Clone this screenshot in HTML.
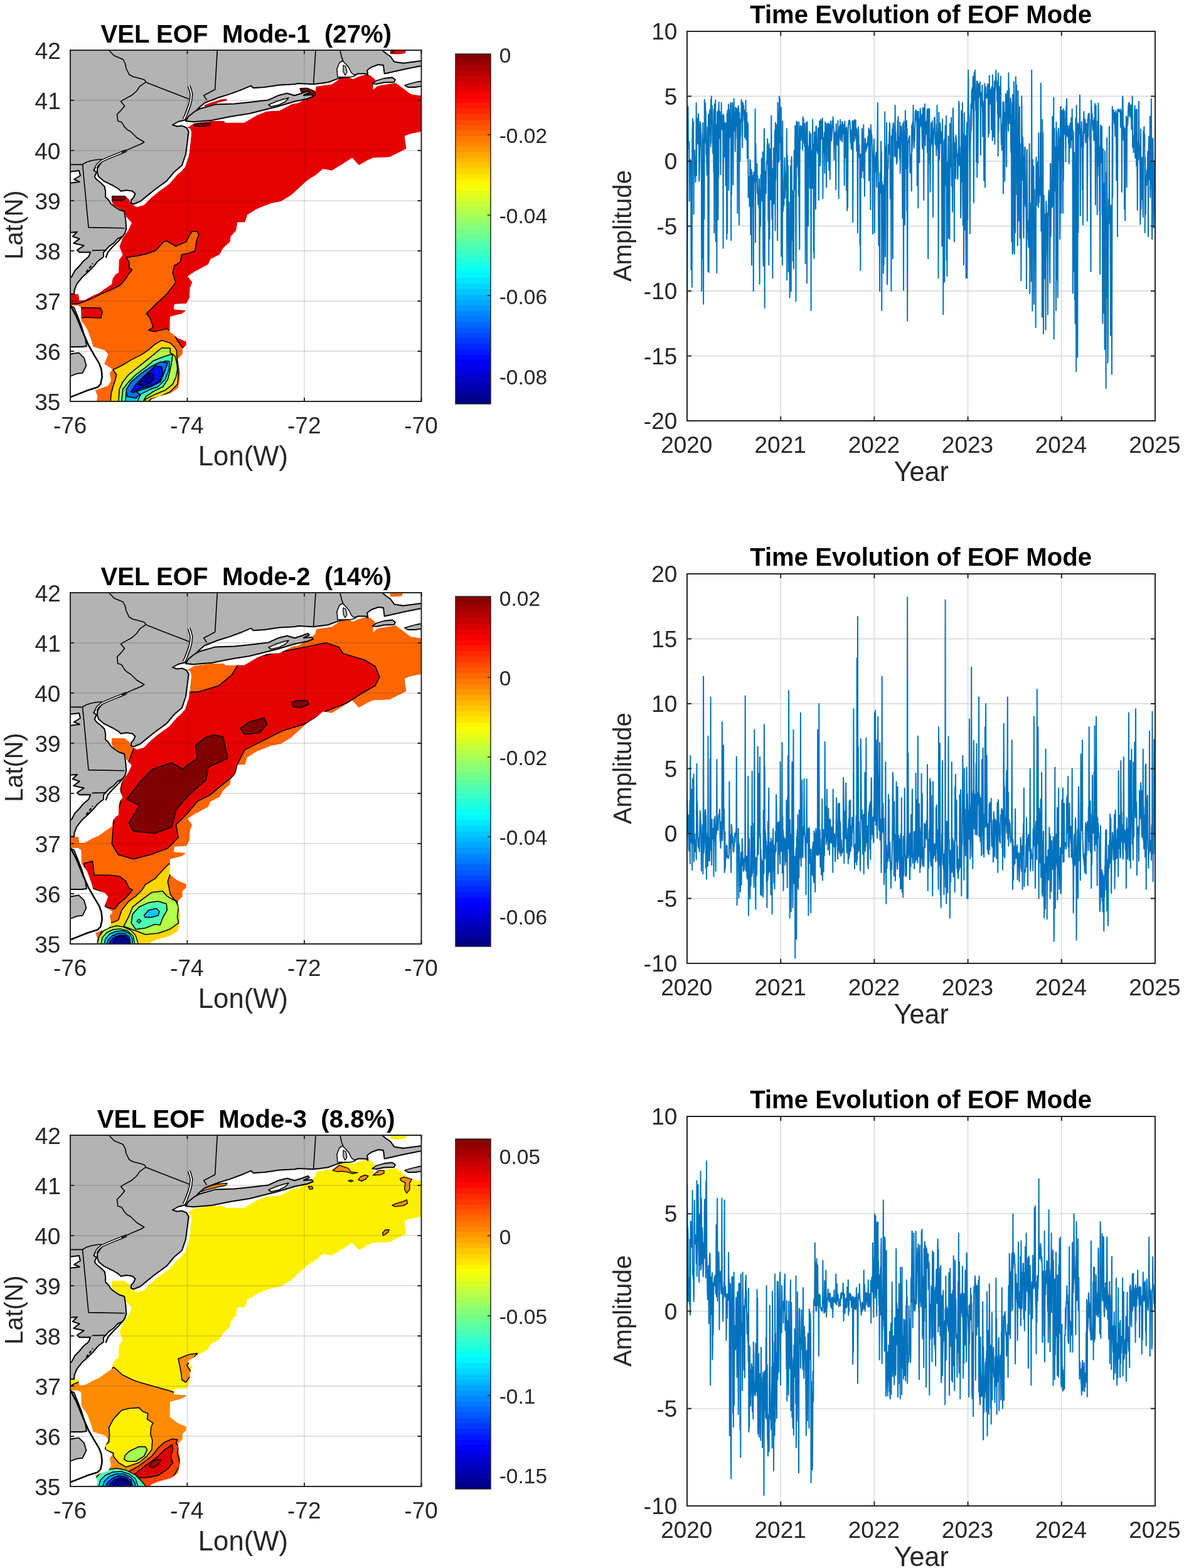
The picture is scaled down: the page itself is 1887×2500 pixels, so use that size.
<!DOCTYPE html><html><head><meta charset="utf-8"><title>EOF Modes</title>
<style>html,body{margin:0;padding:0;background:#fff;}svg{display:block;}text{font-family:"Liberation Sans", Arial, Helvetica, sans-serif;}</style></head><body>
<svg width="1887" height="2500" viewBox="0 0 1887 2500">
<rect width="1887" height="2500" fill="#fff"/>
<defs><linearGradient id="jet" x1="0" y1="1" x2="0" y2="0">
<stop offset="0.0000" stop-color="#000087"/><stop offset="0.0156" stop-color="#000087"/>
<stop offset="0.0156" stop-color="#000097"/><stop offset="0.0312" stop-color="#000097"/>
<stop offset="0.0312" stop-color="#0000a7"/><stop offset="0.0469" stop-color="#0000a7"/>
<stop offset="0.0469" stop-color="#0000b7"/><stop offset="0.0625" stop-color="#0000b7"/>
<stop offset="0.0625" stop-color="#0000c7"/><stop offset="0.0781" stop-color="#0000c7"/>
<stop offset="0.0781" stop-color="#0000d7"/><stop offset="0.0938" stop-color="#0000d7"/>
<stop offset="0.0938" stop-color="#0000e7"/><stop offset="0.1094" stop-color="#0000e7"/>
<stop offset="0.1094" stop-color="#0000f7"/><stop offset="0.1250" stop-color="#0000f7"/>
<stop offset="0.1250" stop-color="#0008ff"/><stop offset="0.1406" stop-color="#0008ff"/>
<stop offset="0.1406" stop-color="#0018ff"/><stop offset="0.1562" stop-color="#0018ff"/>
<stop offset="0.1562" stop-color="#0028ff"/><stop offset="0.1719" stop-color="#0028ff"/>
<stop offset="0.1719" stop-color="#0038ff"/><stop offset="0.1875" stop-color="#0038ff"/>
<stop offset="0.1875" stop-color="#0048ff"/><stop offset="0.2031" stop-color="#0048ff"/>
<stop offset="0.2031" stop-color="#0058ff"/><stop offset="0.2188" stop-color="#0058ff"/>
<stop offset="0.2188" stop-color="#0068ff"/><stop offset="0.2344" stop-color="#0068ff"/>
<stop offset="0.2344" stop-color="#0078ff"/><stop offset="0.2500" stop-color="#0078ff"/>
<stop offset="0.2500" stop-color="#0087ff"/><stop offset="0.2656" stop-color="#0087ff"/>
<stop offset="0.2656" stop-color="#0097ff"/><stop offset="0.2812" stop-color="#0097ff"/>
<stop offset="0.2812" stop-color="#00a7ff"/><stop offset="0.2969" stop-color="#00a7ff"/>
<stop offset="0.2969" stop-color="#00b7ff"/><stop offset="0.3125" stop-color="#00b7ff"/>
<stop offset="0.3125" stop-color="#00c7ff"/><stop offset="0.3281" stop-color="#00c7ff"/>
<stop offset="0.3281" stop-color="#00d7ff"/><stop offset="0.3438" stop-color="#00d7ff"/>
<stop offset="0.3438" stop-color="#00e7ff"/><stop offset="0.3594" stop-color="#00e7ff"/>
<stop offset="0.3594" stop-color="#00f7ff"/><stop offset="0.3750" stop-color="#00f7ff"/>
<stop offset="0.3750" stop-color="#08fff7"/><stop offset="0.3906" stop-color="#08fff7"/>
<stop offset="0.3906" stop-color="#18ffe7"/><stop offset="0.4062" stop-color="#18ffe7"/>
<stop offset="0.4062" stop-color="#28ffd7"/><stop offset="0.4219" stop-color="#28ffd7"/>
<stop offset="0.4219" stop-color="#38ffc7"/><stop offset="0.4375" stop-color="#38ffc7"/>
<stop offset="0.4375" stop-color="#48ffb7"/><stop offset="0.4531" stop-color="#48ffb7"/>
<stop offset="0.4531" stop-color="#58ffa7"/><stop offset="0.4688" stop-color="#58ffa7"/>
<stop offset="0.4688" stop-color="#68ff97"/><stop offset="0.4844" stop-color="#68ff97"/>
<stop offset="0.4844" stop-color="#78ff87"/><stop offset="0.5000" stop-color="#78ff87"/>
<stop offset="0.5000" stop-color="#87ff78"/><stop offset="0.5156" stop-color="#87ff78"/>
<stop offset="0.5156" stop-color="#97ff68"/><stop offset="0.5312" stop-color="#97ff68"/>
<stop offset="0.5312" stop-color="#a7ff58"/><stop offset="0.5469" stop-color="#a7ff58"/>
<stop offset="0.5469" stop-color="#b7ff48"/><stop offset="0.5625" stop-color="#b7ff48"/>
<stop offset="0.5625" stop-color="#c7ff38"/><stop offset="0.5781" stop-color="#c7ff38"/>
<stop offset="0.5781" stop-color="#d7ff28"/><stop offset="0.5938" stop-color="#d7ff28"/>
<stop offset="0.5938" stop-color="#e7ff18"/><stop offset="0.6094" stop-color="#e7ff18"/>
<stop offset="0.6094" stop-color="#f7ff08"/><stop offset="0.6250" stop-color="#f7ff08"/>
<stop offset="0.6250" stop-color="#fff700"/><stop offset="0.6406" stop-color="#fff700"/>
<stop offset="0.6406" stop-color="#ffe700"/><stop offset="0.6562" stop-color="#ffe700"/>
<stop offset="0.6562" stop-color="#ffd700"/><stop offset="0.6719" stop-color="#ffd700"/>
<stop offset="0.6719" stop-color="#ffc700"/><stop offset="0.6875" stop-color="#ffc700"/>
<stop offset="0.6875" stop-color="#ffb700"/><stop offset="0.7031" stop-color="#ffb700"/>
<stop offset="0.7031" stop-color="#ffa700"/><stop offset="0.7188" stop-color="#ffa700"/>
<stop offset="0.7188" stop-color="#ff9700"/><stop offset="0.7344" stop-color="#ff9700"/>
<stop offset="0.7344" stop-color="#ff8700"/><stop offset="0.7500" stop-color="#ff8700"/>
<stop offset="0.7500" stop-color="#ff7800"/><stop offset="0.7656" stop-color="#ff7800"/>
<stop offset="0.7656" stop-color="#ff6800"/><stop offset="0.7812" stop-color="#ff6800"/>
<stop offset="0.7812" stop-color="#ff5800"/><stop offset="0.7969" stop-color="#ff5800"/>
<stop offset="0.7969" stop-color="#ff4800"/><stop offset="0.8125" stop-color="#ff4800"/>
<stop offset="0.8125" stop-color="#ff3800"/><stop offset="0.8281" stop-color="#ff3800"/>
<stop offset="0.8281" stop-color="#ff2800"/><stop offset="0.8438" stop-color="#ff2800"/>
<stop offset="0.8438" stop-color="#ff1800"/><stop offset="0.8594" stop-color="#ff1800"/>
<stop offset="0.8594" stop-color="#ff0800"/><stop offset="0.8750" stop-color="#ff0800"/>
<stop offset="0.8750" stop-color="#f70000"/><stop offset="0.8906" stop-color="#f70000"/>
<stop offset="0.8906" stop-color="#e70000"/><stop offset="0.9062" stop-color="#e70000"/>
<stop offset="0.9062" stop-color="#d70000"/><stop offset="0.9219" stop-color="#d70000"/>
<stop offset="0.9219" stop-color="#c70000"/><stop offset="0.9375" stop-color="#c70000"/>
<stop offset="0.9375" stop-color="#b70000"/><stop offset="0.9531" stop-color="#b70000"/>
<stop offset="0.9531" stop-color="#a70000"/><stop offset="0.9688" stop-color="#a70000"/>
<stop offset="0.9688" stop-color="#970000"/><stop offset="0.9844" stop-color="#970000"/>
<stop offset="0.9844" stop-color="#870000"/><stop offset="1.0000" stop-color="#870000"/>
</linearGradient>
<clipPath id="mapclip"><rect x="112.0" y="80.0" width="559.5" height="560.0"/></clipPath>
<clipPath id="tsclip"><rect x="1095.0" y="50.0" width="746.0" height="621.0"/></clipPath>
</defs>
<g transform="translate(0,0)">
<g clip-path="url(#mapclip)">
<rect x="112" y="80" width="560" height="560" fill="#fff"/>
<path d="M298.0 204.0L309.0 196.6L335.5 193.0L357.0 193.0L359.5 195.4L389.4 195.4L409.8 183.4L425.3 177.4L445.7 176.2L466.0 165.4L475.0 164.2L493.0 154.6L502.5 145.1L503.7 137.9L528.9 134.3L540.9 125.9L552.8 122.3L562.4 125.9L570.8 122.3L582.8 118.7L590.0 119.9L598.4 127.1L594.8 135.5L594.8 142.7L602.0 136.7L630.7 131.9L645.0 142.7L654.6 149.9L669.0 152.3L674.0 152.3L674.0 209.7L654.6 213.3L645.0 216.9L647.5 237.3L621.1 250.5L594.8 251.7L586.4 255.2L572.0 263.6L561.2 251.7L544.5 262.4L528.9 272.0L514.5 269.6L504.9 278.0L490.0 287.5L475.6 300.7L463.7 311.4L448.1 321.0L431.3 324.6L409.8 333.0L394.2 342.6L390.6 354.6L378.6 354.6L376.2 367.7L367.8 377.3L366.6 385.7L355.9 395.3L349.9 406.0L335.5 413.2L331.9 421.6L316.3 430.0L310.0 433.3L299.2 440.5L306.4 450.0L302.8 459.4L302.0 475.0L297.0 484.0L278.0 485.0L277.0 493.0L297.0 495.0L290.0 500.0L271.0 505.0L270.5 528.8L282.5 538.4L296.8 544.4L296.8 550.4L290.8 556.0L290.8 564.8L283.7 571.9L284.8 582.7L287.2 594.7L286.0 606.7L283.7 618.7L271.7 627.0L253.7 631.8L241.7 636.6L235.7 645.0L153.0 645.0L155.5 631.8L151.9 622.2L172.3 615.1L177.1 606.7L174.7 594.7L179.5 588.7L166.3 580.3L172.3 564.8L167.5 558.8L148.3 552.8L145.9 543.2L138.7 524.0L129.8 512.1L129.2 490.5L124.4 486.9L110.0 487.0L110.0 469.0L125.0 469.0L126.7 479.0L135.4 478.2L148.4 471.0L157.1 467.4L167.2 460.2L178.0 452.9L179.5 444.2L184.5 437.0L188.9 434.8L189.6 414.6L195.4 406.6L193.9 402.3L190.3 393.6L194.7 380.6L201.2 371.2L204.8 366.2L209.8 355.3L201.0 345.8L199.0 338.0L193.8 335.1L181.9 327.9L178.0 322.0L178.0 312.0L199.0 312.0L206.0 318.0L209.0 325.0L218.0 330.0L229.0 327.0L240.0 316.0L252.0 306.0L270.0 293.0L282.0 279.0L289.0 273.0L295.0 266.0L301.0 248.0L304.0 222.0L305.0 211.0L303.0 205.0Z" fill="#e60000"/>
<path d="M309.0 198.0L318.0 196.5L335.0 196.5L334.0 200.0L320.0 201.5L310.0 201.0Z" fill="#800000" stroke="#000" stroke-width="1.3" stroke-linejoin="round"/>
<path d="M178.3 312.3L198.6 312.3L201.0 316.0L195.0 319.5L178.3 319.5Z" fill="#800000" stroke="#000" stroke-width="1.3" stroke-linejoin="round"/>
<path d="M105.0 484.5L124.4 484.5L145.9 476.1L160.3 469.0L177.1 462.0L191.4 454.8L199.8 445.2L203.4 439.3L210.6 429.7L205.8 427.3L205.8 417.7L201.0 410.5L217.8 408.1L229.8 405.7L247.7 399.7L260.9 385.4L265.7 384.2L280.0 392.6L296.8 385.4L301.6 375.8L306.0 369.0L314.0 369.0L317.0 374.0L313.0 385.0L311.0 400.0L300.0 404.0L289.6 405.7L287.2 417.7L277.7 423.7L275.3 435.7L280.0 450.0L278.9 452.2L265.7 469.0L247.7 485.7L233.4 500.1L239.3 507.3L244.1 521.6L236.9 526.4L246.5 528.8L265.7 524.0L277.7 531.2L281.3 540.8L289.6 552.8L300.0 560.0L300.0 660.0L105.0 660.0Z" fill="#ff6600" stroke="#000" stroke-width="1.6" stroke-linejoin="round"/>
<path d="M129.2 490.5L160.0 491.0L163.0 497.0L161.0 507.0L135.0 506.0L129.2 507.3Z" fill="#e60000" stroke="#000" stroke-width="1.6" stroke-linejoin="round"/>
<path d="M176.0 645.0L177.0 628.4L180.1 616.7L184.0 605.0L185.6 597.3L180.1 589.5L193.3 583.2L208.9 573.9L224.5 566.1L236.1 558.3L247.8 548.2L257.9 542.8L271.2 546.7L277.4 552.9L281.3 558.3L282.0 570.0L284.0 585.0L284.0 600.0L282.8 612.8L271.2 624.5L255.6 632.3L240.0 636.2L232.0 645.0Z" fill="#ffd600" stroke="#000" stroke-width="1.6" stroke-linejoin="round"/>
<path d="M188.7 645.0L190.2 620.6L195.7 608.9L205.0 597.3L216.7 587.9L232.3 575.5L243.9 566.1L257.9 554.5L271.2 555.2L271.2 562.2L279.0 567.7L282.0 580.0L282.8 589.5L280.5 601.1L275.1 612.8L263.4 622.2L247.8 628.4L232.3 636.2L229.1 645.0Z" fill="#b4ff4b" stroke="#000" stroke-width="1.6" stroke-linejoin="round"/>
<path d="M193.3 645.0L195.7 620.6L205.0 608.9L216.7 597.3L232.3 585.6L243.9 575.5L263.4 567.7L275.1 564.6L274.0 575.0L271.2 589.5L267.3 605.0L259.5 616.7L243.9 624.5L232.3 632.3L226.0 645.0Z" fill="#4dffb3" stroke="#000" stroke-width="1.6" stroke-linejoin="round"/>
<path d="M199.6 645.0L201.1 624.5L208.9 616.7L220.6 605.0L236.1 593.4L247.8 583.2L263.4 575.5L270.0 576.0L269.6 587.9L263.4 605.0L251.7 616.7L240.0 620.6L224.5 628.4L220.6 636.2L218.2 645.0Z" fill="#00c8ff" stroke="#000" stroke-width="1.6" stroke-linejoin="round"/>
<path d="M202.7 632.3L216.7 634.6L222.9 628.4L216.7 624.5L240.0 616.7L255.6 608.9L263.4 589.5L267.3 578.6L255.6 577.0L240.0 584.8L224.5 595.7L208.9 608.9L201.1 620.6Z" fill="#0070ff" stroke="#000" stroke-width="1.6" stroke-linejoin="round"/>
<path d="M208.9 624.5L216.7 612.8L232.3 597.3L247.8 583.2L257.9 584.8L259.5 595.7L254.0 608.9L240.0 615.2L224.5 619.0L212.8 626.0Z" fill="#0010f0" stroke="#000" stroke-width="1.6" stroke-linejoin="round"/>
<path d="M220.6 612.8L228.4 601.1L240.0 594.1L243.9 597.3L244.7 605.0L236.1 612.8L226.0 615.2Z" fill="#000096" stroke="#000" stroke-width="1.6" stroke-linejoin="round"/>
<path d="M100.0 70.0L690.0 70.0L690.0 650.0L100.0 650.0ZM298.0 204.0L309.0 196.6L335.5 193.0L357.0 193.0L359.5 195.4L389.4 195.4L409.8 183.4L425.3 177.4L445.7 176.2L466.0 165.4L475.0 164.2L493.0 154.6L502.5 145.1L503.7 137.9L528.9 134.3L540.9 125.9L552.8 122.3L562.4 125.9L570.8 122.3L582.8 118.7L590.0 119.9L598.4 127.1L594.8 135.5L594.8 142.7L602.0 136.7L630.7 131.9L645.0 142.7L654.6 149.9L669.0 152.3L674.0 152.3L674.0 209.7L654.6 213.3L645.0 216.9L647.5 237.3L621.1 250.5L594.8 251.7L586.4 255.2L572.0 263.6L561.2 251.7L544.5 262.4L528.9 272.0L514.5 269.6L504.9 278.0L490.0 287.5L475.6 300.7L463.7 311.4L448.1 321.0L431.3 324.6L409.8 333.0L394.2 342.6L390.6 354.6L378.6 354.6L376.2 367.7L367.8 377.3L366.6 385.7L355.9 395.3L349.9 406.0L335.5 413.2L331.9 421.6L316.3 430.0L310.0 433.3L299.2 440.5L306.4 450.0L302.8 459.4L302.0 475.0L297.0 484.0L278.0 485.0L277.0 493.0L297.0 495.0L290.0 500.0L271.0 505.0L270.5 528.8L282.5 538.4L296.8 544.4L296.8 550.4L290.8 556.0L290.8 564.8L283.7 571.9L284.8 582.7L287.2 594.7L286.0 606.7L283.7 618.7L271.7 627.0L253.7 631.8L241.7 636.6L235.7 645.0L153.0 645.0L155.5 631.8L151.9 622.2L172.3 615.1L177.1 606.7L174.7 594.7L179.5 588.7L166.3 580.3L172.3 564.8L167.5 558.8L148.3 552.8L145.9 543.2L138.7 524.0L129.8 512.1L129.2 490.5L124.4 486.9L110.0 487.0L110.0 469.0L125.0 469.0L126.7 479.0L135.4 478.2L148.4 471.0L157.1 467.4L167.2 460.2L178.0 452.9L179.5 444.2L184.5 437.0L188.9 434.8L189.6 414.6L195.4 406.6L193.9 402.3L190.3 393.6L194.7 380.6L201.2 371.2L204.8 366.2L209.8 355.3L201.0 345.8L199.0 338.0L193.8 335.1L181.9 327.9L178.0 322.0L178.0 312.0L199.0 312.0L206.0 318.0L209.0 325.0L218.0 330.0L229.0 327.0L240.0 316.0L252.0 306.0L270.0 293.0L282.0 279.0L289.0 273.0L295.0 266.0L301.0 248.0L304.0 222.0L305.0 211.0L303.0 205.0Z" fill="#fff" fill-rule="evenodd"/>
<path d="M478.0 141.0L490.0 140.5L501.0 145.0L503.0 151.0L497.0 153.0L490.0 150.0L480.0 147.0Z" fill="#800000" stroke="#000" stroke-width="1.3" stroke-linejoin="round"/>
<path d="M622.0 80.0L647.0 80.0L646.0 85.0L635.0 86.5L622.0 86.0Z" fill="#e60000"/>
<path d="M622.0 80.0L629.5 80.0L629.0 86.0L622.0 86.0Z" fill="#800000"/>
<path d="M325.0 168.0L335.0 164.0L345.0 161.0L352.0 158.5L361.0 157.5L362.0 160.0L350.0 163.0L338.0 167.0L327.0 170.0Z" fill="#e60000"/>
<path d="M110.0 78.0L606.7 78.0L615.0 85.0L622.3 90.0L628.3 98.4L642.7 100.8L660.0 98.5L669.0 97.2L674.0 97.0L674.0 105.5L669.0 105.5L645.0 110.3L628.3 113.9L612.7 117.5L611.0 104.0L603.0 103.0L592.0 107.0L585.2 112.0L586.4 119.9L582.8 117.5L570.8 117.5L558.8 122.3L546.9 123.5L537.3 125.9L522.9 131.3L499.0 134.3L475.0 133.1L469.6 134.3L445.7 135.5L421.7 139.1L403.8 140.3L400.2 136.7L385.8 142.7L366.6 149.9L347.5 155.8L325.9 164.2L316.3 172.6L306.0 184.0L296.0 191.0L284.0 194.0L275.0 199.0L282.0 201.5L290.0 200.5L297.2 203.7L300.8 209.7L299.2 221.7L296.0 245.7L290.0 263.6L284.8 268.0L277.7 274.0L265.7 288.4L247.7 301.5L235.7 311.1L223.4 321.2L212.6 325.5L209.0 324.0L209.0 319.0L212.6 315.4L215.5 309.0L211.2 304.7L201.8 303.2L192.5 304.7L188.9 301.1L180.3 296.0L174.5 293.2L165.9 288.9L157.3 281.7L155.1 275.9L155.1 268.7L158.0 264.0L162.3 258.0L160.0 258.0L151.6 267.3L149.4 271.6L153.7 274.5L150.8 281.7L153.7 286.0L160.9 291.7L166.6 297.5L168.1 304.7L168.1 314.0L173.1 319.0L176.7 324.8L183.9 330.5L191.1 334.8L196.1 336.3L198.3 337.2L200.4 351.7L201.2 364.7L199.0 371.9L195.4 377.0L187.4 380.6L180.9 387.8L173.7 392.9L168.6 398.7L165.0 402.3L165.0 409.5L155.6 416.8L149.8 424.0L141.2 432.7L130.3 442.8L122.4 452.9L118.7 462.3L118.0 468.8L110.0 468.8L110.0 442.0L113.7 442.1L119.5 431.2L126.7 424.0L132.5 416.8L141.2 409.5L144.0 402.3L126.7 402.3L123.1 398.7L133.9 391.5L117.3 387.8L126.7 380.6L115.8 377.0L123.1 369.8L110.0 371.0L110.0 292.0L127.0 290.0L118.0 286.0L128.0 280.0L126.0 272.0L110.0 274.0Z" fill="#b3b3b3" fill-rule="evenodd" stroke="#000" stroke-width="2" stroke-linejoin="round"/>
<path d="M317.5 173.8L342.7 166.6L373.8 165.4L397.8 163.0L427.7 159.4L443.3 152.3L457.7 148.7L469.6 152.3L480.0 149.0L491.0 145.0L493.0 147.5L484.0 152.0L497.0 151.0L499.0 154.0L490.0 157.5L469.6 161.8L440.9 170.2L421.7 175.0L397.8 181.0L367.8 185.8L337.9 191.8L308.0 194.2L296.0 193.0L300.0 186.0L310.0 178.0Z" fill="#b3b3b3" stroke="#000" stroke-width="2" stroke-linejoin="round"/>
<path d="M428.0 167.0L440.0 162.0L452.0 158.0L460.0 156.0L455.0 162.0L445.0 167.0L432.0 170.0Z" fill="#fff" stroke="#000" stroke-width="1.6" stroke-linejoin="round"/>
<path d="M593.6 133.1L600.0 128.5L612.0 125.0L625.0 123.5L630.0 127.0L628.0 131.0L612.0 131.5L600.0 134.0Z" fill="#b3b3b3" stroke="#000" stroke-width="1.8" stroke-linejoin="round"/>
<path d="M645.0 136.0L655.0 133.0L665.0 130.5L674.0 129.0L674.0 137.0L662.0 139.0L650.0 139.0Z" fill="#b3b3b3" stroke="#000" stroke-width="1.8" stroke-linejoin="round"/>
<path d="M110.0 487.0L118.0 490.0L124.0 505.0L130.0 520.0L136.0 540.0L138.0 552.0L130.0 553.0L110.0 553.0Z" fill="#b3b3b3" stroke="#000" stroke-width="1.8" stroke-linejoin="round"/>
<path d="M110.0 564.8L125.6 562.4L134.0 570.7L137.5 582.7L131.6 594.7L122.0 595.9L110.0 600.7Z" fill="#b3b3b3" stroke="#000" stroke-width="1.8" stroke-linejoin="round"/>
<path d="M110.0 486.5L112.4 486.9L122.0 504.9L131.6 528.8L141.1 550.4L150.7 567.2L157.9 579.1L161.5 588.7L162.7 600.7L160.3 612.7L155.5 617.5L139.9 622.2L122.0 629.4L110.0 634.0" fill="none" stroke="#000" stroke-width="2.6" stroke-linejoin="round"/>
<path d="M196.1 375.6L190.0 383.0L180.0 393.0L172.0 402.0L168.6 411.0" fill="none" stroke="#000" stroke-width="2.2" stroke-linejoin="round"/>
<path d="M137.5 434.0L148.0 420.0" fill="none" stroke="#000" stroke-width="2.2" stroke-dasharray="5 3"/>
<path d="M538.0 123.0L537.0 110.0L541.0 100.0L546.0 97.0L551.0 102.0L556.0 108.0L560.0 116.0L566.0 121.0L558.0 123.0L548.0 123.0Z" fill="#fff" stroke="#000" stroke-width="1.5" stroke-linejoin="round"/>
<path d="M547.0 104.0L551.0 106.0L553.0 115.0L550.0 120.0L547.0 114.0Z" fill="#b3b3b3" stroke="#000" stroke-width="1.3" stroke-linejoin="round"/>
<path d="M301.0 137.0L303.0 142.0L305.0 150.0L304.0 160.0L302.0 168.0L299.0 176.0L296.0 184.0L293.0 190.0" fill="none" stroke="#000" stroke-width="5"/>
<path d="M301.0 137.0L303.0 142.0L305.0 150.0L304.0 160.0L302.0 168.0L299.0 176.0L296.0 184.0L293.0 190.0" fill="none" stroke="#fff" stroke-width="2"/>
<path d="M201.8 240.0L193.8 243.3L181.9 248.0L170.0 253.0L162.3 256.5L156.0 262.0L153.0 266.5" fill="none" stroke="#000" stroke-width="4.5"/>
<path d="M201.8 240.0L193.8 243.3L181.9 248.0L170.0 253.0L162.3 256.5L156.0 262.0L153.0 266.5" fill="none" stroke="#fff" stroke-width="1.6"/>
<path d="M173.5 80.0L181.9 88.8L196.2 94.8L199.8 102.0L201.0 109.0L205.8 118.7L211.8 122.3L223.8 125.3L229.8 127.1L232.8 130.7M232.8 131.3L301.5 158.0M232.8 130.7L222.6 137.9L217.8 145.0L209.4 152.3L196.2 159.4L192.6 161.8L198.6 169.0L191.4 177.4L186.6 182.2L187.8 193.0L193.8 194.8L198.6 202.6L203.4 207.3L208.2 209.7L217.8 219.3L229.8 226.5L225.0 229.5L211.8 234.9L193.8 243.3M162.7 254.0L155.0 254.5L146.0 256.0L138.0 258.5L133.5 261.0L131.6 262.4M110.0 262.4L131.6 262.4M131.6 262.4L141.1 362.6L198.6 363.8M346.3 80.0L342.7 142.7L324.7 152.3L329.5 159.4M503.1 80.0L499.6 134.3M542.0 80.0L544.5 91.2L546.9 97.2M146.9 399.4L168.6 398.7" fill="none" stroke="#000" stroke-width="1.6" stroke-linejoin="round"/>
<line x1="298.5" y1="80.0" x2="298.5" y2="640.0" stroke="#262626" stroke-opacity="0.15" stroke-width="1.8"/>
<line x1="485.0" y1="80.0" x2="485.0" y2="640.0" stroke="#262626" stroke-opacity="0.15" stroke-width="1.8"/>
<line x1="112.0" y1="560.0" x2="671.5" y2="560.0" stroke="#262626" stroke-opacity="0.15" stroke-width="1.8"/>
<line x1="112.0" y1="480.0" x2="671.5" y2="480.0" stroke="#262626" stroke-opacity="0.15" stroke-width="1.8"/>
<line x1="112.0" y1="400.0" x2="671.5" y2="400.0" stroke="#262626" stroke-opacity="0.15" stroke-width="1.8"/>
<line x1="112.0" y1="320.0" x2="671.5" y2="320.0" stroke="#262626" stroke-opacity="0.15" stroke-width="1.8"/>
<line x1="112.0" y1="240.0" x2="671.5" y2="240.0" stroke="#262626" stroke-opacity="0.15" stroke-width="1.8"/>
<line x1="112.0" y1="160.0" x2="671.5" y2="160.0" stroke="#262626" stroke-opacity="0.15" stroke-width="1.8"/>
</g>
<rect x="112.0" y="80.0" width="559.5" height="560.0" fill="none" stroke="#262626" stroke-width="2"/>
<path d="M112.0 640.0v-6M112.0 80.0v6M298.5 640.0v-6M298.5 80.0v6M485.0 640.0v-6M485.0 80.0v6M671.5 640.0v-6M671.5 80.0v6M112.0 640.0h6M671.5 640.0h-6M112.0 560.0h6M671.5 560.0h-6M112.0 480.0h6M671.5 480.0h-6M112.0 400.0h6M671.5 400.0h-6M112.0 320.0h6M671.5 320.0h-6M112.0 240.0h6M671.5 240.0h-6M112.0 160.0h6M671.5 160.0h-6M112.0 80.0h6M671.5 80.0h-6" stroke="#262626" stroke-width="2" fill="none"/>
<text x="55.31" y="654.10" font-size="37.00" fill="#262626">35</text>
<text x="55.40" y="574.10" font-size="37.00" fill="#262626">36</text>
<text x="55.68" y="494.10" font-size="37.00" fill="#262626">37</text>
<text x="55.40" y="414.10" font-size="37.00" fill="#262626">38</text>
<text x="55.50" y="334.10" font-size="37.00" fill="#262626">39</text>
<text x="55.22" y="254.10" font-size="37.00" fill="#262626">40</text>
<text x="55.59" y="174.10" font-size="37.00" fill="#262626">41</text>
<text x="55.68" y="94.10" font-size="37.00" fill="#262626">42</text>
<text x="84.92" y="691.20" font-size="37.00" fill="#262626">-76</text>
<text x="271.14" y="691.20" font-size="37.00" fill="#262626">-74</text>
<text x="458.06" y="691.20" font-size="37.00" fill="#262626">-72</text>
<text x="644.33" y="691.20" font-size="37.00" fill="#262626">-70</text>
<text x="315.79" y="742.20" font-size="43.70" fill="#262626">Lon(W)</text>
<text transform="translate(36.00,413.67) rotate(-90)" x="0" y="0" font-size="40.00" fill="#262626" textLength="110.19" lengthAdjust="spacingAndGlyphs">Lat(N)</text>
<text x="160.40" y="68.00" font-size="40.20" fill="#000" font-weight="bold" xml:space="preserve">VEL EOF  Mode-1  (27%)</text>
<rect x="726" y="86" width="56" height="558" fill="url(#jet)" stroke="#262626" stroke-width="1.5"/>
<path d="M782 214.8h-5M782 343.0h-5M782 471.2h-5M782 599.4h-5" stroke="#262626" stroke-width="1.5"/>
<text x="795.86" y="100.00" font-size="33.50" fill="#262626">0</text>
<text x="795.69" y="228.20" font-size="33.50" fill="#262626">-0.02</text>
<text x="795.69" y="356.40" font-size="33.50" fill="#262626">-0.04</text>
<text x="795.69" y="484.60" font-size="33.50" fill="#262626">-0.06</text>
<text x="795.69" y="612.80" font-size="33.50" fill="#262626">-0.08</text>
<path d="M1244.2 50.0V671.0M1393.4 50.0V671.0M1542.6 50.0V671.0M1691.8 50.0V671.0M1095.0 567.5H1841.0M1095.0 464.0H1841.0M1095.0 360.5H1841.0M1095.0 257.0H1841.0M1095.0 153.5H1841.0" stroke="#262626" stroke-opacity="0.15" stroke-width="1.8" fill="none"/>
<g clip-path="url(#tsclip)">
<path d="M1095.0 200.1L1095.4 480.6L1095.8 230.1L1096.2 232.5L1096.6 170.1L1097.0 227.4L1097.4 231.8L1097.9 237.1L1098.3 226.1L1098.7 320.8L1099.1 267.2L1099.5 278.6L1099.9 271.5L1100.3 254.3L1100.7 275.8L1101.1 260.8L1101.5 430.0L1101.9 257.6L1102.3 265.7L1102.8 457.8L1103.2 228.6L1103.6 207.3L1104.0 189.2L1104.4 216.5L1104.8 240.8L1105.2 194.2L1105.6 341.6L1106.0 251.1L1106.4 265.7L1106.8 239.5L1107.2 255.5L1107.7 280.4L1108.1 253.7L1108.5 290.2L1108.9 258.1L1109.3 245.8L1109.7 163.9L1110.1 279.7L1110.5 197.7L1110.9 216.8L1111.3 217.9L1111.7 188.3L1112.1 229.4L1112.6 222.8L1113.0 181.2L1113.4 192.9L1113.8 209.6L1114.2 289.0L1114.6 280.1L1115.0 256.1L1115.4 231.4L1115.8 194.1L1116.2 233.6L1116.6 197.5L1117.0 211.7L1117.5 214.6L1117.9 274.8L1118.3 464.0L1118.7 254.6L1119.1 266.0L1119.5 411.5L1119.9 233.5L1120.3 196.1L1120.7 315.9L1121.1 484.7L1121.5 222.5L1121.9 253.4L1122.4 349.0L1122.8 158.7L1123.2 228.8L1123.6 215.1L1124.0 163.9L1124.4 180.7L1124.8 176.9L1125.2 197.3L1125.6 246.1L1126.0 224.7L1126.4 264.4L1126.8 279.1L1127.3 232.9L1127.7 203.6L1128.1 202.3L1128.5 432.9L1128.9 182.5L1129.3 195.1L1129.7 434.0L1130.1 184.7L1130.5 187.4L1130.9 181.6L1131.3 175.3L1131.7 201.4L1132.2 211.7L1132.6 233.9L1133.0 158.4L1133.4 227.9L1133.8 153.5L1134.2 189.8L1134.6 197.2L1135.0 168.8L1135.4 179.7L1135.8 209.5L1136.2 244.7L1136.6 201.5L1137.1 228.5L1137.5 275.0L1137.9 174.2L1138.3 370.9L1138.7 165.9L1139.1 182.9L1139.5 176.7L1139.9 234.3L1140.3 159.5L1140.7 384.4L1141.1 215.5L1141.5 198.4L1142.0 221.2L1142.4 435.0L1142.8 288.0L1143.2 178.3L1143.6 206.7L1144.0 212.8L1144.4 350.6L1144.8 174.4L1145.2 284.2L1145.6 162.8L1146.0 180.4L1146.4 188.3L1146.9 220.4L1147.3 178.0L1147.7 194.5L1148.1 214.8L1148.5 278.1L1148.9 193.3L1149.3 203.8L1149.7 163.9L1150.1 204.7L1150.5 197.0L1150.9 206.5L1151.3 184.0L1151.8 197.2L1152.2 206.1L1152.6 395.7L1153.0 182.3L1153.4 185.3L1153.8 216.8L1154.2 250.1L1154.6 246.0L1155.0 209.8L1155.4 195.2L1155.8 217.6L1156.2 250.8L1156.7 296.1L1157.1 282.2L1157.5 196.4L1157.9 216.2L1158.3 381.2L1158.7 181.1L1159.1 371.9L1159.5 178.5L1159.9 175.3L1160.3 184.1L1160.7 186.1L1161.1 166.3L1161.6 302.9L1162.0 175.2L1162.4 199.0L1162.8 186.4L1163.2 219.3L1163.6 191.7L1164.0 171.4L1164.4 164.1L1164.8 164.4L1165.2 383.3L1165.6 205.4L1166.0 310.3L1166.5 189.1L1166.9 197.5L1167.3 163.4L1167.7 198.9L1168.1 168.5L1168.5 294.4L1168.9 197.2L1169.3 208.9L1169.7 157.6L1170.1 207.9L1170.5 179.4L1170.9 206.7L1171.4 187.5L1171.8 241.6L1172.2 171.2L1172.6 172.6L1173.0 186.4L1173.4 201.1L1173.8 173.3L1174.2 188.7L1174.6 220.8L1175.0 173.6L1175.4 339.8L1175.8 203.8L1176.3 185.4L1176.7 168.8L1177.1 170.3L1177.5 187.3L1177.9 358.4L1178.3 179.6L1178.7 206.1L1179.1 190.0L1179.5 257.0L1179.9 205.5L1180.3 217.8L1180.7 191.8L1181.2 193.9L1181.6 159.1L1182.0 174.7L1182.4 168.9L1182.8 162.6L1183.2 235.5L1183.6 163.9L1184.0 164.4L1184.4 167.0L1184.8 170.6L1185.2 168.6L1185.6 183.8L1186.1 192.8L1186.5 175.9L1186.9 219.0L1187.3 191.7L1187.7 212.9L1188.1 206.0L1188.5 160.1L1188.9 222.6L1189.3 220.9L1189.7 199.5L1190.1 180.1L1190.5 200.1L1191.0 252.4L1191.4 207.2L1191.8 195.5L1192.2 201.4L1192.6 314.7L1193.0 296.5L1193.4 281.5L1193.8 308.8L1194.2 287.4L1194.6 328.9L1195.0 296.7L1195.4 254.7L1195.9 261.3L1196.3 373.8L1196.7 290.7L1197.1 326.7L1197.5 270.3L1197.9 422.6L1198.3 274.5L1198.7 303.0L1199.1 321.1L1199.5 326.2L1199.9 329.5L1200.3 279.5L1200.8 464.0L1201.2 313.7L1201.6 274.1L1202.0 290.6L1202.4 286.5L1202.8 288.9L1203.2 277.5L1203.6 174.2L1204.0 386.5L1204.4 229.1L1204.8 255.8L1205.2 279.0L1205.7 288.8L1206.1 281.4L1206.5 261.3L1206.9 307.9L1207.3 280.6L1207.7 305.8L1208.1 326.2L1208.5 324.6L1208.9 321.8L1209.3 298.9L1209.7 332.0L1210.1 285.2L1210.6 452.9L1211.0 308.5L1211.4 315.2L1211.8 302.4L1212.2 360.5L1212.6 279.3L1213.0 287.7L1213.4 303.5L1213.8 252.9L1214.2 306.9L1214.6 320.6L1215.0 316.4L1215.5 242.5L1215.9 327.9L1216.3 409.0L1216.7 424.1L1217.1 302.8L1217.5 270.0L1217.9 205.2L1218.3 242.4L1218.7 490.9L1219.1 276.3L1219.5 273.5L1219.9 309.3L1220.4 294.5L1220.8 308.4L1221.2 275.1L1221.6 259.7L1222.0 261.7L1222.4 254.6L1222.8 233.6L1223.2 221.5L1223.6 259.8L1224.0 243.4L1224.4 352.1L1224.8 232.9L1225.3 422.6L1225.7 229.2L1226.1 341.4L1226.5 380.6L1226.9 237.2L1227.3 266.1L1227.7 306.7L1228.1 316.1L1228.5 318.3L1228.9 259.3L1229.3 184.6L1229.7 273.0L1230.2 349.4L1230.6 292.5L1231.0 269.2L1231.4 443.3L1231.8 307.1L1232.2 291.4L1232.6 298.0L1233.0 235.9L1233.4 325.1L1233.8 253.0L1234.2 285.3L1234.6 240.6L1235.1 206.9L1235.5 367.8L1235.9 195.4L1236.3 287.3L1236.7 230.4L1237.1 230.9L1237.5 210.6L1237.9 198.8L1238.3 224.7L1238.7 245.6L1239.1 383.3L1239.5 163.7L1240.0 214.0L1240.4 181.7L1240.8 193.9L1241.2 258.5L1241.6 255.3L1242.0 153.5L1242.4 169.3L1242.8 157.6L1243.2 218.4L1243.6 227.3L1244.0 201.0L1244.4 255.0L1244.9 171.3L1245.3 408.4L1245.7 259.3L1246.1 220.2L1246.5 264.2L1246.9 422.6L1247.3 192.9L1247.7 334.0L1248.1 336.6L1248.5 322.7L1248.9 326.5L1249.3 328.0L1249.8 289.0L1250.2 269.7L1250.6 251.5L1251.0 284.1L1251.4 316.1L1251.8 296.5L1252.2 299.4L1252.6 280.6L1253.0 275.7L1253.4 277.9L1253.8 205.2L1254.2 446.6L1254.7 247.4L1255.1 265.2L1255.5 321.6L1255.9 263.5L1256.3 363.2L1256.7 432.9L1257.1 422.5L1257.5 322.6L1257.9 433.7L1258.3 415.1L1258.7 474.4L1259.1 434.7L1259.6 371.6L1260.0 265.1L1260.4 266.6L1260.8 464.0L1261.2 258.3L1261.6 249.8L1262.0 308.3L1262.4 375.9L1262.8 383.7L1263.2 304.2L1263.6 416.3L1264.0 400.0L1264.5 329.4L1264.9 428.4L1265.3 311.3L1265.7 239.7L1266.1 243.9L1266.5 303.1L1266.9 237.7L1267.3 200.4L1267.7 251.5L1268.1 302.2L1268.5 480.6L1268.9 290.0L1269.4 193.4L1269.8 266.1L1270.2 254.2L1270.6 223.2L1271.0 194.9L1271.4 260.9L1271.8 216.7L1272.2 281.0L1272.6 242.1L1273.0 312.9L1273.4 194.4L1273.8 345.5L1274.3 397.8L1274.7 219.6L1275.1 238.5L1275.5 202.2L1275.9 200.3L1276.3 220.1L1276.7 223.6L1277.1 206.3L1277.5 202.0L1277.9 201.5L1278.3 201.6L1278.7 201.6L1279.2 239.2L1279.6 186.6L1280.0 209.8L1280.4 189.1L1280.8 192.7L1281.2 222.8L1281.6 228.5L1282.0 197.1L1282.4 233.6L1282.8 211.2L1283.2 228.1L1283.6 420.2L1284.1 212.3L1284.5 195.7L1284.9 213.4L1285.3 242.6L1285.7 223.3L1286.1 451.6L1286.5 193.9L1286.9 228.2L1287.3 233.9L1287.7 236.1L1288.1 360.5L1288.5 234.4L1289.0 241.0L1289.4 246.3L1289.8 234.5L1290.2 209.8L1290.6 300.1L1291.0 271.1L1291.4 287.8L1291.8 283.7L1292.2 213.6L1292.6 495.1L1293.0 239.0L1293.4 275.2L1293.9 277.8L1294.3 294.5L1294.7 299.9L1295.1 190.8L1295.5 246.0L1295.9 229.3L1296.3 237.9L1296.7 401.9L1297.1 231.7L1297.5 412.0L1297.9 210.3L1298.3 314.1L1298.8 242.7L1299.2 223.1L1299.6 211.5L1300.0 333.6L1300.4 201.6L1300.8 221.4L1301.2 201.4L1301.6 228.5L1302.0 238.9L1302.4 240.4L1302.8 240.9L1303.2 245.0L1303.7 222.0L1304.1 204.6L1304.5 204.1L1304.9 319.1L1305.3 213.8L1305.7 230.8L1306.1 193.3L1306.5 233.1L1306.9 238.9L1307.3 264.6L1307.7 242.6L1308.1 190.4L1308.6 198.0L1309.0 196.7L1309.4 221.3L1309.8 205.1L1310.2 196.6L1310.6 188.7L1311.0 196.2L1311.4 316.3L1311.8 219.2L1312.2 226.9L1312.6 233.2L1313.0 243.2L1313.5 230.6L1313.9 211.2L1314.3 276.6L1314.7 248.3L1315.1 194.4L1315.5 219.2L1315.9 218.6L1316.3 202.3L1316.7 213.1L1317.1 298.4L1317.5 197.2L1317.9 204.1L1318.4 202.6L1318.8 214.9L1319.2 197.5L1319.6 257.0L1320.0 198.0L1320.4 206.5L1320.8 196.5L1321.2 271.3L1321.6 219.4L1322.0 208.4L1322.4 198.8L1322.8 285.7L1323.3 233.9L1323.7 225.4L1324.1 193.0L1324.5 204.4L1324.9 210.1L1325.3 224.1L1325.7 216.8L1326.1 210.3L1326.5 201.1L1326.9 192.7L1327.3 194.8L1327.7 186.6L1328.2 203.0L1328.6 203.8L1329.0 215.8L1329.4 254.9L1329.8 229.0L1330.2 225.0L1330.6 235.0L1331.0 210.9L1331.4 210.5L1331.8 216.7L1332.2 302.5L1332.6 197.6L1333.1 211.4L1333.5 223.8L1333.9 220.1L1334.3 219.7L1334.7 231.2L1335.1 231.0L1335.5 192.8L1335.9 230.1L1336.3 214.3L1336.7 316.2L1337.1 208.7L1337.5 212.0L1338.0 201.6L1338.4 207.5L1338.8 219.1L1339.2 190.8L1339.6 221.8L1340.0 223.7L1340.4 213.9L1340.8 204.8L1341.2 198.9L1341.6 215.3L1342.0 194.2L1342.4 226.0L1342.9 194.6L1343.3 212.5L1343.7 205.0L1344.1 204.1L1344.5 198.9L1344.9 212.7L1345.3 216.2L1345.7 295.8L1346.1 198.0L1346.5 193.2L1346.9 251.6L1347.3 225.3L1347.7 213.5L1348.2 226.2L1348.6 204.0L1349.0 303.6L1349.4 202.9L1349.8 215.3L1350.2 335.7L1350.6 233.7L1351.0 330.9L1351.4 239.6L1351.8 208.1L1352.2 197.4L1352.6 196.1L1353.1 191.8L1353.5 196.5L1353.9 198.2L1354.3 192.5L1354.7 194.4L1355.1 213.9L1355.5 227.0L1355.9 210.9L1356.3 227.1L1356.7 237.4L1357.1 207.1L1357.5 238.1L1358.0 231.4L1358.4 193.1L1358.8 222.0L1359.2 354.3L1359.6 242.7L1360.0 192.7L1360.4 218.0L1360.8 213.1L1361.2 222.2L1361.6 225.1L1362.0 190.8L1362.4 204.8L1362.9 208.0L1363.3 216.1L1363.7 191.8L1364.1 221.2L1364.5 204.1L1364.9 204.7L1365.3 240.7L1365.7 206.3L1366.1 218.5L1366.5 246.4L1366.9 370.9L1367.3 232.8L1367.8 252.1L1368.2 202.5L1368.6 224.1L1369.0 238.1L1369.4 232.0L1369.8 249.1L1370.2 249.2L1370.6 390.2L1371.0 248.3L1371.4 430.9L1371.8 245.9L1372.2 249.5L1372.7 258.1L1373.1 282.8L1373.5 243.3L1373.9 204.9L1374.3 237.2L1374.7 217.1L1375.1 272.4L1375.5 235.8L1375.9 227.7L1376.3 199.0L1376.7 284.0L1377.1 256.1L1377.6 247.9L1378.0 312.9L1378.4 233.4L1378.8 220.8L1379.2 225.5L1379.6 242.5L1380.0 234.6L1380.4 239.3L1380.8 229.7L1381.2 237.4L1381.6 234.7L1382.0 232.0L1382.5 226.4L1382.9 229.1L1383.3 217.9L1383.7 232.0L1384.1 223.8L1384.5 204.2L1384.9 288.1L1385.3 218.7L1385.7 207.8L1386.1 216.0L1386.5 276.0L1386.9 206.9L1387.4 334.3L1387.8 199.0L1388.2 210.9L1388.6 209.2L1389.0 228.8L1389.4 215.6L1389.8 224.0L1390.2 236.4L1390.6 263.6L1391.0 372.9L1391.4 246.4L1391.8 255.6L1392.3 251.3L1392.7 239.3L1393.1 222.0L1393.5 269.9L1393.9 370.9L1394.3 266.0L1394.7 274.8L1395.1 273.6L1395.5 248.0L1395.9 265.8L1396.3 243.1L1396.7 263.7L1397.2 298.4L1397.6 250.3L1398.0 238.9L1398.4 211.4L1398.8 163.9L1399.2 258.0L1399.6 259.2L1400.0 333.9L1400.4 391.6L1400.8 330.1L1401.2 291.1L1401.6 369.5L1402.1 464.0L1402.5 275.6L1402.9 298.9L1403.3 307.8L1403.7 265.7L1404.1 225.4L1404.5 256.5L1404.9 242.2L1405.3 495.1L1405.7 289.6L1406.1 325.7L1406.5 336.0L1407.0 332.8L1407.4 295.2L1407.8 435.6L1408.2 349.0L1408.6 422.6L1409.0 337.3L1409.4 281.7L1409.8 313.6L1410.2 178.3L1410.6 322.2L1411.0 409.3L1411.4 268.3L1411.9 233.7L1412.3 294.2L1412.7 290.0L1413.1 195.8L1413.5 277.8L1413.9 453.6L1414.3 439.1L1414.7 272.5L1415.1 268.2L1415.5 268.5L1415.9 230.6L1416.3 232.6L1416.8 244.9L1417.2 210.8L1417.6 209.3L1418.0 196.1L1418.4 216.6L1418.8 317.0L1419.2 256.1L1419.6 281.7L1420.0 256.0L1420.4 464.0L1420.8 216.7L1421.2 329.8L1421.7 224.7L1422.1 205.7L1422.5 221.4L1422.9 412.2L1423.3 200.9L1423.7 196.1L1424.1 204.5L1424.5 202.6L1424.9 201.6L1425.3 208.6L1425.7 249.0L1426.1 227.8L1426.6 168.0L1427.0 232.9L1427.4 210.5L1427.8 250.7L1428.2 235.1L1428.6 225.4L1429.0 261.3L1429.4 256.9L1429.8 257.4L1430.2 230.6L1430.6 192.2L1431.0 228.1L1431.5 185.9L1431.9 235.8L1432.3 225.5L1432.7 218.9L1433.1 228.7L1433.5 237.1L1433.9 253.1L1434.3 194.9L1434.7 276.5L1435.1 242.3L1435.5 205.7L1435.9 214.6L1436.4 201.6L1436.8 212.9L1437.2 212.2L1437.6 244.6L1438.0 281.7L1438.4 348.1L1438.8 197.5L1439.2 205.4L1439.6 220.4L1440.0 462.7L1440.4 193.5L1440.8 223.1L1441.3 216.1L1441.7 228.7L1442.1 358.4L1442.5 260.3L1442.9 176.3L1443.3 259.8L1443.7 268.7L1444.1 252.5L1444.5 228.8L1444.9 192.5L1445.3 336.1L1445.7 205.4L1446.2 511.6L1446.6 267.1L1447.0 266.6L1447.4 228.9L1447.8 224.4L1448.2 226.4L1448.6 220.0L1449.0 221.7L1449.4 218.9L1449.8 216.6L1450.2 274.4L1450.6 275.6L1451.1 274.9L1451.5 249.3L1451.9 255.9L1452.3 245.0L1452.7 304.6L1453.1 199.7L1453.5 241.3L1453.9 227.7L1454.3 197.8L1454.7 194.0L1455.1 216.3L1455.5 168.0L1456.0 218.1L1456.4 230.3L1456.8 236.1L1457.2 210.7L1457.6 225.3L1458.0 203.1L1458.4 201.8L1458.8 179.2L1459.2 176.5L1459.6 179.9L1460.0 175.5L1460.4 192.0L1460.9 179.5L1461.3 185.0L1461.7 295.8L1462.1 177.5L1462.5 208.7L1462.9 195.0L1463.3 331.5L1463.7 177.7L1464.1 216.7L1464.5 197.7L1464.9 189.2L1465.3 259.3L1465.8 194.6L1466.2 202.9L1466.6 173.1L1467.0 179.2L1467.4 190.6L1467.8 186.5L1468.2 201.0L1468.6 182.8L1469.0 199.9L1469.4 205.4L1469.8 232.7L1470.2 237.2L1470.7 172.0L1471.1 184.4L1471.5 193.1L1471.9 225.0L1472.3 319.1L1472.7 171.9L1473.1 225.1L1473.5 212.3L1473.9 165.9L1474.3 196.0L1474.7 231.9L1475.1 193.4L1475.6 207.7L1476.0 213.7L1476.4 207.3L1476.8 213.2L1477.2 196.5L1477.6 174.0L1478.0 243.3L1478.4 226.5L1478.8 204.4L1479.2 412.2L1479.6 173.5L1480.0 220.2L1480.5 224.5L1480.9 225.4L1481.3 173.7L1481.7 261.3L1482.1 227.8L1482.5 306.0L1482.9 244.2L1483.3 222.6L1483.7 232.4L1484.1 196.3L1484.5 223.2L1484.9 211.8L1485.4 228.4L1485.8 192.9L1486.2 219.8L1486.6 240.8L1487.0 346.0L1487.4 232.5L1487.8 222.1L1488.2 204.4L1488.6 207.0L1489.0 187.8L1489.4 213.1L1489.8 187.0L1490.3 212.6L1490.7 230.3L1491.1 213.4L1491.5 227.3L1491.9 231.7L1492.3 248.0L1492.7 197.6L1493.1 232.8L1493.5 168.0L1493.9 228.6L1494.3 227.0L1494.7 237.7L1495.2 211.0L1495.6 443.3L1496.0 212.4L1496.4 179.3L1496.8 255.4L1497.2 250.9L1497.6 228.6L1498.0 227.8L1498.4 196.0L1498.8 203.7L1499.2 228.4L1499.6 209.8L1500.1 211.5L1500.5 211.6L1500.9 253.8L1501.3 391.9L1501.7 268.6L1502.1 189.9L1502.5 269.0L1502.9 252.1L1503.3 501.3L1503.7 261.9L1504.1 441.1L1504.5 226.9L1505.0 222.8L1505.4 449.5L1505.8 233.8L1506.2 217.8L1506.6 199.9L1507.0 290.4L1507.4 275.8L1507.8 296.1L1508.2 184.6L1508.6 414.8L1509.0 294.4L1509.4 440.2L1509.9 259.0L1510.3 259.6L1510.7 303.9L1511.1 255.0L1511.5 217.0L1511.9 379.2L1512.3 269.3L1512.7 279.1L1513.1 255.6L1513.5 381.2L1513.9 196.9L1514.3 245.7L1514.8 235.1L1515.2 236.6L1515.6 266.2L1516.0 187.7L1516.4 272.4L1516.8 295.0L1517.2 297.4L1517.6 268.1L1518.0 337.8L1518.4 279.5L1518.8 172.4L1519.2 183.0L1519.7 224.4L1520.1 218.8L1520.5 238.4L1520.9 385.3L1521.3 228.1L1521.7 229.5L1522.1 255.2L1522.5 269.5L1522.9 284.5L1523.3 215.4L1523.7 225.6L1524.1 219.6L1524.6 240.8L1525.0 250.4L1525.4 245.0L1525.8 280.4L1526.2 285.8L1526.6 284.5L1527.0 257.4L1527.4 245.7L1527.8 235.3L1528.2 161.8L1528.6 166.8L1529.0 263.2L1529.5 233.7L1529.9 260.9L1530.3 265.7L1530.7 258.5L1531.1 347.2L1531.5 323.5L1531.9 221.4L1532.3 177.0L1532.7 269.7L1533.1 279.2L1533.5 289.7L1533.9 163.9L1534.4 307.7L1534.8 359.2L1535.2 272.1L1535.6 213.7L1536.0 422.6L1536.4 231.8L1536.8 180.3L1537.2 257.0L1537.6 234.5L1538.0 366.6L1538.4 253.9L1538.8 216.6L1539.3 370.1L1539.7 443.3L1540.1 249.0L1540.5 220.7L1540.9 195.6L1541.3 443.3L1541.7 212.3L1542.1 350.1L1542.5 172.7L1542.9 154.5L1543.3 112.1L1543.7 183.4L1544.2 182.9L1544.6 185.1L1545.0 219.3L1545.4 256.2L1545.8 372.4L1546.2 249.7L1546.6 222.7L1547.0 220.9L1547.4 165.9L1547.8 208.4L1548.2 176.8L1548.6 144.1L1549.1 169.9L1549.5 139.8L1549.9 172.7L1550.3 153.7L1550.7 121.7L1551.1 201.6L1551.5 201.5L1551.9 323.2L1552.3 197.8L1552.7 115.9L1553.1 159.5L1553.5 133.0L1554.0 112.1L1554.4 146.7L1554.8 147.2L1555.2 176.3L1555.6 160.3L1556.0 257.7L1556.4 144.5L1556.8 129.2L1557.2 282.4L1557.6 151.7L1558.0 130.7L1558.4 260.8L1558.9 207.7L1559.3 140.8L1559.7 156.3L1560.1 133.8L1560.5 134.9L1560.9 152.3L1561.3 153.7L1561.7 130.6L1562.1 143.1L1562.5 167.2L1562.9 246.9L1563.3 147.7L1563.8 148.2L1564.2 169.4L1564.6 167.4L1565.0 152.1L1565.4 135.8L1565.8 158.3L1566.2 217.8L1566.6 161.3L1567.0 167.2L1567.4 182.0L1567.8 200.0L1568.2 288.1L1568.7 178.4L1569.1 148.4L1569.5 133.3L1569.9 298.4L1570.3 140.0L1570.7 138.8L1571.1 138.5L1571.5 152.0L1571.9 153.2L1572.3 156.2L1572.7 151.3L1573.1 153.5L1573.6 156.0L1574.0 134.9L1574.4 134.1L1574.8 148.9L1575.2 218.6L1575.6 134.5L1576.0 212.6L1576.4 212.5L1576.8 120.4L1577.2 165.7L1577.6 149.0L1578.0 153.1L1578.5 142.9L1578.9 166.2L1579.3 154.8L1579.7 141.5L1580.1 206.4L1580.5 138.6L1580.9 176.2L1581.3 141.9L1581.7 224.2L1582.1 119.4L1582.5 201.3L1582.9 156.4L1583.4 218.2L1583.8 140.2L1584.2 169.6L1584.6 213.9L1585.0 129.6L1585.4 229.9L1585.8 133.9L1586.2 144.4L1586.6 133.5L1587.0 124.3L1587.4 112.1L1587.8 131.5L1588.3 128.2L1588.7 130.7L1589.1 161.5L1589.5 133.2L1589.9 181.8L1590.3 154.2L1590.7 248.7L1591.1 116.8L1591.5 211.0L1591.9 189.2L1592.3 147.8L1592.7 137.9L1593.1 139.3L1593.6 186.6L1594.0 152.9L1594.4 172.3L1594.8 121.4L1595.2 188.1L1595.6 218.5L1596.0 230.7L1596.4 198.3L1596.8 239.5L1597.2 214.6L1597.6 223.2L1598.0 195.1L1598.5 162.5L1598.9 308.8L1599.3 185.4L1599.7 162.7L1600.1 200.0L1600.5 251.5L1600.9 179.3L1601.3 288.7L1601.7 220.5L1602.1 179.1L1602.5 183.0L1602.9 149.3L1603.4 154.2L1603.8 158.8L1604.2 265.6L1604.6 164.2L1605.0 180.2L1605.4 145.0L1605.8 169.3L1606.2 153.1L1606.6 194.4L1607.0 208.8L1607.4 116.2L1607.8 146.1L1608.3 140.5L1608.7 197.2L1609.1 164.8L1609.5 186.9L1609.9 182.4L1610.3 185.5L1610.7 156.4L1611.1 238.3L1611.5 243.7L1611.9 184.1L1612.3 385.0L1612.7 242.9L1613.2 163.5L1613.6 405.2L1614.0 150.7L1614.4 401.9L1614.8 213.6L1615.2 363.4L1615.6 231.9L1616.0 130.3L1616.4 169.6L1616.8 404.8L1617.2 191.6L1617.6 230.8L1618.1 370.9L1618.5 234.4L1618.9 122.5L1619.3 200.6L1619.7 211.7L1620.1 135.7L1620.5 310.3L1620.9 268.7L1621.3 228.9L1621.7 391.6L1622.1 309.7L1622.5 144.7L1623.0 194.7L1623.4 352.0L1623.8 224.6L1624.2 185.0L1624.6 223.7L1625.0 170.0L1625.4 379.5L1625.8 229.0L1626.2 306.4L1626.6 342.6L1627.0 327.8L1627.4 447.4L1627.9 298.5L1628.3 153.5L1628.7 198.3L1629.1 287.0L1629.5 228.7L1629.9 218.6L1630.3 226.5L1630.7 236.0L1631.1 352.1L1631.5 379.2L1631.9 327.0L1632.3 249.4L1632.8 325.2L1633.2 235.3L1633.6 234.4L1634.0 279.6L1634.4 329.6L1634.8 304.2L1635.2 299.3L1635.6 364.7L1636.0 459.9L1636.4 242.4L1636.8 238.4L1637.2 327.1L1637.7 369.1L1638.1 352.5L1638.5 381.2L1638.9 379.7L1639.3 394.3L1639.7 383.8L1640.1 342.7L1640.5 229.3L1640.9 253.7L1641.3 468.1L1641.7 323.7L1642.1 350.4L1642.6 335.9L1643.0 336.7L1643.4 366.7L1643.8 448.5L1644.2 112.1L1644.6 311.7L1645.0 343.7L1645.4 495.6L1645.8 254.6L1646.2 351.9L1646.6 357.7L1647.0 282.0L1647.5 265.2L1647.9 484.7L1648.3 400.7L1648.7 302.7L1649.1 387.4L1649.5 409.7L1649.9 345.3L1650.3 387.3L1650.7 522.0L1651.1 293.3L1651.5 250.4L1651.9 305.3L1652.4 327.1L1652.8 261.9L1653.2 313.9L1653.6 263.2L1654.0 258.1L1654.4 264.5L1654.8 330.7L1655.2 212.2L1655.6 305.0L1656.0 322.9L1656.4 285.3L1656.8 283.3L1657.3 311.4L1657.7 308.1L1658.1 211.5L1658.5 294.3L1658.9 132.8L1659.3 368.5L1659.7 366.6L1660.1 360.9L1660.5 325.8L1660.9 505.4L1661.3 190.8L1661.7 366.6L1662.2 211.8L1662.6 322.3L1663.0 532.3L1663.4 386.7L1663.8 311.8L1664.2 343.0L1664.6 357.9L1665.0 443.9L1665.4 362.3L1665.8 341.7L1666.2 406.6L1666.6 526.1L1667.1 320.8L1667.5 325.5L1667.9 360.1L1668.3 378.9L1668.7 339.6L1669.1 399.3L1669.5 412.6L1669.9 501.6L1670.3 344.5L1670.7 342.1L1671.1 314.1L1671.5 303.3L1672.0 310.7L1672.4 323.2L1672.8 403.3L1673.2 451.2L1673.6 378.5L1674.0 260.8L1674.4 324.0L1674.8 376.5L1675.2 292.2L1675.6 309.3L1676.0 331.4L1676.4 262.5L1676.9 258.4L1677.3 186.0L1677.7 329.5L1678.1 318.5L1678.5 253.7L1678.9 309.6L1679.3 155.6L1679.7 540.6L1680.1 266.5L1680.5 205.1L1680.9 253.9L1681.3 252.0L1681.8 272.8L1682.2 304.9L1682.6 234.8L1683.0 495.1L1683.4 194.8L1683.8 223.5L1684.2 210.2L1684.6 446.3L1685.0 256.4L1685.4 235.6L1685.8 474.4L1686.2 289.7L1686.7 210.5L1687.1 204.5L1687.5 215.7L1687.9 227.9L1688.3 255.9L1688.7 222.5L1689.1 381.2L1689.5 360.5L1689.9 204.4L1690.3 170.1L1690.7 170.1L1691.1 339.6L1691.6 206.5L1692.0 199.2L1692.4 178.1L1692.8 176.1L1693.2 177.0L1693.6 265.7L1694.0 339.8L1694.4 189.3L1694.8 287.9L1695.2 173.8L1695.6 189.3L1696.0 177.1L1696.5 177.5L1696.9 211.0L1697.3 214.5L1697.7 208.2L1698.1 206.1L1698.5 257.8L1698.9 191.1L1699.3 168.8L1699.7 198.8L1700.1 157.6L1700.5 215.5L1700.9 203.9L1701.4 218.0L1701.8 200.7L1702.2 203.8L1702.6 207.6L1703.0 228.9L1703.4 223.5L1703.8 261.1L1704.2 217.0L1704.6 200.5L1705.0 214.0L1705.4 199.5L1705.8 196.7L1706.3 236.0L1706.7 234.9L1707.1 188.3L1707.5 205.7L1707.9 216.5L1708.3 222.9L1708.7 173.7L1709.1 212.3L1709.5 206.1L1709.9 467.4L1710.3 209.3L1710.7 211.6L1711.2 283.3L1711.6 432.9L1712.0 242.7L1712.4 275.9L1712.8 477.5L1713.2 269.3L1713.6 515.8L1714.0 446.9L1714.4 188.6L1714.8 230.1L1715.2 592.3L1715.6 168.0L1716.1 221.4L1716.5 213.0L1716.9 247.6L1717.3 569.6L1717.7 208.3L1718.1 196.2L1718.5 370.7L1718.9 198.2L1719.3 213.8L1719.7 202.5L1720.1 198.6L1720.5 206.4L1721.0 151.4L1721.4 218.7L1721.8 343.9L1722.2 216.6L1722.6 206.3L1723.0 216.7L1723.4 233.0L1723.8 194.2L1724.2 208.5L1724.6 209.5L1725.0 303.3L1725.4 217.2L1725.9 358.4L1726.3 225.7L1726.7 235.6L1727.1 189.4L1727.5 178.1L1727.9 212.1L1728.3 200.9L1728.7 197.4L1729.1 203.0L1729.5 190.5L1729.9 219.6L1730.3 227.5L1730.8 210.1L1731.2 214.5L1731.6 197.0L1732.0 197.7L1732.4 212.6L1732.8 352.2L1733.2 278.8L1733.6 189.6L1734.0 217.9L1734.4 181.8L1734.8 188.4L1735.2 181.6L1735.7 180.6L1736.1 186.6L1736.5 196.7L1736.9 222.8L1737.3 224.4L1737.7 253.8L1738.1 342.4L1738.5 432.9L1738.9 201.0L1739.3 159.7L1739.7 179.9L1740.1 181.8L1740.6 181.6L1741.0 196.5L1741.4 201.5L1741.8 208.2L1742.2 203.3L1742.6 192.8L1743.0 202.1L1743.4 223.7L1743.8 189.2L1744.2 187.6L1744.6 224.3L1745.0 165.2L1745.5 214.9L1745.9 326.5L1746.3 239.9L1746.7 168.3L1747.1 238.6L1747.5 230.0L1747.9 233.3L1748.3 251.5L1748.7 341.9L1749.1 193.8L1749.5 280.2L1749.9 234.3L1750.4 164.8L1750.8 178.3L1751.2 264.6L1751.6 234.1L1752.0 247.8L1752.4 336.2L1752.8 241.8L1753.2 437.1L1753.6 240.5L1754.0 199.5L1754.4 259.6L1754.8 249.1L1755.3 250.5L1755.7 257.8L1756.1 201.5L1756.5 342.5L1756.9 318.3L1757.3 515.5L1757.7 474.4L1758.1 237.4L1758.5 491.5L1758.9 498.8L1759.3 366.9L1759.7 473.5L1760.2 292.1L1760.6 557.1L1761.0 240.6L1761.4 526.2L1761.8 460.6L1762.2 399.4L1762.6 619.2L1763.0 407.4L1763.4 274.4L1763.8 474.9L1764.2 219.7L1764.6 382.9L1765.1 375.3L1765.5 578.6L1765.9 555.9L1766.3 405.6L1766.7 321.8L1767.1 316.7L1767.5 342.3L1767.9 201.9L1768.3 327.3L1768.7 356.7L1769.1 343.6L1769.5 333.5L1770.0 534.4L1770.4 327.2L1770.8 395.1L1771.2 376.1L1771.6 353.9L1772.0 596.5L1772.4 360.5L1772.8 170.1L1773.2 315.0L1773.6 194.4L1774.0 186.4L1774.4 175.5L1774.9 175.6L1775.3 183.0L1775.7 183.4L1776.1 196.6L1776.5 179.7L1776.9 190.9L1777.3 217.2L1777.7 187.3L1778.1 184.7L1778.5 176.6L1778.9 189.3L1779.3 287.5L1779.8 180.8L1780.2 214.2L1780.6 209.0L1781.0 377.1L1781.4 174.4L1781.8 174.3L1782.2 174.9L1782.6 175.9L1783.0 174.8L1783.4 178.0L1783.8 175.8L1784.2 178.1L1784.7 178.5L1785.1 175.4L1785.5 174.0L1785.9 199.7L1786.3 203.2L1786.7 179.1L1787.1 176.4L1787.5 178.9L1787.9 305.9L1788.3 194.0L1788.7 184.7L1789.1 153.5L1789.6 157.6L1790.0 204.5L1790.4 223.5L1790.8 222.6L1791.2 222.5L1791.6 202.0L1792.0 333.6L1792.4 222.5L1792.8 209.3L1793.2 351.4L1793.6 205.6L1794.0 211.8L1794.5 215.1L1794.9 185.5L1795.3 186.6L1795.7 298.4L1796.1 212.5L1796.5 188.2L1796.9 190.2L1797.3 199.8L1797.7 190.0L1798.1 173.2L1798.5 168.3L1798.9 164.5L1799.4 177.0L1799.8 163.5L1800.2 185.1L1800.6 176.7L1801.0 169.0L1801.4 167.6L1801.8 186.4L1802.2 172.9L1802.6 167.4L1803.0 191.8L1803.4 206.1L1803.8 187.2L1804.3 192.0L1804.7 153.5L1805.1 235.2L1805.5 217.5L1805.9 216.0L1806.3 227.6L1806.7 243.2L1807.1 221.0L1807.5 232.2L1807.9 199.9L1808.3 174.0L1808.7 168.6L1809.2 251.7L1809.6 197.9L1810.0 211.7L1810.4 220.5L1810.8 175.2L1811.2 264.4L1811.6 213.8L1812.0 174.2L1812.4 276.7L1812.8 334.9L1813.2 262.0L1813.6 227.2L1814.1 233.2L1814.5 253.9L1814.9 161.8L1815.3 198.1L1815.7 239.7L1816.1 232.3L1816.5 238.9L1816.9 266.0L1817.3 357.6L1817.7 333.6L1818.1 206.1L1818.5 333.0L1819.0 256.1L1819.4 260.1L1819.8 317.9L1820.2 260.0L1820.6 250.8L1821.0 278.1L1821.4 323.4L1821.8 346.0L1822.2 208.9L1822.6 216.7L1823.0 232.8L1823.4 202.0L1823.9 233.7L1824.3 214.1L1824.7 370.9L1825.1 251.2L1825.5 286.6L1825.9 341.8L1826.3 286.7L1826.7 284.5L1827.1 279.4L1827.5 295.1L1827.9 271.8L1828.3 284.0L1828.8 270.8L1829.2 241.4L1829.6 247.4L1830.0 377.1L1830.4 260.1L1830.8 226.6L1831.2 217.5L1831.6 251.6L1832.0 285.1L1832.4 287.0L1832.8 185.5L1833.2 314.8L1833.7 255.3L1834.1 272.3L1834.5 260.0L1834.9 157.6L1835.3 289.5L1835.7 306.3L1836.1 381.2L1836.5 308.2L1836.9 248.2L1837.3 220.6L1837.7 220.8L1838.1 321.5L1838.6 363.2L1839.0 329.4L1839.4 259.3L1839.8 276.9L1840.2 303.1L1840.6 258.5" fill="none" stroke="#0072bd" stroke-width="2" stroke-linejoin="round"/>
</g>
<rect x="1095" y="50" width="746" height="621" fill="none" stroke="#262626" stroke-width="2"/>
<path d="M1095.0 671.0v-7M1095.0 50.0v7M1244.2 671.0v-7M1244.2 50.0v7M1393.4 671.0v-7M1393.4 50.0v7M1542.6 671.0v-7M1542.6 50.0v7M1691.8 671.0v-7M1691.8 50.0v7M1841.0 671.0v-7M1841.0 50.0v7M1095.0 671.0h7M1841.0 671.0h-7M1095.0 567.5h7M1841.0 567.5h-7M1095.0 464.0h7M1841.0 464.0h-7M1095.0 360.5h7M1841.0 360.5h-7M1095.0 257.0h7M1841.0 257.0h-7M1095.0 153.5h7M1841.0 153.5h-7M1095.0 50.0h7M1841.0 50.0h-7" stroke="#262626" stroke-width="2" fill="none"/>
<text x="1025.82" y="684.00" font-size="37.00" fill="#262626">-20</text>
<text x="1025.92" y="580.50" font-size="37.00" fill="#262626">-15</text>
<text x="1025.82" y="477.00" font-size="37.00" fill="#262626">-10</text>
<text x="1046.54" y="373.50" font-size="37.00" fill="#262626">-5</text>
<text x="1058.75" y="270.00" font-size="37.00" fill="#262626">0</text>
<text x="1058.85" y="166.50" font-size="37.00" fill="#262626">5</text>
<text x="1038.22" y="63.00" font-size="37.00" fill="#262626">10</text>
<text x="1053.15" y="722.00" font-size="37.00" fill="#262626">2020</text>
<text x="1202.54" y="722.00" font-size="37.00" fill="#262626">2021</text>
<text x="1351.78" y="722.00" font-size="37.00" fill="#262626">2022</text>
<text x="1500.85" y="722.00" font-size="37.00" fill="#262626">2023</text>
<text x="1649.77" y="722.00" font-size="37.00" fill="#262626">2024</text>
<text x="1799.20" y="722.00" font-size="37.00" fill="#262626">2025</text>
<text x="1424.63" y="766.50" font-size="43.50" fill="#262626" textLength="87.14" lengthAdjust="spacingAndGlyphs">Year</text>
<text transform="translate(1006.00,449.10) rotate(-90)" x="0" y="0" font-size="40.50" fill="#262626" textLength="177.88" lengthAdjust="spacingAndGlyphs">Amplitude</text>
<text x="1195.22" y="36.50" font-size="40.10" fill="#000" font-weight="bold">Time Evolution of EOF Mode</text>
</g>
<g transform="translate(0,865)">
<g clip-path="url(#mapclip)">
<rect x="112" y="80" width="560" height="560" fill="#fff"/>
<path d="M298.0 204.0L309.0 196.6L335.5 193.0L357.0 193.0L359.5 195.4L389.4 195.4L409.8 183.4L425.3 177.4L445.7 176.2L466.0 165.4L475.0 164.2L493.0 154.6L502.5 145.1L503.7 137.9L528.9 134.3L540.9 125.9L552.8 122.3L562.4 125.9L570.8 122.3L582.8 118.7L590.0 119.9L598.4 127.1L594.8 135.5L594.8 142.7L602.0 136.7L630.7 131.9L645.0 142.7L654.6 149.9L669.0 152.3L674.0 152.3L674.0 209.7L654.6 213.3L645.0 216.9L647.5 237.3L621.1 250.5L594.8 251.7L586.4 255.2L572.0 263.6L561.2 251.7L544.5 262.4L528.9 272.0L514.5 269.6L504.9 278.0L490.0 287.5L475.6 300.7L463.7 311.4L448.1 321.0L431.3 324.6L409.8 333.0L394.2 342.6L390.6 354.6L378.6 354.6L376.2 367.7L367.8 377.3L366.6 385.7L355.9 395.3L349.9 406.0L335.5 413.2L331.9 421.6L316.3 430.0L310.0 433.3L299.2 440.5L306.4 450.0L302.8 459.4L302.0 475.0L297.0 484.0L278.0 485.0L277.0 493.0L297.0 495.0L290.0 500.0L271.0 505.0L270.5 528.8L282.5 538.4L296.8 544.4L296.8 550.4L290.8 556.0L290.8 564.8L283.7 571.9L284.8 582.7L287.2 594.7L286.0 606.7L283.7 618.7L271.7 627.0L253.7 631.8L241.7 636.6L235.7 645.0L153.0 645.0L155.5 631.8L151.9 622.2L172.3 615.1L177.1 606.7L174.7 594.7L179.5 588.7L166.3 580.3L172.3 564.8L167.5 558.8L148.3 552.8L145.9 543.2L138.7 524.0L129.8 512.1L129.2 490.5L124.4 486.9L110.0 487.0L110.0 469.0L125.0 469.0L126.7 479.0L135.4 478.2L148.4 471.0L157.1 467.4L167.2 460.2L178.0 452.9L179.5 444.2L184.5 437.0L188.9 434.8L189.6 414.6L195.4 406.6L193.9 402.3L190.3 393.6L194.7 380.6L201.2 371.2L204.8 366.2L209.8 355.3L201.0 345.8L199.0 338.0L193.8 335.1L181.9 327.9L178.0 322.0L178.0 312.0L199.0 312.0L206.0 318.0L209.0 325.0L218.0 330.0L229.0 327.0L240.0 316.0L252.0 306.0L270.0 293.0L282.0 279.0L289.0 273.0L295.0 266.0L301.0 248.0L304.0 222.0L305.0 211.0L303.0 205.0Z" fill="#ff6600"/>
<path d="M297.0 237.0L299.4 238.4L314.8 238.4L348.9 228.2L369.4 211.1L379.6 194.0L417.2 180.4L485.4 166.7L519.6 159.9L540.1 166.7L546.9 177.0L581.0 187.2L598.1 197.5L604.9 214.5L598.1 228.2L574.2 241.8L553.7 255.5L519.6 269.1L485.4 289.6L451.3 299.8L417.2 316.9L389.9 330.6L379.6 351.0L372.8 371.5L355.7 385.2L335.3 402.2L314.8 412.5L297.7 433.0L280.6 450.0L284.1 470.5L267.0 487.6L239.7 497.8L212.4 504.6L188.5 497.8L178.3 480.7L181.7 439.8L191.9 415.9L193.6 385.2L202.2 357.9L212.4 330.0L214.0 322.0L240.0 300.0L270.0 280.0L292.0 250.0Z" fill="#e60000" stroke="#000" stroke-width="1.6" stroke-linejoin="round"/>
<path d="M342.0 306.7L355.7 310.1L362.6 344.2L331.8 357.9L328.4 378.3L301.1 402.2L280.6 426.1L273.8 453.4L246.5 463.7L212.4 460.2L205.6 446.6L222.6 419.3L202.2 409.1L226.0 378.3L243.1 361.3L273.8 351.0L290.9 361.3L304.5 351.0L314.8 344.2L311.4 323.7L328.4 310.1Z" fill="#800000" stroke="#000" stroke-width="1.6" stroke-linejoin="round"/>
<path d="M383.0 296.4L396.7 286.2L420.6 279.4L425.7 289.6L413.8 303.3L389.9 306.0Z" fill="#800000" stroke="#000" stroke-width="1.6" stroke-linejoin="round"/>
<path d="M465.0 255.0L475.0 251.5L490.0 252.0L492.0 258.0L480.0 263.0L467.0 262.0Z" fill="#800000" stroke="#000" stroke-width="1.4" stroke-linejoin="round"/>
<path d="M176.0 310.0L200.0 310.0L206.0 318.0L209.0 325.0L210.0 332.0L201.0 338.0L193.8 335.1L181.9 327.9L176.0 322.0Z" fill="#ff6600"/>
<path d="M133.9 511.5L147.5 508.0L150.2 530.3L173.6 530.3L190.9 532.3L201.1 540.5L205.2 550.6L211.3 553.7L201.1 565.9L188.9 576.1L182.8 584.2L167.5 581.2L167.5 572.0L170.5 565.9L163.4 557.8L146.1 550.6L135.0 535.0Z" fill="#e60000" stroke="#000" stroke-width="1.6" stroke-linejoin="round"/>
<path d="M269.3 512.0L275.0 517.0L272.4 525.2L267.3 540.5L271.4 560.8L277.5 569.0L284.6 574.1L300.0 580.0L300.0 645.0L150.0 645.0L160.0 625.0L165.0 610.0L182.8 604.6L188.9 601.6L194.0 586.3L205.2 572.0L216.4 563.9L226.6 553.7L231.6 545.5L247.9 535.4L252.0 530.3Z" fill="#ffd600" stroke="#000" stroke-width="1.6" stroke-linejoin="round"/>
<path d="M259.1 555.7L266.3 563.9L280.5 572.0L284.6 581.2L282.6 596.5L284.6 606.7L270.3 616.8L252.0 623.0L231.6 625.0L216.4 618.9L197.0 611.7L205.2 596.5L211.3 581.2L226.6 569.0L241.8 557.8Z" fill="#b4ff4b" stroke="#000" stroke-width="1.6" stroke-linejoin="round"/>
<path d="M252.0 572.0L265.3 576.1L266.3 586.3L260.2 596.5L255.1 609.7L246.9 608.7L231.6 614.8L216.4 616.8L209.2 606.7L211.3 592.4L221.5 581.2L236.7 574.1Z" fill="#4dffb3" stroke="#000" stroke-width="1.6" stroke-linejoin="round"/>
<path d="M229.6 594.4L236.7 586.3L249.0 583.2L254.1 588.3L252.0 594.4L241.8 597.5L231.6 597.5Z" fill="#00c8ff" stroke="#000" stroke-width="1.6" stroke-linejoin="round"/>
<path d="M218.0 603.6L221.5 600.5L225.0 603.6L221.5 606.7Z" fill="#00c8ff" stroke="#000" stroke-width="1.3" stroke-linejoin="round"/>
<path d="M154.0 645.0L158.0 628.0L165.0 619.0L175.0 614.0L186.0 611.0L197.0 613.0L208.0 618.0L216.0 626.0L222.0 645.0Z" fill="#b4ff4b" stroke="#000" stroke-width="1.4" stroke-linejoin="round"/>
<path d="M160.0 645.0L163.0 630.0L170.0 622.0L180.0 617.0L192.0 616.0L203.0 619.0L212.0 627.0L216.0 645.0Z" fill="#4dffb3" stroke="#000" stroke-width="1.4" stroke-linejoin="round"/>
<path d="M165.0 645.0L168.0 632.0L175.0 624.0L185.0 620.0L196.0 619.0L206.0 623.0L211.0 632.0L212.0 645.0Z" fill="#00c8ff" stroke="#000" stroke-width="1.4" stroke-linejoin="round"/>
<path d="M169.0 645.0L172.0 634.0L179.0 627.0L188.0 623.0L198.0 623.0L206.0 628.0L209.0 645.0Z" fill="#0070ff" stroke="#000" stroke-width="1.4" stroke-linejoin="round"/>
<path d="M173.0 645.0L176.0 635.0L183.0 629.0L192.0 626.0L201.0 627.0L207.0 633.0L208.0 645.0Z" fill="#0010f0" stroke="#000" stroke-width="1.4" stroke-linejoin="round"/>
<path d="M180.0 645.0L182.0 634.0L189.0 628.0L197.0 628.0L204.0 633.0L206.0 645.0Z" fill="#000096" stroke="#000" stroke-width="1.4" stroke-linejoin="round"/>
<path d="M100.0 70.0L690.0 70.0L690.0 650.0L100.0 650.0ZM298.0 204.0L309.0 196.6L335.5 193.0L357.0 193.0L359.5 195.4L389.4 195.4L409.8 183.4L425.3 177.4L445.7 176.2L466.0 165.4L475.0 164.2L493.0 154.6L502.5 145.1L503.7 137.9L528.9 134.3L540.9 125.9L552.8 122.3L562.4 125.9L570.8 122.3L582.8 118.7L590.0 119.9L598.4 127.1L594.8 135.5L594.8 142.7L602.0 136.7L630.7 131.9L645.0 142.7L654.6 149.9L669.0 152.3L674.0 152.3L674.0 209.7L654.6 213.3L645.0 216.9L647.5 237.3L621.1 250.5L594.8 251.7L586.4 255.2L572.0 263.6L561.2 251.7L544.5 262.4L528.9 272.0L514.5 269.6L504.9 278.0L490.0 287.5L475.6 300.7L463.7 311.4L448.1 321.0L431.3 324.6L409.8 333.0L394.2 342.6L390.6 354.6L378.6 354.6L376.2 367.7L367.8 377.3L366.6 385.7L355.9 395.3L349.9 406.0L335.5 413.2L331.9 421.6L316.3 430.0L310.0 433.3L299.2 440.5L306.4 450.0L302.8 459.4L302.0 475.0L297.0 484.0L278.0 485.0L277.0 493.0L297.0 495.0L290.0 500.0L271.0 505.0L270.5 528.8L282.5 538.4L296.8 544.4L296.8 550.4L290.8 556.0L290.8 564.8L283.7 571.9L284.8 582.7L287.2 594.7L286.0 606.7L283.7 618.7L271.7 627.0L253.7 631.8L241.7 636.6L235.7 645.0L153.0 645.0L155.5 631.8L151.9 622.2L172.3 615.1L177.1 606.7L174.7 594.7L179.5 588.7L166.3 580.3L172.3 564.8L167.5 558.8L148.3 552.8L145.9 543.2L138.7 524.0L129.8 512.1L129.2 490.5L124.4 486.9L110.0 487.0L110.0 469.0L125.0 469.0L126.7 479.0L135.4 478.2L148.4 471.0L157.1 467.4L167.2 460.2L178.0 452.9L179.5 444.2L184.5 437.0L188.9 434.8L189.6 414.6L195.4 406.6L193.9 402.3L190.3 393.6L194.7 380.6L201.2 371.2L204.8 366.2L209.8 355.3L201.0 345.8L199.0 338.0L193.8 335.1L181.9 327.9L178.0 322.0L178.0 312.0L199.0 312.0L206.0 318.0L209.0 325.0L218.0 330.0L229.0 327.0L240.0 316.0L252.0 306.0L270.0 293.0L282.0 279.0L289.0 273.0L295.0 266.0L301.0 248.0L304.0 222.0L305.0 211.0L303.0 205.0Z" fill="#fff" fill-rule="evenodd"/>
<path d="M622.0 80.0L642.0 80.0L641.0 85.0L630.0 86.5L622.0 86.0Z" fill="#ff6600"/>
<path d="M110.0 78.0L606.7 78.0L615.0 85.0L622.3 90.0L628.3 98.4L642.7 100.8L660.0 98.5L669.0 97.2L674.0 97.0L674.0 105.5L669.0 105.5L645.0 110.3L628.3 113.9L612.7 117.5L611.0 104.0L603.0 103.0L592.0 107.0L585.2 112.0L586.4 119.9L582.8 117.5L570.8 117.5L558.8 122.3L546.9 123.5L537.3 125.9L522.9 131.3L499.0 134.3L475.0 133.1L469.6 134.3L445.7 135.5L421.7 139.1L403.8 140.3L400.2 136.7L385.8 142.7L366.6 149.9L347.5 155.8L325.9 164.2L316.3 172.6L306.0 184.0L296.0 191.0L284.0 194.0L275.0 199.0L282.0 201.5L290.0 200.5L297.2 203.7L300.8 209.7L299.2 221.7L296.0 245.7L290.0 263.6L284.8 268.0L277.7 274.0L265.7 288.4L247.7 301.5L235.7 311.1L223.4 321.2L212.6 325.5L209.0 324.0L209.0 319.0L212.6 315.4L215.5 309.0L211.2 304.7L201.8 303.2L192.5 304.7L188.9 301.1L180.3 296.0L174.5 293.2L165.9 288.9L157.3 281.7L155.1 275.9L155.1 268.7L158.0 264.0L162.3 258.0L160.0 258.0L151.6 267.3L149.4 271.6L153.7 274.5L150.8 281.7L153.7 286.0L160.9 291.7L166.6 297.5L168.1 304.7L168.1 314.0L173.1 319.0L176.7 324.8L183.9 330.5L191.1 334.8L196.1 336.3L198.3 337.2L200.4 351.7L201.2 364.7L199.0 371.9L195.4 377.0L187.4 380.6L180.9 387.8L173.7 392.9L168.6 398.7L165.0 402.3L165.0 409.5L155.6 416.8L149.8 424.0L141.2 432.7L130.3 442.8L122.4 452.9L118.7 462.3L118.0 468.8L110.0 468.8L110.0 442.0L113.7 442.1L119.5 431.2L126.7 424.0L132.5 416.8L141.2 409.5L144.0 402.3L126.7 402.3L123.1 398.7L133.9 391.5L117.3 387.8L126.7 380.6L115.8 377.0L123.1 369.8L110.0 371.0L110.0 292.0L127.0 290.0L118.0 286.0L128.0 280.0L126.0 272.0L110.0 274.0Z" fill="#b3b3b3" fill-rule="evenodd" stroke="#000" stroke-width="2" stroke-linejoin="round"/>
<path d="M317.5 173.8L342.7 166.6L373.8 165.4L397.8 163.0L427.7 159.4L443.3 152.3L457.7 148.7L469.6 152.3L480.0 149.0L491.0 145.0L493.0 147.5L484.0 152.0L497.0 151.0L499.0 154.0L490.0 157.5L469.6 161.8L440.9 170.2L421.7 175.0L397.8 181.0L367.8 185.8L337.9 191.8L308.0 194.2L296.0 193.0L300.0 186.0L310.0 178.0Z" fill="#b3b3b3" stroke="#000" stroke-width="2" stroke-linejoin="round"/>
<path d="M428.0 167.0L440.0 162.0L452.0 158.0L460.0 156.0L455.0 162.0L445.0 167.0L432.0 170.0Z" fill="#fff" stroke="#000" stroke-width="1.6" stroke-linejoin="round"/>
<path d="M593.6 133.1L600.0 128.5L612.0 125.0L625.0 123.5L630.0 127.0L628.0 131.0L612.0 131.5L600.0 134.0Z" fill="#b3b3b3" stroke="#000" stroke-width="1.8" stroke-linejoin="round"/>
<path d="M645.0 136.0L655.0 133.0L665.0 130.5L674.0 129.0L674.0 137.0L662.0 139.0L650.0 139.0Z" fill="#b3b3b3" stroke="#000" stroke-width="1.8" stroke-linejoin="round"/>
<path d="M110.0 487.0L118.0 490.0L124.0 505.0L130.0 520.0L136.0 540.0L138.0 552.0L130.0 553.0L110.0 553.0Z" fill="#b3b3b3" stroke="#000" stroke-width="1.8" stroke-linejoin="round"/>
<path d="M110.0 564.8L125.6 562.4L134.0 570.7L137.5 582.7L131.6 594.7L122.0 595.9L110.0 600.7Z" fill="#b3b3b3" stroke="#000" stroke-width="1.8" stroke-linejoin="round"/>
<path d="M110.0 486.5L112.4 486.9L122.0 504.9L131.6 528.8L141.1 550.4L150.7 567.2L157.9 579.1L161.5 588.7L162.7 600.7L160.3 612.7L155.5 617.5L139.9 622.2L122.0 629.4L110.0 634.0" fill="none" stroke="#000" stroke-width="2.6" stroke-linejoin="round"/>
<path d="M196.1 375.6L190.0 383.0L180.0 393.0L172.0 402.0L168.6 411.0" fill="none" stroke="#000" stroke-width="2.2" stroke-linejoin="round"/>
<path d="M137.5 434.0L148.0 420.0" fill="none" stroke="#000" stroke-width="2.2" stroke-dasharray="5 3"/>
<path d="M538.0 123.0L537.0 110.0L541.0 100.0L546.0 97.0L551.0 102.0L556.0 108.0L560.0 116.0L566.0 121.0L558.0 123.0L548.0 123.0Z" fill="#fff" stroke="#000" stroke-width="1.5" stroke-linejoin="round"/>
<path d="M547.0 104.0L551.0 106.0L553.0 115.0L550.0 120.0L547.0 114.0Z" fill="#b3b3b3" stroke="#000" stroke-width="1.3" stroke-linejoin="round"/>
<path d="M301.0 137.0L303.0 142.0L305.0 150.0L304.0 160.0L302.0 168.0L299.0 176.0L296.0 184.0L293.0 190.0" fill="none" stroke="#000" stroke-width="5"/>
<path d="M301.0 137.0L303.0 142.0L305.0 150.0L304.0 160.0L302.0 168.0L299.0 176.0L296.0 184.0L293.0 190.0" fill="none" stroke="#fff" stroke-width="2"/>
<path d="M201.8 240.0L193.8 243.3L181.9 248.0L170.0 253.0L162.3 256.5L156.0 262.0L153.0 266.5" fill="none" stroke="#000" stroke-width="4.5"/>
<path d="M201.8 240.0L193.8 243.3L181.9 248.0L170.0 253.0L162.3 256.5L156.0 262.0L153.0 266.5" fill="none" stroke="#fff" stroke-width="1.6"/>
<path d="M173.5 80.0L181.9 88.8L196.2 94.8L199.8 102.0L201.0 109.0L205.8 118.7L211.8 122.3L223.8 125.3L229.8 127.1L232.8 130.7M232.8 131.3L301.5 158.0M232.8 130.7L222.6 137.9L217.8 145.0L209.4 152.3L196.2 159.4L192.6 161.8L198.6 169.0L191.4 177.4L186.6 182.2L187.8 193.0L193.8 194.8L198.6 202.6L203.4 207.3L208.2 209.7L217.8 219.3L229.8 226.5L225.0 229.5L211.8 234.9L193.8 243.3M162.7 254.0L155.0 254.5L146.0 256.0L138.0 258.5L133.5 261.0L131.6 262.4M110.0 262.4L131.6 262.4M131.6 262.4L141.1 362.6L198.6 363.8M346.3 80.0L342.7 142.7L324.7 152.3L329.5 159.4M503.1 80.0L499.6 134.3M542.0 80.0L544.5 91.2L546.9 97.2M146.9 399.4L168.6 398.7" fill="none" stroke="#000" stroke-width="1.6" stroke-linejoin="round"/>
<line x1="298.5" y1="80.0" x2="298.5" y2="640.0" stroke="#262626" stroke-opacity="0.15" stroke-width="1.8"/>
<line x1="485.0" y1="80.0" x2="485.0" y2="640.0" stroke="#262626" stroke-opacity="0.15" stroke-width="1.8"/>
<line x1="112.0" y1="560.0" x2="671.5" y2="560.0" stroke="#262626" stroke-opacity="0.15" stroke-width="1.8"/>
<line x1="112.0" y1="480.0" x2="671.5" y2="480.0" stroke="#262626" stroke-opacity="0.15" stroke-width="1.8"/>
<line x1="112.0" y1="400.0" x2="671.5" y2="400.0" stroke="#262626" stroke-opacity="0.15" stroke-width="1.8"/>
<line x1="112.0" y1="320.0" x2="671.5" y2="320.0" stroke="#262626" stroke-opacity="0.15" stroke-width="1.8"/>
<line x1="112.0" y1="240.0" x2="671.5" y2="240.0" stroke="#262626" stroke-opacity="0.15" stroke-width="1.8"/>
<line x1="112.0" y1="160.0" x2="671.5" y2="160.0" stroke="#262626" stroke-opacity="0.15" stroke-width="1.8"/>
</g>
<rect x="112.0" y="80.0" width="559.5" height="560.0" fill="none" stroke="#262626" stroke-width="2"/>
<path d="M112.0 640.0v-6M112.0 80.0v6M298.5 640.0v-6M298.5 80.0v6M485.0 640.0v-6M485.0 80.0v6M671.5 640.0v-6M671.5 80.0v6M112.0 640.0h6M671.5 640.0h-6M112.0 560.0h6M671.5 560.0h-6M112.0 480.0h6M671.5 480.0h-6M112.0 400.0h6M671.5 400.0h-6M112.0 320.0h6M671.5 320.0h-6M112.0 240.0h6M671.5 240.0h-6M112.0 160.0h6M671.5 160.0h-6M112.0 80.0h6M671.5 80.0h-6" stroke="#262626" stroke-width="2" fill="none"/>
<text x="55.31" y="654.10" font-size="37.00" fill="#262626">35</text>
<text x="55.40" y="574.10" font-size="37.00" fill="#262626">36</text>
<text x="55.68" y="494.10" font-size="37.00" fill="#262626">37</text>
<text x="55.40" y="414.10" font-size="37.00" fill="#262626">38</text>
<text x="55.50" y="334.10" font-size="37.00" fill="#262626">39</text>
<text x="55.22" y="254.10" font-size="37.00" fill="#262626">40</text>
<text x="55.59" y="174.10" font-size="37.00" fill="#262626">41</text>
<text x="55.68" y="94.10" font-size="37.00" fill="#262626">42</text>
<text x="84.92" y="691.20" font-size="37.00" fill="#262626">-76</text>
<text x="271.14" y="691.20" font-size="37.00" fill="#262626">-74</text>
<text x="458.06" y="691.20" font-size="37.00" fill="#262626">-72</text>
<text x="644.33" y="691.20" font-size="37.00" fill="#262626">-70</text>
<text x="315.79" y="742.20" font-size="43.70" fill="#262626">Lon(W)</text>
<text transform="translate(36.00,413.67) rotate(-90)" x="0" y="0" font-size="40.00" fill="#262626" textLength="110.19" lengthAdjust="spacingAndGlyphs">Lat(N)</text>
<text x="160.40" y="68.00" font-size="40.20" fill="#000" font-weight="bold" xml:space="preserve">VEL EOF  Mode-2  (14%)</text>
<rect x="726" y="86" width="56" height="558" fill="url(#jet)" stroke="#262626" stroke-width="1.5"/>
<path d="M782 215.0h-5M782 342.0h-5M782 469.0h-5M782 596.0h-5" stroke="#262626" stroke-width="1.5"/>
<text x="795.86" y="101.40" font-size="33.50" fill="#262626">0.02</text>
<text x="795.86" y="228.40" font-size="33.50" fill="#262626">0</text>
<text x="795.69" y="355.40" font-size="33.50" fill="#262626">-0.02</text>
<text x="795.69" y="482.40" font-size="33.50" fill="#262626">-0.04</text>
<text x="795.69" y="609.40" font-size="33.50" fill="#262626">-0.06</text>
<path d="M1244.2 50.0V671.0M1393.4 50.0V671.0M1542.6 50.0V671.0M1691.8 50.0V671.0M1095.0 567.5H1841.0M1095.0 464.0H1841.0M1095.0 360.5H1841.0M1095.0 257.0H1841.0M1095.0 153.5H1841.0" stroke="#262626" stroke-opacity="0.15" stroke-width="1.8" fill="none"/>
<g clip-path="url(#tsclip)">
<path d="M1095.0 437.7L1095.4 412.2L1095.8 461.6L1096.2 457.5L1096.6 459.5L1097.0 434.6L1097.4 468.2L1097.9 491.8L1098.3 482.7L1098.7 453.0L1099.1 440.4L1099.5 411.5L1099.9 512.1L1100.3 339.8L1100.7 433.4L1101.1 478.3L1101.5 461.8L1101.9 393.6L1102.3 469.7L1102.8 474.1L1103.2 522.0L1103.6 449.3L1104.0 376.4L1104.4 458.2L1104.8 480.9L1105.2 479.3L1105.6 368.8L1106.0 508.6L1106.4 485.5L1106.8 482.2L1107.2 465.3L1107.7 492.4L1108.1 477.6L1108.5 474.2L1108.9 493.6L1109.3 485.1L1109.7 505.4L1110.1 403.4L1110.5 352.7L1110.9 470.5L1111.3 414.6L1111.7 445.1L1112.1 468.0L1112.6 484.3L1113.0 485.4L1113.4 476.5L1113.8 487.7L1114.2 471.2L1114.6 493.0L1115.0 468.1L1115.4 447.0L1115.8 427.7L1116.2 439.9L1116.6 442.0L1117.0 448.8L1117.5 488.1L1117.9 523.6L1118.3 473.7L1118.7 467.0L1119.1 477.7L1119.5 453.3L1119.9 449.6L1120.3 528.2L1120.7 483.5L1121.1 213.5L1121.5 495.0L1121.9 490.6L1122.4 480.2L1122.8 468.5L1123.2 456.0L1123.6 430.2L1124.0 426.0L1124.4 426.4L1124.8 518.3L1125.2 435.6L1125.6 480.2L1126.0 536.5L1126.4 466.7L1126.8 482.7L1127.3 490.1L1127.7 463.4L1128.1 515.9L1128.5 308.8L1128.9 506.7L1129.3 469.7L1129.7 491.9L1130.1 485.4L1130.5 498.1L1130.9 507.6L1131.3 488.1L1131.7 345.4L1132.2 485.0L1132.6 246.6L1133.0 470.5L1133.4 490.6L1133.8 485.5L1134.2 514.3L1134.6 441.5L1135.0 463.5L1135.4 472.2L1135.8 455.8L1136.2 462.0L1136.6 461.6L1137.1 468.8L1137.5 532.3L1137.9 441.1L1138.3 449.4L1138.7 475.4L1139.1 459.8L1139.5 436.7L1139.9 453.5L1140.3 482.5L1140.7 524.0L1141.1 450.7L1141.5 465.1L1142.0 461.1L1142.4 346.0L1142.8 457.6L1143.2 451.9L1143.6 445.3L1144.0 443.7L1144.4 458.6L1144.8 443.6L1145.2 435.5L1145.6 434.2L1146.0 433.8L1146.4 433.4L1146.9 425.6L1147.3 442.3L1147.7 476.0L1148.1 462.7L1148.5 487.1L1148.9 478.5L1149.3 445.2L1149.7 469.0L1150.1 473.1L1150.5 453.6L1150.9 286.0L1151.3 475.4L1151.8 459.1L1152.2 430.0L1152.6 456.4L1153.0 323.2L1153.4 432.0L1153.8 439.8L1154.2 425.5L1154.6 526.1L1155.0 518.5L1155.4 461.0L1155.8 520.4L1156.2 501.6L1156.7 505.3L1157.1 501.1L1157.5 500.2L1157.9 482.4L1158.3 499.5L1158.7 483.7L1159.1 499.8L1159.5 502.4L1159.9 501.1L1160.3 500.4L1160.7 503.6L1161.1 502.3L1161.6 499.4L1162.0 494.1L1162.4 381.2L1162.8 478.7L1163.2 479.5L1163.6 465.5L1164.0 487.7L1164.4 479.1L1164.8 504.2L1165.2 526.1L1165.6 449.4L1166.0 451.8L1166.5 458.1L1166.9 472.1L1167.3 479.5L1167.7 468.1L1168.1 470.1L1168.5 492.5L1168.9 493.0L1169.3 493.2L1169.7 483.1L1170.1 483.8L1170.5 478.1L1170.9 464.0L1171.4 477.4L1171.8 468.9L1172.2 468.3L1172.6 461.4L1173.0 462.3L1173.4 457.0L1173.8 341.6L1174.2 458.2L1174.6 577.9L1175.0 505.1L1175.4 493.8L1175.8 497.4L1176.3 487.2L1176.7 455.9L1177.1 508.2L1177.5 566.4L1177.9 480.7L1178.3 485.4L1178.7 518.4L1179.1 524.9L1179.5 520.5L1179.9 557.1L1180.3 521.3L1180.7 511.1L1181.2 493.9L1181.6 546.0L1182.0 515.9L1182.4 514.1L1182.8 472.3L1183.2 497.8L1183.6 491.9L1184.0 514.5L1184.4 504.9L1184.8 523.9L1185.2 522.3L1185.6 504.5L1186.1 521.5L1186.5 505.9L1186.9 505.4L1187.3 495.7L1187.7 244.6L1188.1 505.9L1188.5 508.4L1188.9 523.6L1189.3 522.8L1189.7 510.0L1190.1 500.1L1190.5 532.7L1191.0 536.4L1191.4 535.3L1191.8 534.1L1192.2 372.9L1192.6 526.8L1193.0 594.4L1193.4 471.1L1193.8 474.2L1194.2 473.4L1194.6 517.5L1195.0 527.0L1195.4 568.1L1195.9 520.5L1196.3 521.7L1196.7 546.8L1197.1 452.2L1197.5 473.7L1197.9 509.4L1198.3 532.1L1198.7 364.6L1199.1 527.4L1199.5 520.1L1199.9 473.7L1200.3 474.2L1200.8 488.3L1201.2 447.8L1201.6 549.6L1202.0 460.4L1202.4 298.4L1202.8 513.3L1203.2 512.1L1203.6 501.4L1204.0 534.6L1204.4 584.7L1204.8 503.3L1205.2 520.4L1205.7 531.1L1206.1 524.3L1206.5 502.8L1206.9 497.6L1207.3 466.8L1207.7 325.3L1208.1 462.5L1208.5 497.5L1208.9 472.4L1209.3 368.2L1209.7 467.1L1210.1 448.9L1210.6 445.5L1211.0 341.9L1211.4 471.5L1211.8 465.6L1212.2 561.3L1212.6 489.0L1213.0 517.8L1213.4 504.2L1213.8 563.0L1214.2 508.7L1214.6 507.8L1215.0 508.7L1215.5 524.2L1215.9 522.1L1216.3 565.0L1216.7 426.7L1217.1 505.0L1217.5 528.0L1217.9 290.1L1218.3 482.2L1218.7 355.7L1219.1 503.8L1219.5 459.1L1219.9 462.9L1220.4 470.1L1220.8 486.7L1221.2 476.6L1221.6 541.3L1222.0 483.7L1222.4 582.0L1222.8 506.4L1223.2 508.8L1223.6 538.5L1224.0 444.4L1224.4 531.1L1224.8 443.5L1225.3 391.6L1225.7 525.4L1226.1 523.8L1226.5 525.1L1226.9 519.8L1227.3 522.5L1227.7 478.0L1228.1 494.5L1228.5 561.6L1228.9 471.2L1229.3 487.2L1229.7 494.0L1230.2 486.8L1230.6 592.3L1231.0 475.5L1231.4 498.7L1231.8 482.3L1232.2 456.6L1232.6 522.9L1233.0 482.1L1233.4 542.7L1233.8 505.3L1234.2 498.0L1234.6 552.3L1235.1 482.8L1235.5 495.0L1235.9 461.0L1236.3 491.7L1236.7 492.2L1237.1 401.9L1237.5 425.9L1237.9 477.0L1238.3 450.9L1238.7 450.3L1239.1 468.7L1239.5 446.7L1240.0 528.2L1240.4 474.5L1240.8 449.0L1241.2 444.8L1241.6 456.0L1242.0 467.9L1242.4 497.3L1242.8 493.6L1243.2 512.5L1243.6 350.1L1244.0 469.9L1244.4 480.0L1244.9 486.9L1245.3 492.0L1245.7 474.2L1246.1 472.9L1246.5 319.1L1246.9 526.9L1247.3 435.9L1247.7 482.1L1248.1 458.3L1248.5 555.1L1248.9 476.5L1249.3 468.3L1249.8 475.4L1250.2 491.6L1250.6 473.0L1251.0 501.6L1251.4 513.9L1251.8 475.8L1252.2 476.0L1252.6 470.6L1253.0 508.7L1253.4 411.5L1253.8 429.9L1254.2 473.3L1254.7 550.2L1255.1 406.9L1255.5 464.3L1255.9 339.8L1256.3 462.1L1256.7 488.1L1257.1 236.3L1257.5 447.6L1257.9 485.9L1258.3 500.2L1258.7 598.5L1259.1 442.3L1259.6 488.6L1260.0 465.3L1260.4 552.5L1260.8 588.2L1261.2 508.5L1261.6 502.6L1262.0 460.6L1262.4 350.1L1262.8 532.9L1263.2 539.0L1263.6 582.0L1264.0 529.2L1264.5 298.4L1264.9 496.4L1265.3 541.4L1265.7 543.5L1266.1 526.8L1266.5 536.7L1266.9 500.5L1267.3 662.7L1267.7 546.2L1268.1 502.9L1268.5 493.8L1268.9 486.3L1269.4 632.3L1269.8 469.8L1270.2 550.0L1270.6 458.0L1271.0 530.2L1271.4 434.0L1271.8 529.4L1272.2 553.0L1272.6 501.5L1273.0 514.8L1273.4 534.5L1273.8 426.3L1274.3 503.6L1274.7 503.0L1275.1 502.5L1275.5 497.6L1275.9 271.5L1276.3 494.1L1276.7 516.1L1277.1 494.8L1277.5 472.4L1277.9 495.9L1278.3 379.0L1278.7 493.6L1279.2 501.9L1279.6 502.1L1280.0 467.2L1280.4 453.2L1280.8 466.3L1281.2 459.5L1281.6 377.1L1282.0 448.9L1282.4 460.5L1282.8 471.3L1283.2 475.8L1283.6 503.1L1284.1 475.1L1284.5 561.3L1284.9 468.7L1285.3 464.0L1285.7 377.1L1286.1 478.7L1286.5 469.4L1286.9 478.2L1287.3 463.6L1287.7 460.3L1288.1 456.1L1288.5 594.4L1289.0 463.7L1289.4 454.8L1289.8 458.2L1290.2 511.1L1290.6 510.6L1291.0 489.6L1291.4 489.0L1291.8 489.1L1292.2 590.3L1292.6 489.2L1293.0 519.9L1293.4 517.0L1293.9 528.0L1294.3 523.8L1294.7 530.2L1295.1 484.6L1295.5 504.5L1295.9 477.7L1296.3 534.5L1296.7 524.3L1297.1 541.9L1297.5 460.1L1297.9 486.0L1298.3 475.2L1298.8 464.1L1299.2 557.1L1299.6 463.3L1300.0 479.5L1300.4 456.1L1300.8 466.5L1301.2 496.4L1301.6 498.0L1302.0 477.4L1302.4 460.7L1302.8 489.6L1303.2 298.5L1303.7 499.3L1304.1 496.4L1304.5 480.6L1304.9 494.9L1305.3 257.0L1305.7 472.6L1306.1 497.1L1306.5 469.2L1306.9 458.0L1307.3 517.8L1307.7 486.5L1308.1 503.3L1308.6 498.5L1309.0 530.0L1309.4 472.6L1309.8 518.5L1310.2 408.9L1310.6 463.4L1311.0 538.5L1311.4 470.2L1311.8 457.9L1312.2 471.8L1312.6 524.9L1313.0 494.8L1313.5 458.0L1313.9 499.0L1314.3 450.3L1314.7 318.0L1315.1 446.9L1315.5 442.8L1315.9 468.3L1316.3 420.9L1316.7 481.2L1317.1 475.3L1317.5 475.0L1317.9 393.6L1318.4 472.2L1318.8 473.5L1319.2 457.2L1319.6 489.9L1320.0 455.4L1320.4 423.7L1320.8 482.7L1321.2 480.4L1321.6 471.2L1322.0 497.9L1322.4 441.6L1322.8 452.2L1323.3 441.5L1323.7 459.9L1324.1 478.2L1324.5 473.9L1324.9 470.1L1325.3 479.4L1325.7 453.5L1326.1 461.0L1326.5 478.4L1326.9 455.5L1327.3 526.1L1327.7 393.6L1328.2 482.6L1328.6 481.8L1329.0 480.9L1329.4 484.8L1329.8 464.8L1330.2 466.2L1330.6 475.1L1331.0 508.5L1331.4 501.0L1331.8 485.8L1332.2 483.6L1332.6 446.1L1333.1 407.1L1333.5 467.7L1333.9 445.2L1334.3 457.0L1334.7 473.3L1335.1 504.4L1335.5 456.7L1335.9 415.9L1336.3 445.1L1336.7 491.8L1337.1 482.5L1337.5 459.4L1338.0 416.0L1338.4 495.7L1338.8 463.3L1339.2 445.5L1339.6 461.6L1340.0 489.6L1340.4 499.7L1340.8 474.0L1341.2 491.9L1341.6 493.9L1342.0 488.0L1342.4 494.9L1342.9 493.2L1343.3 491.8L1343.7 474.8L1344.1 375.0L1344.5 383.9L1344.9 443.7L1345.3 511.6L1345.7 436.2L1346.1 449.1L1346.5 435.4L1346.9 428.4L1347.3 471.9L1347.7 429.6L1348.2 383.3L1348.6 423.6L1349.0 462.3L1349.4 486.0L1349.8 494.0L1350.2 494.9L1350.6 492.6L1351.0 470.6L1351.4 455.6L1351.8 511.9L1352.2 457.3L1352.6 441.1L1353.1 503.7L1353.5 412.2L1353.9 497.7L1354.3 480.4L1354.7 478.4L1355.1 410.6L1355.5 492.3L1355.9 486.1L1356.3 451.8L1356.7 466.3L1357.1 480.8L1357.5 483.7L1358.0 438.2L1358.4 462.4L1358.8 442.6L1359.2 446.1L1359.6 447.0L1360.0 451.5L1360.4 265.3L1360.8 482.1L1361.2 487.7L1361.6 481.3L1362.0 519.9L1362.4 486.0L1362.9 485.6L1363.3 509.3L1363.7 479.8L1364.1 480.1L1364.5 435.6L1364.9 466.1L1365.3 513.7L1365.7 184.2L1366.1 505.9L1366.5 486.3L1366.9 118.3L1367.3 494.6L1367.8 325.4L1368.2 470.3L1368.6 467.0L1369.0 445.6L1369.4 491.4L1369.8 470.1L1370.2 485.8L1370.6 486.6L1371.0 523.2L1371.4 500.1L1371.8 312.9L1372.2 345.6L1372.7 435.9L1373.1 427.7L1373.5 440.9L1373.9 426.3L1374.3 452.9L1374.7 473.1L1375.1 497.1L1375.5 475.6L1375.9 447.0L1376.3 433.5L1376.7 528.2L1377.1 475.7L1377.6 471.6L1378.0 484.9L1378.4 366.7L1378.8 492.1L1379.2 482.8L1379.6 484.1L1380.0 477.8L1380.4 311.8L1380.8 472.0L1381.2 471.6L1381.6 477.7L1382.0 454.1L1382.5 452.1L1382.9 514.6L1383.3 461.5L1383.7 519.9L1384.1 438.3L1384.5 429.4L1384.9 436.4L1385.3 426.3L1385.7 419.5L1386.1 417.7L1386.5 489.1L1386.9 413.4L1387.4 504.9L1387.8 417.0L1388.2 473.5L1388.6 375.0L1389.0 383.0L1389.4 455.4L1389.8 448.3L1390.2 465.5L1390.6 445.0L1391.0 438.0L1391.4 469.7L1391.8 470.7L1392.3 478.5L1392.7 428.0L1393.1 418.5L1393.5 375.2L1393.9 271.5L1394.3 424.4L1394.7 443.4L1395.1 267.4L1395.5 439.2L1395.9 450.8L1396.3 432.6L1396.7 315.0L1397.2 389.4L1397.6 438.9L1398.0 471.4L1398.4 350.0L1398.8 361.6L1399.2 277.7L1399.6 362.9L1400.0 380.8L1400.4 441.9L1400.8 457.0L1401.2 459.4L1401.6 450.6L1402.1 319.1L1402.5 474.2L1402.9 442.8L1403.3 441.3L1403.7 474.6L1404.1 469.4L1404.5 526.1L1404.9 473.7L1405.3 436.6L1405.7 213.5L1406.1 449.7L1406.5 453.7L1407.0 461.9L1407.4 415.9L1407.8 451.1L1408.2 440.1L1408.6 439.7L1409.0 544.9L1409.4 513.1L1409.8 525.0L1410.2 525.5L1410.6 514.2L1411.0 522.4L1411.4 350.1L1411.9 517.4L1412.3 575.8L1412.7 489.1L1413.1 482.8L1413.5 519.3L1413.9 504.5L1414.3 494.3L1414.7 508.3L1415.1 508.3L1415.5 479.4L1415.9 401.7L1416.3 477.3L1416.8 410.0L1417.2 502.7L1417.6 479.2L1418.0 508.1L1418.4 477.9L1418.8 507.7L1419.2 522.8L1419.6 522.6L1420.0 550.9L1420.4 509.6L1420.8 514.5L1421.2 521.6L1421.7 493.3L1422.1 482.9L1422.5 429.9L1422.9 366.7L1423.3 375.2L1423.7 466.5L1424.1 474.1L1424.5 473.4L1424.9 531.6L1425.3 413.2L1425.7 472.2L1426.1 472.4L1426.6 465.9L1427.0 538.9L1427.4 509.9L1427.8 506.5L1428.2 507.4L1428.6 381.2L1429.0 475.7L1429.4 494.5L1429.8 509.5L1430.2 520.6L1430.6 389.5L1431.0 509.8L1431.5 501.9L1431.9 481.9L1432.3 467.3L1432.7 488.3L1433.1 503.5L1433.5 499.6L1433.9 533.7L1434.3 474.2L1434.7 471.5L1435.1 551.9L1435.5 465.3L1435.9 465.3L1436.4 550.9L1436.8 407.1L1437.2 513.2L1437.6 557.2L1438.0 522.3L1438.4 516.3L1438.8 501.4L1439.2 565.4L1439.6 472.6L1440.0 468.0L1440.4 530.5L1440.8 479.0L1441.3 494.0L1441.7 391.6L1442.1 466.1L1442.5 498.3L1442.9 505.3L1443.3 532.3L1443.7 500.0L1444.1 501.6L1444.5 531.0L1444.9 505.2L1445.3 478.0L1445.7 460.0L1446.2 87.3L1446.6 501.3L1447.0 502.7L1447.4 335.8L1447.8 468.1L1448.2 492.7L1448.6 475.0L1449.0 497.9L1449.4 465.4L1449.8 537.4L1450.2 536.9L1450.6 463.3L1451.1 486.1L1451.5 516.5L1451.9 434.1L1452.3 501.1L1452.7 486.2L1453.1 468.7L1453.5 475.0L1453.9 393.6L1454.3 504.1L1454.7 511.2L1455.1 496.9L1455.5 502.8L1456.0 502.4L1456.4 501.6L1456.8 460.8L1457.2 519.9L1457.6 498.5L1458.0 461.3L1458.4 509.9L1458.8 500.7L1459.2 497.1L1459.6 367.7L1460.0 505.9L1460.4 479.2L1460.9 410.2L1461.3 482.4L1461.7 505.6L1462.1 501.5L1462.5 510.6L1462.9 308.8L1463.3 500.6L1463.7 493.1L1464.1 500.6L1464.5 494.2L1464.9 416.6L1465.3 460.5L1465.8 454.3L1466.2 526.1L1466.6 488.1L1467.0 471.5L1467.4 517.5L1467.8 461.3L1468.2 485.7L1468.6 368.8L1469.0 498.9L1469.4 503.9L1469.8 400.4L1470.2 511.9L1470.7 513.8L1471.1 515.6L1471.5 502.9L1471.9 486.0L1472.3 516.5L1472.7 492.4L1473.1 448.1L1473.5 464.7L1473.9 484.2L1474.3 486.1L1474.7 449.6L1475.1 461.6L1475.6 471.8L1476.0 465.3L1476.4 443.8L1476.8 449.4L1477.2 452.7L1477.6 474.3L1478.0 354.3L1478.4 486.9L1478.8 555.1L1479.2 472.5L1479.6 479.6L1480.0 518.9L1480.5 483.3L1480.9 475.8L1481.3 457.6L1481.7 491.3L1482.1 376.4L1482.5 410.1L1482.9 508.6L1483.3 381.2L1483.7 515.6L1484.1 504.7L1484.5 403.6L1484.9 508.1L1485.4 497.0L1485.8 506.9L1486.2 563.4L1486.6 510.1L1487.0 381.2L1487.4 499.5L1487.8 503.3L1488.2 498.1L1488.6 490.1L1489.0 499.0L1489.4 481.0L1489.8 483.1L1490.3 492.6L1490.7 480.1L1491.1 505.6L1491.5 508.7L1491.9 422.0L1492.3 486.3L1492.7 418.6L1493.1 487.5L1493.5 480.9L1493.9 476.5L1494.3 506.8L1494.7 458.2L1495.2 512.9L1495.6 553.0L1496.0 294.3L1496.4 499.4L1496.8 514.8L1497.2 487.7L1497.6 484.4L1498.0 319.9L1498.4 480.0L1498.8 562.2L1499.2 503.1L1499.6 582.0L1500.1 503.3L1500.5 493.3L1500.9 465.4L1501.3 494.3L1501.7 378.5L1502.1 348.1L1502.5 510.3L1502.9 514.1L1503.3 513.7L1503.7 520.2L1504.1 496.8L1504.5 561.3L1505.0 516.8L1505.4 516.0L1505.8 489.6L1506.2 518.5L1506.6 91.4L1507.0 549.4L1507.4 490.7L1507.8 498.9L1508.2 575.7L1508.6 460.4L1509.0 444.8L1509.4 471.4L1509.9 457.5L1510.3 558.2L1510.7 449.5L1511.1 450.8L1511.5 309.3L1511.9 462.5L1512.3 473.6L1512.7 472.8L1513.1 512.5L1513.5 519.8L1513.9 598.5L1514.3 500.3L1514.8 490.9L1515.2 540.9L1515.6 502.3L1516.0 516.1L1516.4 524.1L1516.8 350.1L1517.2 525.7L1517.6 483.8L1518.0 479.7L1518.4 472.0L1518.8 507.2L1519.2 520.5L1519.7 532.9L1520.1 489.0L1520.5 489.4L1520.9 475.7L1521.3 489.8L1521.7 557.1L1522.1 389.5L1522.5 469.2L1522.9 369.4L1523.3 474.5L1523.7 464.7L1524.1 467.8L1524.6 410.8L1525.0 519.4L1525.4 506.0L1525.8 483.9L1526.2 527.3L1526.6 510.8L1527.0 535.4L1527.4 505.5L1527.8 524.8L1528.2 516.7L1528.6 522.5L1529.0 516.5L1529.5 401.9L1529.9 509.3L1530.3 517.2L1530.7 467.2L1531.1 394.3L1531.5 472.3L1531.9 492.3L1532.3 563.4L1532.7 496.8L1533.1 466.1L1533.5 481.4L1533.9 414.6L1534.4 339.8L1534.8 437.5L1535.2 414.1L1535.6 440.7L1536.0 454.8L1536.4 537.9L1536.8 360.5L1537.2 436.5L1537.6 429.2L1538.0 425.5L1538.4 474.3L1538.8 499.5L1539.3 485.7L1539.7 469.8L1540.1 474.9L1540.5 358.4L1540.9 414.8L1541.3 567.5L1541.7 400.4L1542.1 416.3L1542.5 567.5L1542.9 442.8L1543.3 455.2L1543.7 438.1L1544.2 426.6L1544.6 472.4L1545.0 281.5L1545.4 444.9L1545.8 418.5L1546.2 504.5L1546.6 481.0L1547.0 474.2L1547.4 470.6L1547.8 473.7L1548.2 199.0L1548.6 417.1L1549.1 500.5L1549.5 400.9L1549.9 405.9L1550.3 519.9L1550.7 408.1L1551.1 395.5L1551.5 417.6L1551.9 315.5L1552.3 424.2L1552.7 456.7L1553.1 420.8L1553.5 415.6L1554.0 401.5L1554.4 465.6L1554.8 452.8L1555.2 414.2L1555.6 352.2L1556.0 414.6L1556.4 320.8L1556.8 466.1L1557.2 466.2L1557.6 433.0L1558.0 406.6L1558.4 401.8L1558.9 398.1L1559.3 417.0L1559.7 348.1L1560.1 246.5L1560.5 468.9L1560.9 447.6L1561.3 401.8L1561.7 410.9L1562.1 418.0L1562.5 477.1L1562.9 474.5L1563.3 407.0L1563.8 474.4L1564.2 499.2L1564.6 468.1L1565.0 346.0L1565.4 465.8L1565.8 452.0L1566.2 453.9L1566.6 327.7L1567.0 496.8L1567.4 433.3L1567.8 435.4L1568.2 501.3L1568.7 440.1L1569.1 436.3L1569.5 436.5L1569.9 294.3L1570.3 453.8L1570.7 428.8L1571.1 257.0L1571.5 423.8L1571.9 453.1L1572.3 428.0L1572.7 339.4L1573.1 441.5L1573.6 489.6L1574.0 454.0L1574.4 464.8L1574.8 495.1L1575.2 448.3L1575.6 496.4L1576.0 497.2L1576.4 417.5L1576.8 440.2L1577.2 489.2L1577.6 414.5L1578.0 439.4L1578.5 436.2L1578.9 445.4L1579.3 436.1L1579.7 408.1L1580.1 465.4L1580.5 483.9L1580.9 465.9L1581.3 465.0L1581.7 485.5L1582.1 466.8L1582.5 442.7L1582.9 509.4L1583.4 491.9L1583.8 429.2L1584.2 446.1L1584.6 445.3L1585.0 456.5L1585.4 500.9L1585.8 445.0L1586.2 440.5L1586.6 466.8L1587.0 454.9L1587.4 443.9L1587.8 451.2L1588.3 503.8L1588.7 444.9L1589.1 472.4L1589.5 414.5L1589.9 464.1L1590.3 526.1L1590.7 461.6L1591.1 410.2L1591.5 428.3L1591.9 453.4L1592.3 446.7L1592.7 464.9L1593.1 476.2L1593.6 470.9L1594.0 479.3L1594.4 463.4L1594.8 434.6L1595.2 437.1L1595.6 441.2L1596.0 426.5L1596.4 424.3L1596.8 428.3L1597.2 486.9L1597.6 445.1L1598.0 522.0L1598.5 426.7L1598.9 441.1L1599.3 451.2L1599.7 288.6L1600.1 382.0L1600.5 500.6L1600.9 389.5L1601.3 502.7L1601.7 465.5L1602.1 451.6L1602.5 450.1L1602.9 438.8L1603.4 450.4L1603.8 381.2L1604.2 364.3L1604.6 462.7L1605.0 442.1L1605.4 425.3L1605.8 246.6L1606.2 472.6L1606.6 469.9L1607.0 399.1L1607.4 483.8L1607.8 465.7L1608.3 442.3L1608.7 446.9L1609.1 446.6L1609.5 448.7L1609.9 461.9L1610.3 469.6L1610.7 478.5L1611.1 470.4L1611.5 468.2L1611.9 470.8L1612.3 473.7L1612.7 315.0L1613.2 473.1L1613.6 496.3L1614.0 553.0L1614.4 473.2L1614.8 492.0L1615.2 538.2L1615.6 487.0L1616.0 511.6L1616.4 513.7L1616.8 483.9L1617.2 497.9L1617.6 511.6L1618.1 424.7L1618.5 484.4L1618.9 491.4L1619.3 502.9L1619.7 501.9L1620.1 485.9L1620.5 496.3L1620.9 504.5L1621.3 482.3L1621.7 537.7L1622.1 514.9L1622.5 503.6L1623.0 500.4L1623.4 494.7L1623.8 502.8L1624.2 519.8L1624.6 540.6L1625.0 512.5L1625.4 496.0L1625.8 498.3L1626.2 499.1L1626.6 470.3L1627.0 476.1L1627.4 519.9L1627.9 511.2L1628.3 524.6L1628.7 513.9L1629.1 483.6L1629.5 553.0L1629.9 488.8L1630.3 466.7L1630.7 469.2L1631.1 447.7L1631.5 497.7L1631.9 391.6L1632.3 548.4L1632.8 521.6L1633.2 524.0L1633.6 522.9L1634.0 526.0L1634.4 521.7L1634.8 518.5L1635.2 482.1L1635.6 515.9L1636.0 438.6L1636.4 514.5L1636.8 517.1L1637.2 474.2L1637.7 471.1L1638.1 546.8L1638.5 487.4L1638.9 465.7L1639.3 466.3L1639.7 466.4L1640.1 483.9L1640.5 472.0L1640.9 491.9L1641.3 488.1L1641.7 360.5L1642.1 523.2L1642.6 515.4L1643.0 497.2L1643.4 489.0L1643.8 496.3L1644.2 500.6L1644.6 503.7L1645.0 503.4L1645.4 504.4L1645.8 496.7L1646.2 522.9L1646.6 456.4L1647.0 483.4L1647.5 472.3L1647.9 277.7L1648.3 446.2L1648.7 453.6L1649.1 485.4L1649.5 480.8L1649.9 550.9L1650.3 505.2L1650.7 489.5L1651.1 444.3L1651.5 469.3L1651.9 502.8L1652.4 504.9L1652.8 234.2L1653.2 480.8L1653.6 472.6L1654.0 456.3L1654.4 294.3L1654.8 452.0L1655.2 458.7L1655.6 567.5L1656.0 423.7L1656.4 431.1L1656.8 500.7L1657.3 510.5L1657.7 482.8L1658.1 489.3L1658.5 409.3L1658.9 534.0L1659.3 495.5L1659.7 488.2L1660.1 366.7L1660.5 481.3L1660.9 560.4L1661.3 491.1L1661.7 564.0L1662.2 513.0L1662.6 478.8L1663.0 460.4L1663.4 532.0L1663.8 540.4L1664.2 598.5L1664.6 526.2L1665.0 532.7L1665.4 512.3L1665.8 584.3L1666.2 533.7L1666.6 329.4L1667.1 524.6L1667.5 503.8L1667.9 522.2L1668.3 501.3L1668.7 600.6L1669.1 516.6L1669.5 526.3L1669.9 525.0L1670.3 490.1L1670.7 536.2L1671.1 538.0L1671.5 501.8L1672.0 497.7L1672.4 454.2L1672.8 487.6L1673.2 465.3L1673.6 567.5L1674.0 468.0L1674.4 484.4L1674.8 478.2L1675.2 486.5L1675.6 556.0L1676.0 475.8L1676.4 505.6L1676.9 497.0L1677.3 513.9L1677.7 520.7L1678.1 516.5L1678.5 469.1L1678.9 472.3L1679.3 494.0L1679.7 635.8L1680.1 593.0L1680.5 523.3L1680.9 489.9L1681.3 358.4L1681.8 583.3L1682.2 504.7L1682.6 490.1L1683.0 512.5L1683.4 474.9L1683.8 465.1L1684.2 489.3L1684.6 517.3L1685.0 422.7L1685.4 569.6L1685.8 519.7L1686.2 515.7L1686.7 524.8L1687.1 391.6L1687.5 521.3L1687.9 528.1L1688.3 553.0L1688.7 501.3L1689.1 516.5L1689.5 522.0L1689.9 486.4L1690.3 506.6L1690.7 560.0L1691.1 559.0L1691.6 492.7L1692.0 476.8L1692.4 410.4L1692.8 495.7L1693.2 421.6L1693.6 489.2L1694.0 391.6L1694.4 509.5L1694.8 506.1L1695.2 475.5L1695.6 508.7L1696.0 416.0L1696.5 488.4L1696.9 477.9L1697.3 483.7L1697.7 483.7L1698.1 483.2L1698.5 482.5L1698.9 478.6L1699.3 488.5L1699.7 479.8L1700.1 407.2L1700.5 463.2L1700.9 403.4L1701.4 435.3L1701.8 426.5L1702.2 372.9L1702.6 485.2L1703.0 455.3L1703.4 475.0L1703.8 502.1L1704.2 469.7L1704.6 415.5L1705.0 471.0L1705.4 466.6L1705.8 463.3L1706.3 452.4L1706.7 478.8L1707.1 465.9L1707.5 501.7L1707.9 454.7L1708.3 460.0L1708.7 360.5L1709.1 487.2L1709.5 504.7L1709.9 511.9L1710.3 507.8L1710.7 590.3L1711.2 519.6L1711.6 471.6L1712.0 465.9L1712.4 470.1L1712.8 514.9L1713.2 510.8L1713.6 470.1L1714.0 438.9L1714.4 442.5L1714.8 491.4L1715.2 507.2L1715.6 633.7L1716.1 496.4L1716.5 484.2L1716.9 493.2L1717.3 462.5L1717.7 457.1L1718.1 567.5L1718.5 442.8L1718.9 389.5L1719.3 405.3L1719.7 457.3L1720.1 468.1L1720.5 507.5L1721.0 500.2L1721.4 474.1L1721.8 538.5L1722.2 458.2L1722.6 337.3L1723.0 397.8L1723.4 448.5L1723.8 459.0L1724.2 453.5L1724.6 453.5L1725.0 315.0L1725.4 470.5L1725.9 482.2L1726.3 496.4L1726.7 504.5L1727.1 501.9L1727.5 504.8L1727.9 514.1L1728.3 496.9L1728.7 525.9L1729.1 514.0L1729.5 487.4L1729.9 459.8L1730.3 446.5L1730.8 528.5L1731.2 482.1L1731.6 499.1L1732.0 449.1L1732.4 456.8L1732.8 453.4L1733.2 445.0L1733.6 449.9L1734.0 459.2L1734.4 491.1L1734.8 421.8L1735.2 476.9L1735.7 294.3L1736.1 476.6L1736.5 470.4L1736.9 465.0L1737.3 490.4L1737.7 412.3L1738.1 494.5L1738.5 432.9L1738.9 480.7L1739.3 550.9L1739.7 467.2L1740.1 514.1L1740.6 479.8L1741.0 370.9L1741.4 463.2L1741.8 438.6L1742.2 437.4L1742.6 454.7L1743.0 461.6L1743.4 463.1L1743.8 366.3L1744.2 483.0L1744.6 292.2L1745.0 491.8L1745.5 384.1L1745.9 346.6L1746.3 451.4L1746.7 481.2L1747.1 277.7L1747.5 352.0L1747.9 442.2L1748.3 484.2L1748.7 546.8L1749.1 438.5L1749.5 444.5L1749.9 449.4L1750.4 448.2L1750.8 471.0L1751.2 462.5L1751.6 472.9L1752.0 492.7L1752.4 549.5L1752.8 585.8L1753.2 588.2L1753.6 567.4L1754.0 451.6L1754.4 562.0L1754.8 558.2L1755.3 561.3L1755.7 564.8L1756.1 521.9L1756.5 571.6L1756.9 559.8L1757.3 527.1L1757.7 588.6L1758.1 554.2L1758.5 550.2L1758.9 531.2L1759.3 619.2L1759.7 565.5L1760.2 565.7L1760.6 554.2L1761.0 520.6L1761.4 512.8L1761.8 488.1L1762.2 461.2L1762.6 457.8L1763.0 554.3L1763.4 458.5L1763.8 523.7L1764.2 587.0L1764.6 505.3L1765.1 550.7L1765.5 565.3L1765.9 611.1L1766.3 548.3L1766.7 482.9L1767.1 497.5L1767.5 519.2L1767.9 513.2L1768.3 476.0L1768.7 472.8L1769.1 433.0L1769.5 510.7L1770.0 439.2L1770.4 441.6L1770.8 503.9L1771.2 559.2L1771.6 504.8L1772.0 504.3L1772.4 489.4L1772.8 474.0L1773.2 462.3L1773.6 468.0L1774.0 473.3L1774.4 472.5L1774.9 506.0L1775.3 484.6L1775.7 482.5L1776.1 433.6L1776.5 552.1L1776.9 521.1L1777.3 511.8L1777.7 426.7L1778.1 484.9L1778.5 473.3L1778.9 504.2L1779.3 485.1L1779.8 503.4L1780.2 476.7L1780.6 458.7L1781.0 458.5L1781.4 455.9L1781.8 456.2L1782.2 532.6L1782.6 363.8L1783.0 458.4L1783.4 487.6L1783.8 470.6L1784.2 474.0L1784.7 434.8L1785.1 498.8L1785.5 502.8L1785.9 498.5L1786.3 348.1L1786.7 400.7L1787.1 439.8L1787.5 429.8L1787.9 477.5L1788.3 449.1L1788.7 473.6L1789.1 481.7L1789.6 502.9L1790.0 504.6L1790.4 478.4L1790.8 341.9L1791.2 429.4L1791.6 478.3L1792.0 464.5L1792.4 465.9L1792.8 470.0L1793.2 458.4L1793.6 486.7L1794.0 491.7L1794.5 478.9L1794.9 550.9L1795.3 456.4L1795.7 439.0L1796.1 495.9L1796.5 504.6L1796.9 504.7L1797.3 502.5L1797.7 455.7L1798.1 463.3L1798.5 464.0L1798.9 271.5L1799.4 460.0L1799.8 506.8L1800.2 462.3L1800.6 464.0L1801.0 462.1L1801.4 347.6L1801.8 519.2L1802.2 440.3L1802.6 444.2L1803.0 429.5L1803.4 329.4L1803.8 420.6L1804.3 453.4L1804.7 480.6L1805.1 460.9L1805.5 458.1L1805.9 505.9L1806.3 350.6L1806.7 391.8L1807.1 469.4L1807.5 383.5L1807.9 389.4L1808.3 318.3L1808.7 418.2L1809.2 418.7L1809.6 438.7L1810.0 265.3L1810.4 434.3L1810.8 429.2L1811.2 413.9L1811.6 433.0L1812.0 530.2L1812.4 463.4L1812.8 457.2L1813.2 460.6L1813.6 454.9L1814.1 463.9L1814.5 452.2L1814.9 508.0L1815.3 470.6L1815.7 451.8L1816.1 395.8L1816.5 431.9L1816.9 440.0L1817.3 398.4L1817.7 397.1L1818.1 382.9L1818.5 393.4L1819.0 440.4L1819.4 450.5L1819.8 465.3L1820.2 470.0L1820.6 395.3L1821.0 439.7L1821.4 436.5L1821.8 329.4L1822.2 474.7L1822.6 421.9L1823.0 488.1L1823.4 434.6L1823.9 470.5L1824.3 473.2L1824.7 472.8L1825.1 501.8L1825.5 354.3L1825.9 354.5L1826.3 353.2L1826.7 553.0L1827.1 474.0L1827.5 468.5L1827.9 410.1L1828.3 432.7L1828.8 403.1L1829.2 472.9L1829.6 488.0L1830.0 487.2L1830.4 519.1L1830.8 495.0L1831.2 494.9L1831.6 495.0L1832.0 301.0L1832.4 482.9L1832.8 491.4L1833.2 488.5L1833.7 485.5L1834.1 475.4L1834.5 479.4L1834.9 506.6L1835.3 454.9L1835.7 449.2L1836.1 496.6L1836.5 269.4L1836.9 423.8L1837.3 433.6L1837.7 540.6L1838.1 451.0L1838.6 496.0L1839.0 439.4L1839.4 314.1L1839.8 466.2L1840.2 450.9L1840.6 468.4" fill="none" stroke="#0072bd" stroke-width="2" stroke-linejoin="round"/>
</g>
<rect x="1095" y="50" width="746" height="621" fill="none" stroke="#262626" stroke-width="2"/>
<path d="M1095.0 671.0v-7M1095.0 50.0v7M1244.2 671.0v-7M1244.2 50.0v7M1393.4 671.0v-7M1393.4 50.0v7M1542.6 671.0v-7M1542.6 50.0v7M1691.8 671.0v-7M1691.8 50.0v7M1841.0 671.0v-7M1841.0 50.0v7M1095.0 671.0h7M1841.0 671.0h-7M1095.0 567.5h7M1841.0 567.5h-7M1095.0 464.0h7M1841.0 464.0h-7M1095.0 360.5h7M1841.0 360.5h-7M1095.0 257.0h7M1841.0 257.0h-7M1095.0 153.5h7M1841.0 153.5h-7M1095.0 50.0h7M1841.0 50.0h-7" stroke="#262626" stroke-width="2" fill="none"/>
<text x="1025.82" y="684.00" font-size="37.00" fill="#262626">-10</text>
<text x="1046.54" y="580.50" font-size="37.00" fill="#262626">-5</text>
<text x="1058.75" y="477.00" font-size="37.00" fill="#262626">0</text>
<text x="1058.85" y="373.50" font-size="37.00" fill="#262626">5</text>
<text x="1038.22" y="270.00" font-size="37.00" fill="#262626">10</text>
<text x="1038.31" y="166.50" font-size="37.00" fill="#262626">15</text>
<text x="1038.22" y="63.00" font-size="37.00" fill="#262626">20</text>
<text x="1053.15" y="722.00" font-size="37.00" fill="#262626">2020</text>
<text x="1202.54" y="722.00" font-size="37.00" fill="#262626">2021</text>
<text x="1351.78" y="722.00" font-size="37.00" fill="#262626">2022</text>
<text x="1500.85" y="722.00" font-size="37.00" fill="#262626">2023</text>
<text x="1649.77" y="722.00" font-size="37.00" fill="#262626">2024</text>
<text x="1799.20" y="722.00" font-size="37.00" fill="#262626">2025</text>
<text x="1424.63" y="766.50" font-size="43.50" fill="#262626" textLength="87.14" lengthAdjust="spacingAndGlyphs">Year</text>
<text transform="translate(1006.00,449.10) rotate(-90)" x="0" y="0" font-size="40.50" fill="#262626" textLength="177.88" lengthAdjust="spacingAndGlyphs">Amplitude</text>
<text x="1195.22" y="36.50" font-size="40.10" fill="#000" font-weight="bold">Time Evolution of EOF Mode</text>
</g>
<g transform="translate(0,1730)">
<g clip-path="url(#mapclip)">
<rect x="112" y="80" width="560" height="560" fill="#fff"/>
<path d="M298.0 204.0L309.0 196.6L335.5 193.0L357.0 193.0L359.5 195.4L389.4 195.4L409.8 183.4L425.3 177.4L445.7 176.2L466.0 165.4L475.0 164.2L493.0 154.6L502.5 145.1L503.7 137.9L528.9 134.3L540.9 125.9L552.8 122.3L562.4 125.9L570.8 122.3L582.8 118.7L590.0 119.9L598.4 127.1L594.8 135.5L594.8 142.7L602.0 136.7L630.7 131.9L645.0 142.7L654.6 149.9L669.0 152.3L674.0 152.3L674.0 209.7L654.6 213.3L645.0 216.9L647.5 237.3L621.1 250.5L594.8 251.7L586.4 255.2L572.0 263.6L561.2 251.7L544.5 262.4L528.9 272.0L514.5 269.6L504.9 278.0L490.0 287.5L475.6 300.7L463.7 311.4L448.1 321.0L431.3 324.6L409.8 333.0L394.2 342.6L390.6 354.6L378.6 354.6L376.2 367.7L367.8 377.3L366.6 385.7L355.9 395.3L349.9 406.0L335.5 413.2L331.9 421.6L316.3 430.0L310.0 433.3L299.2 440.5L306.4 450.0L302.8 459.4L302.0 475.0L297.0 484.0L278.0 485.0L277.0 493.0L297.0 495.0L290.0 500.0L271.0 505.0L270.5 528.8L282.5 538.4L296.8 544.4L296.8 550.4L290.8 556.0L290.8 564.8L283.7 571.9L284.8 582.7L287.2 594.7L286.0 606.7L283.7 618.7L271.7 627.0L253.7 631.8L241.7 636.6L235.7 645.0L153.0 645.0L155.5 631.8L151.9 622.2L172.3 615.1L177.1 606.7L174.7 594.7L179.5 588.7L166.3 580.3L172.3 564.8L167.5 558.8L148.3 552.8L145.9 543.2L138.7 524.0L129.8 512.1L129.2 490.5L124.4 486.9L110.0 487.0L110.0 469.0L125.0 469.0L126.7 479.0L135.4 478.2L148.4 471.0L157.1 467.4L167.2 460.2L178.0 452.9L179.5 444.2L184.5 437.0L188.9 434.8L189.6 414.6L195.4 406.6L193.9 402.3L190.3 393.6L194.7 380.6L201.2 371.2L204.8 366.2L209.8 355.3L201.0 345.8L199.0 338.0L193.8 335.1L181.9 327.9L178.0 322.0L178.0 312.0L199.0 312.0L206.0 318.0L209.0 325.0L218.0 330.0L229.0 327.0L240.0 316.0L252.0 306.0L270.0 293.0L282.0 279.0L289.0 273.0L295.0 266.0L301.0 248.0L304.0 222.0L305.0 211.0L303.0 205.0Z" fill="#fff000"/>
<path d="M105.0 484.0L117.0 477.0L181.7 450.0L195.0 462.0L212.4 470.5L222.6 474.0L246.5 480.7L270.4 487.6L280.6 491.0L300.0 496.0L300.0 660.0L105.0 660.0Z" fill="#ff8c00" stroke="#000" stroke-width="1.6" stroke-linejoin="round"/>
<path d="M284.1 436.4L301.1 429.5L314.8 427.8L297.7 446.6L306.2 460.2L296.0 474.0L290.0 470.0L288.0 455.0Z" fill="#ff8c00" stroke="#000" stroke-width="1.6" stroke-linejoin="round"/>
<path d="M194.0 518.5L206.2 515.5L221.5 514.4L227.6 520.5L235.7 523.6L234.7 532.8L243.9 538.9L240.8 545.0L239.8 556.2L242.9 566.4L241.8 581.6L233.7 591.8L221.5 602.0L201.1 609.1L188.9 602.0L180.7 591.8L180.7 586.7L168.5 581.6L167.5 574.5L173.6 569.4L174.6 556.2L173.6 546.0L180.7 532.8L188.9 523.6Z" fill="#fff000" stroke="#000" stroke-width="1.6" stroke-linejoin="round"/>
<path d="M199.1 590.8L206.2 583.7L221.5 576.6L231.6 576.6L234.7 581.6L229.6 591.8L216.4 600.0L203.1 600.0L198.0 596.9Z" fill="#a0ff50" stroke="#000" stroke-width="1.6" stroke-linejoin="round"/>
<path d="M205.2 616.3L221.5 607.1L241.8 591.8L252.0 578.6L262.2 569.4L274.4 564.3L282.6 565.4L280.5 571.5L284.6 574.5L282.6 586.7L285.6 596.9L286.6 607.1L280.5 617.3L272.4 630.5L246.9 637.7L236.7 645.0L200.0 645.0Z" fill="#ff4000" stroke="#000" stroke-width="1.6" stroke-linejoin="round"/>
<path d="M214.3 620.3L231.6 607.1L252.0 591.8L262.2 581.6L274.4 573.5L275.4 581.6L272.4 591.8L275.4 602.0L267.3 612.2L252.0 622.4L236.7 625.4L221.5 626.5Z" fill="#dc0000" stroke="#000" stroke-width="1.6" stroke-linejoin="round"/>
<path d="M237.8 608.1L241.8 602.0L250.0 596.9L256.1 598.0L252.0 605.1L243.9 610.2Z" fill="#a00000" stroke="#000" stroke-width="1.4" stroke-linejoin="round"/>
<path d="M148.0 645.0L151.0 628.0L160.0 619.0L172.0 613.0L186.0 611.0L201.0 614.0L216.0 622.0L226.0 632.0L236.7 645.0Z" fill="#4dffb3" stroke="#000" stroke-width="1.4" stroke-linejoin="round"/>
<path d="M156.0 645.0L160.0 630.0L168.0 622.0L180.0 617.0L193.0 616.0L206.0 620.0L216.0 628.0L222.0 645.0Z" fill="#00e0ff" stroke="#000" stroke-width="1.4" stroke-linejoin="round"/>
<path d="M162.0 645.0L166.0 632.0L174.0 624.0L185.0 620.0L197.0 620.0L208.0 625.0L215.0 634.0L217.0 645.0Z" fill="#00a0ff" stroke="#000" stroke-width="1.4" stroke-linejoin="round"/>
<path d="M167.0 645.0L171.0 634.0L179.0 627.0L189.0 623.0L200.0 624.0L209.0 630.0L212.0 645.0Z" fill="#0040ff" stroke="#000" stroke-width="1.4" stroke-linejoin="round"/>
<path d="M172.0 645.0L176.0 635.0L183.0 629.0L192.0 626.0L202.0 628.0L208.0 634.0L210.0 645.0Z" fill="#0000d0" stroke="#000" stroke-width="1.4" stroke-linejoin="round"/>
<path d="M178.0 645.0L181.0 636.0L188.0 630.0L197.0 629.0L205.0 633.0L207.0 645.0Z" fill="#000096" stroke="#000" stroke-width="1.4" stroke-linejoin="round"/>
<path d="M100.0 70.0L690.0 70.0L690.0 650.0L100.0 650.0ZM298.0 204.0L309.0 196.6L335.5 193.0L357.0 193.0L359.5 195.4L389.4 195.4L409.8 183.4L425.3 177.4L445.7 176.2L466.0 165.4L475.0 164.2L493.0 154.6L502.5 145.1L503.7 137.9L528.9 134.3L540.9 125.9L552.8 122.3L562.4 125.9L570.8 122.3L582.8 118.7L590.0 119.9L598.4 127.1L594.8 135.5L594.8 142.7L602.0 136.7L630.7 131.9L645.0 142.7L654.6 149.9L669.0 152.3L674.0 152.3L674.0 209.7L654.6 213.3L645.0 216.9L647.5 237.3L621.1 250.5L594.8 251.7L586.4 255.2L572.0 263.6L561.2 251.7L544.5 262.4L528.9 272.0L514.5 269.6L504.9 278.0L490.0 287.5L475.6 300.7L463.7 311.4L448.1 321.0L431.3 324.6L409.8 333.0L394.2 342.6L390.6 354.6L378.6 354.6L376.2 367.7L367.8 377.3L366.6 385.7L355.9 395.3L349.9 406.0L335.5 413.2L331.9 421.6L316.3 430.0L310.0 433.3L299.2 440.5L306.4 450.0L302.8 459.4L302.0 475.0L297.0 484.0L278.0 485.0L277.0 493.0L297.0 495.0L290.0 500.0L271.0 505.0L270.5 528.8L282.5 538.4L296.8 544.4L296.8 550.4L290.8 556.0L290.8 564.8L283.7 571.9L284.8 582.7L287.2 594.7L286.0 606.7L283.7 618.7L271.7 627.0L253.7 631.8L241.7 636.6L235.7 645.0L153.0 645.0L155.5 631.8L151.9 622.2L172.3 615.1L177.1 606.7L174.7 594.7L179.5 588.7L166.3 580.3L172.3 564.8L167.5 558.8L148.3 552.8L145.9 543.2L138.7 524.0L129.8 512.1L129.2 490.5L124.4 486.9L110.0 487.0L110.0 469.0L125.0 469.0L126.7 479.0L135.4 478.2L148.4 471.0L157.1 467.4L167.2 460.2L178.0 452.9L179.5 444.2L184.5 437.0L188.9 434.8L189.6 414.6L195.4 406.6L193.9 402.3L190.3 393.6L194.7 380.6L201.2 371.2L204.8 366.2L209.8 355.3L201.0 345.8L199.0 338.0L193.8 335.1L181.9 327.9L178.0 322.0L178.0 312.0L199.0 312.0L206.0 318.0L209.0 325.0L218.0 330.0L229.0 327.0L240.0 316.0L252.0 306.0L270.0 293.0L282.0 279.0L289.0 273.0L295.0 266.0L301.0 248.0L304.0 222.0L305.0 211.0L303.0 205.0Z" fill="#fff" fill-rule="evenodd"/>
<path d="M530.2 136.1L540.7 127.9L554.8 132.6L559.4 138.4L570.0 139.6L561.8 141.3L552.4 138.4L543.1 137.2L538.4 138.4Z" fill="#ff8c00" stroke="#000" stroke-width="1.4" stroke-linejoin="round"/>
<path d="M571.0 151.0L575.0 146.0L582.0 143.5L587.0 145.0L583.0 150.0L576.0 153.0Z" fill="#ff8c00" stroke="#000" stroke-width="1.4" stroke-linejoin="round"/>
<path d="M555.0 152.7L559.0 151.3L563.0 152.7L559.0 154.2Z" fill="#ff8c00" stroke="#000" stroke-width="1.4" stroke-linejoin="round"/>
<path d="M594.5 143.7L603.8 136.1L612.0 136.1L612.0 140.7L606.2 143.1Z" fill="#ff8c00" stroke="#000" stroke-width="1.4" stroke-linejoin="round"/>
<path d="M637.7 148.9L643.6 146.6L656.4 150.1L652.9 155.9L652.9 166.4L648.2 172.3L644.7 166.4L645.9 155.9L638.9 152.4Z" fill="#ff8c00" stroke="#000" stroke-width="1.4" stroke-linejoin="round"/>
<path d="M624.9 191.6L631.9 188.6L643.6 185.1L648.2 182.8L649.4 188.6L643.6 192.1L629.5 193.9Z" fill="#ff8c00" stroke="#000" stroke-width="1.4" stroke-linejoin="round"/>
<path d="M609.7 235.4L614.3 230.7L620.2 230.7L617.8 235.4L610.8 240.0Z" fill="#ff8c00" stroke="#000" stroke-width="1.4" stroke-linejoin="round"/>
<path d="M491.1 161.8L497.5 161.8L498.7 165.3L494.0 166.4Z" fill="#ff8c00" stroke="#000" stroke-width="1.4" stroke-linejoin="round"/>
<path d="M318.0 168.0L330.0 162.0L345.0 158.0L362.0 156.5L360.0 160.0L345.0 163.0L330.0 167.0L320.0 170.0Z" fill="#ff8c00" stroke="#000" stroke-width="1.4" stroke-linejoin="round"/>
<path d="M622.0 80.0L648.0 80.0L647.0 85.0L635.0 87.0L623.0 86.0Z" fill="#fff000"/>
<path d="M110.0 78.0L606.7 78.0L615.0 85.0L622.3 90.0L628.3 98.4L642.7 100.8L660.0 98.5L669.0 97.2L674.0 97.0L674.0 105.5L669.0 105.5L645.0 110.3L628.3 113.9L612.7 117.5L611.0 104.0L603.0 103.0L592.0 107.0L585.2 112.0L586.4 119.9L582.8 117.5L570.8 117.5L558.8 122.3L546.9 123.5L537.3 125.9L522.9 131.3L499.0 134.3L475.0 133.1L469.6 134.3L445.7 135.5L421.7 139.1L403.8 140.3L400.2 136.7L385.8 142.7L366.6 149.9L347.5 155.8L325.9 164.2L316.3 172.6L306.0 184.0L296.0 191.0L284.0 194.0L275.0 199.0L282.0 201.5L290.0 200.5L297.2 203.7L300.8 209.7L299.2 221.7L296.0 245.7L290.0 263.6L284.8 268.0L277.7 274.0L265.7 288.4L247.7 301.5L235.7 311.1L223.4 321.2L212.6 325.5L209.0 324.0L209.0 319.0L212.6 315.4L215.5 309.0L211.2 304.7L201.8 303.2L192.5 304.7L188.9 301.1L180.3 296.0L174.5 293.2L165.9 288.9L157.3 281.7L155.1 275.9L155.1 268.7L158.0 264.0L162.3 258.0L160.0 258.0L151.6 267.3L149.4 271.6L153.7 274.5L150.8 281.7L153.7 286.0L160.9 291.7L166.6 297.5L168.1 304.7L168.1 314.0L173.1 319.0L176.7 324.8L183.9 330.5L191.1 334.8L196.1 336.3L198.3 337.2L200.4 351.7L201.2 364.7L199.0 371.9L195.4 377.0L187.4 380.6L180.9 387.8L173.7 392.9L168.6 398.7L165.0 402.3L165.0 409.5L155.6 416.8L149.8 424.0L141.2 432.7L130.3 442.8L122.4 452.9L118.7 462.3L118.0 468.8L110.0 468.8L110.0 442.0L113.7 442.1L119.5 431.2L126.7 424.0L132.5 416.8L141.2 409.5L144.0 402.3L126.7 402.3L123.1 398.7L133.9 391.5L117.3 387.8L126.7 380.6L115.8 377.0L123.1 369.8L110.0 371.0L110.0 292.0L127.0 290.0L118.0 286.0L128.0 280.0L126.0 272.0L110.0 274.0Z" fill="#b3b3b3" fill-rule="evenodd" stroke="#000" stroke-width="2" stroke-linejoin="round"/>
<path d="M317.5 173.8L342.7 166.6L373.8 165.4L397.8 163.0L427.7 159.4L443.3 152.3L457.7 148.7L469.6 152.3L480.0 149.0L491.0 145.0L493.0 147.5L484.0 152.0L497.0 151.0L499.0 154.0L490.0 157.5L469.6 161.8L440.9 170.2L421.7 175.0L397.8 181.0L367.8 185.8L337.9 191.8L308.0 194.2L296.0 193.0L300.0 186.0L310.0 178.0Z" fill="#b3b3b3" stroke="#000" stroke-width="2" stroke-linejoin="round"/>
<path d="M428.0 167.0L440.0 162.0L452.0 158.0L460.0 156.0L455.0 162.0L445.0 167.0L432.0 170.0Z" fill="#fff" stroke="#000" stroke-width="1.6" stroke-linejoin="round"/>
<path d="M593.6 133.1L600.0 128.5L612.0 125.0L625.0 123.5L630.0 127.0L628.0 131.0L612.0 131.5L600.0 134.0Z" fill="#b3b3b3" stroke="#000" stroke-width="1.8" stroke-linejoin="round"/>
<path d="M645.0 136.0L655.0 133.0L665.0 130.5L674.0 129.0L674.0 137.0L662.0 139.0L650.0 139.0Z" fill="#b3b3b3" stroke="#000" stroke-width="1.8" stroke-linejoin="round"/>
<path d="M110.0 487.0L118.0 490.0L124.0 505.0L130.0 520.0L136.0 540.0L138.0 552.0L130.0 553.0L110.0 553.0Z" fill="#b3b3b3" stroke="#000" stroke-width="1.8" stroke-linejoin="round"/>
<path d="M110.0 564.8L125.6 562.4L134.0 570.7L137.5 582.7L131.6 594.7L122.0 595.9L110.0 600.7Z" fill="#b3b3b3" stroke="#000" stroke-width="1.8" stroke-linejoin="round"/>
<path d="M110.0 486.5L112.4 486.9L122.0 504.9L131.6 528.8L141.1 550.4L150.7 567.2L157.9 579.1L161.5 588.7L162.7 600.7L160.3 612.7L155.5 617.5L139.9 622.2L122.0 629.4L110.0 634.0" fill="none" stroke="#000" stroke-width="2.6" stroke-linejoin="round"/>
<path d="M196.1 375.6L190.0 383.0L180.0 393.0L172.0 402.0L168.6 411.0" fill="none" stroke="#000" stroke-width="2.2" stroke-linejoin="round"/>
<path d="M137.5 434.0L148.0 420.0" fill="none" stroke="#000" stroke-width="2.2" stroke-dasharray="5 3"/>
<path d="M538.0 123.0L537.0 110.0L541.0 100.0L546.0 97.0L551.0 102.0L556.0 108.0L560.0 116.0L566.0 121.0L558.0 123.0L548.0 123.0Z" fill="#fff" stroke="#000" stroke-width="1.5" stroke-linejoin="round"/>
<path d="M547.0 104.0L551.0 106.0L553.0 115.0L550.0 120.0L547.0 114.0Z" fill="#b3b3b3" stroke="#000" stroke-width="1.3" stroke-linejoin="round"/>
<path d="M301.0 137.0L303.0 142.0L305.0 150.0L304.0 160.0L302.0 168.0L299.0 176.0L296.0 184.0L293.0 190.0" fill="none" stroke="#000" stroke-width="5"/>
<path d="M301.0 137.0L303.0 142.0L305.0 150.0L304.0 160.0L302.0 168.0L299.0 176.0L296.0 184.0L293.0 190.0" fill="none" stroke="#fff" stroke-width="2"/>
<path d="M201.8 240.0L193.8 243.3L181.9 248.0L170.0 253.0L162.3 256.5L156.0 262.0L153.0 266.5" fill="none" stroke="#000" stroke-width="4.5"/>
<path d="M201.8 240.0L193.8 243.3L181.9 248.0L170.0 253.0L162.3 256.5L156.0 262.0L153.0 266.5" fill="none" stroke="#fff" stroke-width="1.6"/>
<path d="M173.5 80.0L181.9 88.8L196.2 94.8L199.8 102.0L201.0 109.0L205.8 118.7L211.8 122.3L223.8 125.3L229.8 127.1L232.8 130.7M232.8 131.3L301.5 158.0M232.8 130.7L222.6 137.9L217.8 145.0L209.4 152.3L196.2 159.4L192.6 161.8L198.6 169.0L191.4 177.4L186.6 182.2L187.8 193.0L193.8 194.8L198.6 202.6L203.4 207.3L208.2 209.7L217.8 219.3L229.8 226.5L225.0 229.5L211.8 234.9L193.8 243.3M162.7 254.0L155.0 254.5L146.0 256.0L138.0 258.5L133.5 261.0L131.6 262.4M110.0 262.4L131.6 262.4M131.6 262.4L141.1 362.6L198.6 363.8M346.3 80.0L342.7 142.7L324.7 152.3L329.5 159.4M503.1 80.0L499.6 134.3M542.0 80.0L544.5 91.2L546.9 97.2M146.9 399.4L168.6 398.7" fill="none" stroke="#000" stroke-width="1.6" stroke-linejoin="round"/>
<line x1="298.5" y1="80.0" x2="298.5" y2="640.0" stroke="#262626" stroke-opacity="0.15" stroke-width="1.8"/>
<line x1="485.0" y1="80.0" x2="485.0" y2="640.0" stroke="#262626" stroke-opacity="0.15" stroke-width="1.8"/>
<line x1="112.0" y1="560.0" x2="671.5" y2="560.0" stroke="#262626" stroke-opacity="0.15" stroke-width="1.8"/>
<line x1="112.0" y1="480.0" x2="671.5" y2="480.0" stroke="#262626" stroke-opacity="0.15" stroke-width="1.8"/>
<line x1="112.0" y1="400.0" x2="671.5" y2="400.0" stroke="#262626" stroke-opacity="0.15" stroke-width="1.8"/>
<line x1="112.0" y1="320.0" x2="671.5" y2="320.0" stroke="#262626" stroke-opacity="0.15" stroke-width="1.8"/>
<line x1="112.0" y1="240.0" x2="671.5" y2="240.0" stroke="#262626" stroke-opacity="0.15" stroke-width="1.8"/>
<line x1="112.0" y1="160.0" x2="671.5" y2="160.0" stroke="#262626" stroke-opacity="0.15" stroke-width="1.8"/>
</g>
<rect x="112.0" y="80.0" width="559.5" height="560.0" fill="none" stroke="#262626" stroke-width="2"/>
<path d="M112.0 640.0v-6M112.0 80.0v6M298.5 640.0v-6M298.5 80.0v6M485.0 640.0v-6M485.0 80.0v6M671.5 640.0v-6M671.5 80.0v6M112.0 640.0h6M671.5 640.0h-6M112.0 560.0h6M671.5 560.0h-6M112.0 480.0h6M671.5 480.0h-6M112.0 400.0h6M671.5 400.0h-6M112.0 320.0h6M671.5 320.0h-6M112.0 240.0h6M671.5 240.0h-6M112.0 160.0h6M671.5 160.0h-6M112.0 80.0h6M671.5 80.0h-6" stroke="#262626" stroke-width="2" fill="none"/>
<text x="55.31" y="654.10" font-size="37.00" fill="#262626">35</text>
<text x="55.40" y="574.10" font-size="37.00" fill="#262626">36</text>
<text x="55.68" y="494.10" font-size="37.00" fill="#262626">37</text>
<text x="55.40" y="414.10" font-size="37.00" fill="#262626">38</text>
<text x="55.50" y="334.10" font-size="37.00" fill="#262626">39</text>
<text x="55.22" y="254.10" font-size="37.00" fill="#262626">40</text>
<text x="55.59" y="174.10" font-size="37.00" fill="#262626">41</text>
<text x="55.68" y="94.10" font-size="37.00" fill="#262626">42</text>
<text x="84.92" y="691.20" font-size="37.00" fill="#262626">-76</text>
<text x="271.14" y="691.20" font-size="37.00" fill="#262626">-74</text>
<text x="458.06" y="691.20" font-size="37.00" fill="#262626">-72</text>
<text x="644.33" y="691.20" font-size="37.00" fill="#262626">-70</text>
<text x="315.79" y="742.20" font-size="43.70" fill="#262626">Lon(W)</text>
<text transform="translate(36.00,413.67) rotate(-90)" x="0" y="0" font-size="40.00" fill="#262626" textLength="110.19" lengthAdjust="spacingAndGlyphs">Lat(N)</text>
<text x="154.82" y="68.00" font-size="40.20" fill="#000" font-weight="bold" xml:space="preserve">VEL EOF  Mode-3  (8.8%)</text>
<rect x="726" y="86" width="56" height="558" fill="url(#jet)" stroke="#262626" stroke-width="1.5"/>
<path d="M782 113.0h-5M782 240.3h-5M782 368.0h-5M782 494.7h-5M782 622.0h-5" stroke="#262626" stroke-width="1.5"/>
<text x="795.86" y="126.40" font-size="33.50" fill="#262626">0.05</text>
<text x="795.86" y="253.70" font-size="33.50" fill="#262626">0</text>
<text x="795.69" y="381.40" font-size="33.50" fill="#262626">-0.05</text>
<text x="795.69" y="508.10" font-size="33.50" fill="#262626">-0.1</text>
<text x="795.69" y="635.40" font-size="33.50" fill="#262626">-0.15</text>
<path d="M1244.2 50.0V671.0M1393.4 50.0V671.0M1542.6 50.0V671.0M1691.8 50.0V671.0M1095.0 515.8H1841.0M1095.0 360.5H1841.0M1095.0 205.2H1841.0" stroke="#262626" stroke-opacity="0.15" stroke-width="1.8" fill="none"/>
<g clip-path="url(#tsclip)">
<path d="M1095.0 331.7L1095.4 158.7L1095.8 329.0L1096.2 226.6L1096.6 240.3L1097.0 345.0L1097.4 324.7L1097.9 338.5L1098.3 320.0L1098.7 307.3L1099.1 349.6L1099.5 246.1L1099.9 366.6L1100.3 347.9L1100.7 217.3L1101.1 217.3L1101.5 237.5L1101.9 246.4L1102.3 258.2L1102.8 242.4L1103.2 250.2L1103.6 168.0L1104.0 302.0L1104.4 295.6L1104.8 309.3L1105.2 290.2L1105.6 345.0L1106.0 330.1L1106.4 236.9L1106.8 183.5L1107.2 242.1L1107.7 253.0L1108.1 246.0L1108.5 238.8L1108.9 250.7L1109.3 255.1L1109.7 284.6L1110.1 280.3L1110.5 152.6L1110.9 305.0L1111.3 247.0L1111.7 225.2L1112.1 206.8L1112.6 159.1L1113.0 218.4L1113.4 254.5L1113.8 273.4L1114.2 313.9L1114.6 255.9L1115.0 205.4L1115.4 210.5L1115.8 235.0L1116.2 286.7L1116.6 137.4L1117.0 294.8L1117.5 288.5L1117.9 181.6L1118.3 283.9L1118.7 268.9L1119.1 227.6L1119.5 235.6L1119.9 258.5L1120.3 290.1L1120.7 305.5L1121.1 293.6L1121.5 263.8L1121.9 251.1L1122.4 276.6L1122.8 189.7L1123.2 182.2L1123.6 239.7L1124.0 275.9L1124.4 250.2L1124.8 307.6L1125.2 155.0L1125.6 284.1L1126.0 121.4L1126.4 273.0L1126.8 280.8L1127.3 321.5L1127.7 341.8L1128.1 322.8L1128.5 305.4L1128.9 300.3L1129.3 287.9L1129.7 380.0L1130.1 287.8L1130.5 295.0L1130.9 274.4L1131.3 268.0L1131.7 277.1L1132.2 478.5L1132.6 305.2L1133.0 313.0L1133.4 365.7L1133.8 328.8L1134.2 310.8L1134.6 312.0L1135.0 299.3L1135.4 438.1L1135.8 417.1L1136.2 315.8L1136.6 397.8L1137.1 333.0L1137.5 315.1L1137.9 318.4L1138.3 307.4L1138.7 320.0L1139.1 306.6L1139.5 303.4L1139.9 317.7L1140.3 313.0L1140.7 332.9L1141.1 323.1L1141.5 223.1L1142.0 337.3L1142.4 322.0L1142.8 324.3L1143.2 180.4L1143.6 344.5L1144.0 308.8L1144.4 293.4L1144.8 301.7L1145.2 303.0L1145.6 266.2L1146.0 286.5L1146.4 389.9L1146.9 299.1L1147.3 298.8L1147.7 299.9L1148.1 297.0L1148.5 304.6L1148.9 313.9L1149.3 327.3L1149.7 332.7L1150.1 322.3L1150.5 180.4L1150.9 326.6L1151.3 321.7L1151.8 338.4L1152.2 376.3L1152.6 340.7L1153.0 323.6L1153.4 339.1L1153.8 313.8L1154.2 326.4L1154.6 183.5L1155.0 314.4L1155.4 331.0L1155.8 337.3L1156.2 320.9L1156.7 337.3L1157.1 333.1L1157.5 407.1L1157.9 358.7L1158.3 333.4L1158.7 340.0L1159.1 371.2L1159.5 333.3L1159.9 335.5L1160.3 341.9L1160.7 342.9L1161.1 266.9L1161.6 331.4L1162.0 309.7L1162.4 318.2L1162.8 559.1L1163.2 354.8L1163.6 338.3L1164.0 316.8L1164.4 407.8L1164.8 591.0L1165.2 627.5L1165.6 436.7L1166.0 369.7L1166.5 306.7L1166.9 325.2L1167.3 352.4L1167.7 305.5L1168.1 523.0L1168.5 362.1L1168.9 544.9L1169.3 400.4L1169.7 298.4L1170.1 510.2L1170.5 412.8L1170.9 405.4L1171.4 383.9L1171.8 421.8L1172.2 420.8L1172.6 391.5L1173.0 338.8L1173.4 365.8L1173.8 402.9L1174.2 402.6L1174.6 466.1L1175.0 349.9L1175.4 329.6L1175.8 342.4L1176.3 368.6L1176.7 525.1L1177.1 439.0L1177.5 317.3L1177.9 330.2L1178.3 316.3L1178.7 315.7L1179.1 316.8L1179.5 549.2L1179.9 352.0L1180.3 593.4L1180.7 301.5L1181.2 398.3L1181.6 385.6L1182.0 379.7L1182.4 390.9L1182.8 392.7L1183.2 487.0L1183.6 298.4L1184.0 324.9L1184.4 363.0L1184.8 369.1L1185.2 393.5L1185.6 454.3L1186.1 352.5L1186.5 386.8L1186.9 466.5L1187.3 340.5L1187.7 356.4L1188.1 312.7L1188.5 351.5L1188.9 303.3L1189.3 340.6L1189.7 327.8L1190.1 365.8L1190.5 396.9L1191.0 385.8L1191.4 376.4L1191.8 408.9L1192.2 363.6L1192.6 440.6L1193.0 324.0L1193.4 552.9L1193.8 546.8L1194.2 545.0L1194.6 416.1L1195.0 419.9L1195.4 467.1L1195.9 454.1L1196.3 511.8L1196.7 494.2L1197.1 473.1L1197.5 470.1L1197.9 444.3L1198.3 490.7L1198.7 449.6L1199.1 520.4L1199.5 515.8L1199.9 480.5L1200.3 532.6L1200.8 409.5L1201.2 427.3L1201.6 463.0L1202.0 489.9L1202.4 480.0L1202.8 494.4L1203.2 474.6L1203.6 494.8L1204.0 489.2L1204.4 411.9L1204.8 431.8L1205.2 488.6L1205.7 479.3L1206.1 433.4L1206.5 326.3L1206.9 496.1L1207.3 339.3L1207.7 510.0L1208.1 556.1L1208.5 466.4L1208.9 437.7L1209.3 428.7L1209.7 560.9L1210.1 509.4L1210.6 459.9L1211.0 493.9L1211.4 505.0L1211.8 541.0L1212.2 566.6L1212.6 506.5L1213.0 418.3L1213.4 485.7L1213.8 493.9L1214.2 475.2L1214.6 484.5L1215.0 577.9L1215.5 467.7L1215.9 465.3L1216.3 457.7L1216.7 460.6L1217.1 476.5L1217.5 653.9L1217.9 489.6L1218.3 469.8L1218.7 459.7L1219.1 455.5L1219.5 518.5L1219.9 470.7L1220.4 530.6L1220.8 402.7L1221.2 529.0L1221.6 320.1L1222.0 532.7L1222.4 506.8L1222.8 446.0L1223.2 559.9L1223.6 569.6L1224.0 591.2L1224.4 527.6L1224.8 579.5L1225.3 525.2L1225.7 584.1L1226.1 474.3L1226.5 445.3L1226.9 351.2L1227.3 474.7L1227.7 493.4L1228.1 533.4L1228.5 516.3L1228.9 549.1L1229.3 528.5L1229.7 534.8L1230.2 449.6L1230.6 578.8L1231.0 328.7L1231.4 359.8L1231.8 509.0L1232.2 443.4L1232.6 487.4L1233.0 615.1L1233.4 502.6L1233.8 484.0L1234.2 409.5L1234.6 558.5L1235.1 301.5L1235.5 536.4L1235.9 395.7L1236.3 510.4L1236.7 441.3L1237.1 433.6L1237.5 427.1L1237.9 531.3L1238.3 470.7L1238.7 313.1L1239.1 327.5L1239.5 469.0L1240.0 313.9L1240.4 404.3L1240.8 389.4L1241.2 457.5L1241.6 389.5L1242.0 371.0L1242.4 336.7L1242.8 310.8L1243.2 298.4L1243.6 365.4L1244.0 478.0L1244.4 357.1L1244.9 359.6L1245.3 356.8L1245.7 394.7L1246.1 320.0L1246.5 341.1L1246.9 354.2L1247.3 354.8L1247.7 354.7L1248.1 352.8L1248.5 379.2L1248.9 344.4L1249.3 356.8L1249.8 358.7L1250.2 310.2L1250.6 357.0L1251.0 301.5L1251.4 390.7L1251.8 374.1L1252.2 378.2L1252.6 368.8L1253.0 401.9L1253.4 452.5L1253.8 344.0L1254.2 503.4L1254.7 435.3L1255.1 386.0L1255.5 381.9L1255.9 376.0L1256.3 458.7L1256.7 494.0L1257.1 344.9L1257.5 447.1L1257.9 420.5L1258.3 426.0L1258.7 382.9L1259.1 452.2L1259.6 327.0L1260.0 310.8L1260.4 518.9L1260.8 353.8L1261.2 347.1L1261.6 388.9L1262.0 429.1L1262.4 530.0L1262.8 508.1L1263.2 512.8L1263.6 546.8L1264.0 451.7L1264.5 435.0L1264.9 558.0L1265.3 414.8L1265.7 441.5L1266.1 465.4L1266.5 389.0L1266.9 417.6L1267.3 407.2L1267.7 430.6L1268.1 507.8L1268.5 304.6L1268.9 577.9L1269.4 449.3L1269.8 457.1L1270.2 535.8L1270.6 475.6L1271.0 330.1L1271.4 464.6L1271.8 464.9L1272.2 503.9L1272.6 514.4L1273.0 618.2L1273.4 392.7L1273.8 358.3L1274.3 356.3L1274.7 377.7L1275.1 412.0L1275.5 403.1L1275.9 451.3L1276.3 421.7L1276.7 422.2L1277.1 403.7L1277.5 358.6L1277.9 385.2L1278.3 386.4L1278.7 401.9L1279.2 447.0L1279.6 453.6L1280.0 323.2L1280.4 430.6L1280.8 429.1L1281.2 467.3L1281.6 454.9L1282.0 385.1L1282.4 428.6L1282.8 417.4L1283.2 402.1L1283.6 421.9L1284.1 461.6L1284.5 509.5L1284.9 558.5L1285.3 436.4L1285.7 423.4L1286.1 437.1L1286.5 470.8L1286.9 535.2L1287.3 422.1L1287.7 395.9L1288.1 415.5L1288.5 414.5L1289.0 414.9L1289.4 546.8L1289.8 357.2L1290.2 366.7L1290.6 361.6L1291.0 437.3L1291.4 364.7L1291.8 380.0L1292.2 430.0L1292.6 633.7L1293.0 472.4L1293.4 510.6L1293.9 493.1L1294.3 496.8L1294.7 613.4L1295.1 567.0L1295.5 456.6L1295.9 469.5L1296.3 504.4L1296.7 352.9L1297.1 343.8L1297.5 340.8L1297.9 344.0L1298.3 351.1L1298.8 251.8L1299.2 346.2L1299.6 351.9L1300.0 283.3L1300.4 358.7L1300.8 360.4L1301.2 359.0L1301.6 276.7L1302.0 352.1L1302.4 347.6L1302.8 346.5L1303.2 287.2L1303.7 350.6L1304.1 352.0L1304.5 349.5L1304.9 431.9L1305.3 333.5L1305.7 333.5L1306.1 338.7L1306.5 337.1L1306.9 335.3L1307.3 348.1L1307.7 354.9L1308.1 355.2L1308.6 357.1L1309.0 359.3L1309.4 359.6L1309.8 354.9L1310.2 360.1L1310.6 360.4L1311.0 352.3L1311.4 279.8L1311.8 344.9L1312.2 348.4L1312.6 353.3L1313.0 345.3L1313.5 363.8L1313.9 340.3L1314.3 311.9L1314.7 356.6L1315.1 361.5L1315.5 343.6L1315.9 351.4L1316.3 295.3L1316.7 341.0L1317.1 369.8L1317.5 354.1L1317.9 356.3L1318.4 340.3L1318.8 342.6L1319.2 339.3L1319.6 325.3L1320.0 333.4L1320.4 331.9L1320.8 333.3L1321.2 345.7L1321.6 344.3L1322.0 339.9L1322.4 331.7L1322.8 332.0L1323.3 342.3L1323.7 348.7L1324.1 353.9L1324.5 351.4L1324.9 351.7L1325.3 339.5L1325.7 357.0L1326.1 338.0L1326.5 346.0L1326.9 340.1L1327.3 370.4L1327.7 345.2L1328.2 338.8L1328.6 342.2L1329.0 343.3L1329.4 326.7L1329.8 345.7L1330.2 345.3L1330.6 341.3L1331.0 347.2L1331.4 342.9L1331.8 347.4L1332.2 301.5L1332.6 339.5L1333.1 350.1L1333.5 350.3L1333.9 317.3L1334.3 344.0L1334.7 337.3L1335.1 337.8L1335.5 333.4L1335.9 338.9L1336.3 342.0L1336.7 353.2L1337.1 348.4L1337.5 348.6L1338.0 349.0L1338.4 348.8L1338.8 340.6L1339.2 352.4L1339.6 338.4L1340.0 334.0L1340.4 332.9L1340.8 330.9L1341.2 340.5L1341.6 331.3L1342.0 330.7L1342.4 334.0L1342.9 334.1L1343.3 334.5L1343.7 315.8L1344.1 332.8L1344.5 376.0L1344.9 333.5L1345.3 333.0L1345.7 332.7L1346.1 355.5L1346.5 364.0L1346.9 346.2L1347.3 345.1L1347.7 343.3L1348.2 339.9L1348.6 353.0L1349.0 355.3L1349.4 341.9L1349.8 353.3L1350.2 322.2L1350.6 344.3L1351.0 338.8L1351.4 340.6L1351.8 310.8L1352.2 367.0L1352.6 341.3L1353.1 360.8L1353.5 332.9L1353.9 335.8L1354.3 331.5L1354.7 332.9L1355.1 338.8L1355.5 343.0L1355.9 338.4L1356.3 334.2L1356.7 346.3L1357.1 354.6L1357.5 352.8L1358.0 354.6L1358.4 338.3L1358.8 339.3L1359.2 445.2L1359.6 336.9L1360.0 425.7L1360.4 338.3L1360.8 340.1L1361.2 346.5L1361.6 356.6L1362.0 357.0L1362.4 342.9L1362.9 339.3L1363.3 338.6L1363.7 341.8L1364.1 358.0L1364.5 353.1L1364.9 323.0L1365.3 338.0L1365.7 338.2L1366.1 346.2L1366.5 350.4L1366.9 475.4L1367.3 409.3L1367.8 332.8L1368.2 333.7L1368.6 339.7L1369.0 338.2L1369.4 334.3L1369.8 317.0L1370.2 334.0L1370.6 344.1L1371.0 341.9L1371.4 351.7L1371.8 346.8L1372.2 358.0L1372.7 366.7L1373.1 354.1L1373.5 361.0L1373.9 360.1L1374.3 346.5L1374.7 349.9L1375.1 358.4L1375.5 355.7L1375.9 347.3L1376.3 349.3L1376.7 295.3L1377.1 348.9L1377.6 356.9L1378.0 318.2L1378.4 344.2L1378.8 360.2L1379.2 342.5L1379.6 331.6L1380.0 334.8L1380.4 350.3L1380.8 343.0L1381.2 331.4L1381.6 331.3L1382.0 333.1L1382.5 337.4L1382.9 345.5L1383.3 353.5L1383.7 310.8L1384.1 335.3L1384.5 343.4L1384.9 352.4L1385.3 353.8L1385.7 345.2L1386.1 333.5L1386.5 334.8L1386.9 332.0L1387.4 352.7L1387.8 312.4L1388.2 379.6L1388.6 311.1L1389.0 317.7L1389.4 306.6L1389.8 317.6L1390.2 311.1L1390.6 329.8L1391.0 251.8L1391.4 322.4L1391.8 336.8L1392.3 369.8L1392.7 277.3L1393.1 322.4L1393.5 289.7L1393.9 205.2L1394.3 311.5L1394.7 339.4L1395.1 309.3L1395.5 208.4L1395.9 333.4L1396.3 283.8L1396.7 292.1L1397.2 368.3L1397.6 219.1L1398.0 316.2L1398.4 220.5L1398.8 323.9L1399.2 218.3L1399.6 309.8L1400.0 280.8L1400.4 325.3L1400.8 351.4L1401.2 320.7L1401.6 438.1L1402.1 302.7L1402.5 339.2L1402.9 332.1L1403.3 290.9L1403.7 366.5L1404.1 265.6L1404.5 244.4L1404.9 329.9L1405.3 390.2L1405.7 444.3L1406.1 389.1L1406.5 390.2L1407.0 334.6L1407.4 292.9L1407.8 183.5L1408.2 374.3L1408.6 244.2L1409.0 384.3L1409.4 375.2L1409.8 423.9L1410.2 242.5L1410.6 253.6L1411.0 286.1L1411.4 294.2L1411.9 496.1L1412.3 479.2L1412.7 264.1L1413.1 436.1L1413.5 458.1L1413.9 455.5L1414.3 469.2L1414.7 495.4L1415.1 425.8L1415.5 431.6L1415.9 441.8L1416.3 414.7L1416.8 469.0L1417.2 473.9L1417.6 488.8L1418.0 393.0L1418.4 496.4L1418.8 500.2L1419.2 405.1L1419.6 397.1L1420.0 379.5L1420.4 493.0L1420.8 426.3L1421.2 435.0L1421.7 313.9L1422.1 421.7L1422.5 445.5L1422.9 464.4L1423.3 437.4L1423.7 445.2L1424.1 400.1L1424.5 433.0L1424.9 427.2L1425.3 477.8L1425.7 408.0L1426.1 370.9L1426.6 390.1L1427.0 401.1L1427.4 462.6L1427.8 446.5L1428.2 261.1L1428.6 361.3L1429.0 347.4L1429.4 350.5L1429.8 408.7L1430.2 415.2L1430.6 357.2L1431.0 497.1L1431.5 378.1L1431.9 394.3L1432.3 381.8L1432.7 316.4L1433.1 347.1L1433.5 475.4L1433.9 463.8L1434.3 463.1L1434.7 500.2L1435.1 290.8L1435.5 449.3L1435.9 448.6L1436.4 440.5L1436.8 316.0L1437.2 493.4L1437.6 290.6L1438.0 452.0L1438.4 408.8L1438.8 404.8L1439.2 402.2L1439.6 399.8L1440.0 468.5L1440.4 373.2L1440.8 394.5L1441.3 463.0L1441.7 374.4L1442.1 388.2L1442.5 411.1L1442.9 434.0L1443.3 471.8L1443.7 452.4L1444.1 351.2L1444.5 411.2L1444.9 310.8L1445.3 429.1L1445.7 338.4L1446.2 475.4L1446.6 443.8L1447.0 443.7L1447.4 440.8L1447.8 435.3L1448.2 440.7L1448.6 352.0L1449.0 377.7L1449.4 372.2L1449.8 400.9L1450.2 430.5L1450.6 426.6L1451.1 442.1L1451.5 431.9L1451.9 315.7L1452.3 306.4L1452.7 346.1L1453.1 284.5L1453.5 233.0L1453.9 235.8L1454.3 309.4L1454.7 387.1L1455.1 329.4L1455.5 330.6L1456.0 346.0L1456.4 236.3L1456.8 334.8L1457.2 358.9L1457.6 360.0L1458.0 358.3L1458.4 357.1L1458.8 343.1L1459.2 347.0L1459.6 233.2L1460.0 274.7L1460.4 349.2L1460.9 334.4L1461.3 299.3L1461.7 294.0L1462.1 268.9L1462.5 259.9L1462.9 291.5L1463.3 253.6L1463.7 336.6L1464.1 355.0L1464.5 345.2L1464.9 469.2L1465.3 270.9L1465.8 255.4L1466.2 340.9L1466.6 334.8L1467.0 345.4L1467.4 339.4L1467.8 353.2L1468.2 338.5L1468.6 232.9L1469.0 300.8L1469.4 230.1L1469.8 298.2L1470.2 398.9L1470.7 404.6L1471.1 321.1L1471.5 328.0L1471.9 305.3L1472.3 450.5L1472.7 260.7L1473.1 376.0L1473.5 258.0L1473.9 249.8L1474.3 355.0L1474.7 337.7L1475.1 288.8L1475.6 257.2L1476.0 481.6L1476.4 289.6L1476.8 261.1L1477.2 267.4L1477.6 291.8L1478.0 272.8L1478.4 269.9L1478.8 269.3L1479.2 269.0L1479.6 325.7L1480.0 316.6L1480.5 282.6L1480.9 295.9L1481.3 494.0L1481.7 348.9L1482.1 355.0L1482.5 405.1L1482.9 372.9L1483.3 368.2L1483.7 349.6L1484.1 320.6L1484.5 322.8L1484.9 355.8L1485.4 441.2L1485.8 331.1L1486.2 264.6L1486.6 402.1L1487.0 303.0L1487.4 329.9L1487.8 267.2L1488.2 343.9L1488.6 326.9L1489.0 413.9L1489.4 352.8L1489.8 339.9L1490.3 421.2L1490.7 322.6L1491.1 447.4L1491.5 326.6L1491.9 315.2L1492.3 293.9L1492.7 304.5L1493.1 330.9L1493.5 348.1L1493.9 332.8L1494.3 260.3L1494.7 245.6L1495.2 393.5L1495.6 262.1L1496.0 383.8L1496.4 378.6L1496.8 321.8L1497.2 384.3L1497.6 326.7L1498.0 291.6L1498.4 400.0L1498.8 311.3L1499.2 287.5L1499.6 371.8L1500.1 474.1L1500.5 466.1L1500.9 349.2L1501.3 335.8L1501.7 335.6L1502.1 462.8L1502.5 430.9L1502.9 416.9L1503.3 327.4L1503.7 408.4L1504.1 377.6L1504.5 379.3L1505.0 387.8L1505.4 391.4L1505.8 375.6L1506.2 509.5L1506.6 357.3L1507.0 370.3L1507.4 304.6L1507.8 438.5L1508.2 394.1L1508.6 373.2L1509.0 353.6L1509.4 368.9L1509.9 356.2L1510.3 366.7L1510.7 381.9L1511.1 384.5L1511.5 388.4L1511.9 393.0L1512.3 299.4L1512.7 317.5L1513.1 494.6L1513.5 340.6L1513.9 355.4L1514.3 292.2L1514.8 373.6L1515.2 416.6L1515.6 411.7L1516.0 353.2L1516.4 333.2L1516.8 470.8L1517.2 407.0L1517.6 366.6L1518.0 473.2L1518.4 327.8L1518.8 333.0L1519.2 374.5L1519.7 272.2L1520.1 447.4L1520.5 412.6L1520.9 423.2L1521.3 487.1L1521.7 324.3L1522.1 279.8L1522.5 324.2L1522.9 373.1L1523.3 340.6L1523.7 401.4L1524.1 403.8L1524.6 399.4L1525.0 398.2L1525.4 466.1L1525.8 408.2L1526.2 426.5L1526.6 370.2L1527.0 313.6L1527.4 399.9L1527.8 236.3L1528.2 420.5L1528.6 459.0L1529.0 282.0L1529.5 335.3L1529.9 347.5L1530.3 500.2L1530.7 374.2L1531.1 334.6L1531.5 347.5L1531.9 359.8L1532.3 332.1L1532.7 362.9L1533.1 352.9L1533.5 369.0L1533.9 289.1L1534.4 362.6L1534.8 388.3L1535.2 467.2L1535.6 332.4L1536.0 379.7L1536.4 443.6L1536.8 341.6L1537.2 375.0L1537.6 332.6L1538.0 414.0L1538.4 295.2L1538.8 363.1L1539.3 342.0L1539.7 329.1L1540.1 441.2L1540.5 267.4L1540.9 270.5L1541.3 331.4L1541.7 356.1L1542.1 364.6L1542.5 369.0L1542.9 380.8L1543.3 393.0L1543.7 367.2L1544.2 497.1L1544.6 351.4L1545.0 413.3L1545.4 391.8L1545.8 365.3L1546.2 348.8L1546.6 353.8L1547.0 323.7L1547.4 374.5L1547.8 334.4L1548.2 345.0L1548.6 349.8L1549.1 485.2L1549.5 499.9L1549.9 395.2L1550.3 395.3L1550.7 400.3L1551.1 528.2L1551.5 389.8L1551.9 348.8L1552.3 321.5L1552.7 326.7L1553.1 330.1L1553.5 317.9L1554.0 304.6L1554.4 312.3L1554.8 470.6L1555.2 316.6L1555.6 346.0L1556.0 394.1L1556.4 398.6L1556.8 326.6L1557.2 319.9L1557.6 385.3L1558.0 338.8L1558.4 326.2L1558.9 353.7L1559.3 311.4L1559.7 371.8L1560.1 489.2L1560.5 304.6L1560.9 496.1L1561.3 484.5L1561.7 504.2L1562.1 509.5L1562.5 402.0L1562.9 459.6L1563.3 463.0L1563.8 496.6L1564.2 484.3L1564.6 465.1L1565.0 495.5L1565.4 459.8L1565.8 424.7L1566.2 345.6L1566.6 400.1L1567.0 565.4L1567.4 417.8L1567.8 475.1L1568.2 521.7L1568.7 466.3L1569.1 498.7L1569.5 476.6L1569.9 466.3L1570.3 447.4L1570.7 441.9L1571.1 489.6L1571.5 435.7L1571.9 520.3L1572.3 424.1L1572.7 446.3L1573.1 329.4L1573.6 559.2L1574.0 405.8L1574.4 392.3L1574.8 391.7L1575.2 392.8L1575.6 405.1L1576.0 524.7L1576.4 412.2L1576.8 317.0L1577.2 373.6L1577.6 430.8L1578.0 424.1L1578.5 461.6L1578.9 514.9L1579.3 414.9L1579.7 540.6L1580.1 422.0L1580.5 463.7L1580.9 362.8L1581.3 502.0L1581.7 447.3L1582.1 456.0L1582.5 452.9L1582.9 437.4L1583.4 417.9L1583.8 460.4L1584.2 466.1L1584.6 458.9L1585.0 467.8L1585.4 505.9L1585.8 456.0L1586.2 433.2L1586.6 480.6L1587.0 460.6L1587.4 307.7L1587.8 438.8L1588.3 372.5L1588.7 525.1L1589.1 433.2L1589.5 473.6L1589.9 457.7L1590.3 441.8L1590.7 472.1L1591.1 443.3L1591.5 406.1L1591.9 402.7L1592.3 518.9L1592.7 444.8L1593.1 461.0L1593.6 454.0L1594.0 440.9L1594.4 430.5L1594.8 436.7L1595.2 502.1L1595.6 498.4L1596.0 394.3L1596.4 399.4L1596.8 323.2L1597.2 451.7L1597.6 444.4L1598.0 515.8L1598.5 450.2L1598.9 414.9L1599.3 368.6L1599.7 380.6L1600.1 502.4L1600.5 370.7L1600.9 364.5L1601.3 364.5L1601.7 361.7L1602.1 371.6L1602.5 378.9L1602.9 393.7L1603.4 400.0L1603.8 395.0L1604.2 432.1L1604.6 412.5L1605.0 394.6L1605.4 415.1L1605.8 395.8L1606.2 381.5L1606.6 466.1L1607.0 375.5L1607.4 320.1L1607.8 391.7L1608.3 397.7L1608.7 268.8L1609.1 298.5L1609.5 297.9L1609.9 317.0L1610.3 404.0L1610.7 298.0L1611.1 361.5L1611.5 320.4L1611.9 300.3L1612.3 283.9L1612.7 268.2L1613.2 275.7L1613.6 359.0L1614.0 354.7L1614.4 205.2L1614.8 291.8L1615.2 271.0L1615.6 270.2L1616.0 267.4L1616.4 271.8L1616.8 271.4L1617.2 286.0L1617.6 285.1L1618.1 444.4L1618.5 329.7L1618.9 305.7L1619.3 301.4L1619.7 329.7L1620.1 340.4L1620.5 316.2L1620.9 346.6L1621.3 336.4L1621.7 407.1L1622.1 322.4L1622.5 327.9L1623.0 250.5L1623.4 347.0L1623.8 337.3L1624.2 355.0L1624.6 338.5L1625.0 330.1L1625.4 347.4L1625.8 357.4L1626.2 273.6L1626.6 345.7L1627.0 383.4L1627.4 248.5L1627.9 352.9L1628.3 356.7L1628.7 355.0L1629.1 330.1L1629.5 298.4L1629.9 314.4L1630.3 292.0L1630.7 284.4L1631.1 284.2L1631.5 372.4L1631.9 322.5L1632.3 299.4L1632.8 391.8L1633.2 320.9L1633.6 317.4L1634.0 258.0L1634.4 359.2L1634.8 337.0L1635.2 319.3L1635.6 236.3L1636.0 306.1L1636.4 320.6L1636.8 312.2L1637.2 326.7L1637.7 329.5L1638.1 275.7L1638.5 285.5L1638.9 451.4L1639.3 286.4L1639.7 272.5L1640.1 279.4L1640.5 365.3L1640.9 303.8L1641.3 293.1L1641.7 287.7L1642.1 305.8L1642.6 328.1L1643.0 344.7L1643.4 478.5L1643.8 338.5L1644.2 334.7L1644.6 313.9L1645.0 315.6L1645.4 371.9L1645.8 307.2L1646.2 271.4L1646.6 291.5L1647.0 302.9L1647.5 324.4L1647.9 311.8L1648.3 310.1L1648.7 195.9L1649.1 318.3L1649.5 321.5L1649.9 192.8L1650.3 326.2L1650.7 352.8L1651.1 314.4L1651.5 428.4L1651.9 322.2L1652.4 379.1L1652.8 319.4L1653.2 304.1L1653.6 343.9L1654.0 311.0L1654.4 324.7L1654.8 305.9L1655.2 297.3L1655.6 149.4L1656.0 269.4L1656.4 258.5L1656.8 275.6L1657.3 277.1L1657.7 265.8L1658.1 261.3L1658.5 252.8L1658.9 259.7L1659.3 270.0L1659.7 281.5L1660.1 273.5L1660.5 276.2L1660.9 291.2L1661.3 407.5L1661.7 410.2L1662.2 302.1L1662.6 297.0L1663.0 349.4L1663.4 301.3L1663.8 298.6L1664.2 400.0L1664.6 232.8L1665.0 441.2L1665.4 333.9L1665.8 329.2L1666.2 334.0L1666.6 313.4L1667.1 295.6L1667.5 311.3L1667.9 316.3L1668.3 280.3L1668.7 286.7L1669.1 281.2L1669.5 352.7L1669.9 360.7L1670.3 302.8L1670.7 410.2L1671.1 311.5L1671.5 199.0L1672.0 279.8L1672.4 306.9L1672.8 366.1L1673.2 391.4L1673.6 425.1L1674.0 333.7L1674.4 302.3L1674.8 293.5L1675.2 309.9L1675.6 236.3L1676.0 362.6L1676.4 284.0L1676.9 266.6L1677.3 303.2L1677.7 284.7L1678.1 263.2L1678.5 478.5L1678.9 279.6L1679.3 321.6L1679.7 382.6L1680.1 415.1L1680.5 412.2L1680.9 469.2L1681.3 309.2L1681.8 429.9L1682.2 375.3L1682.6 360.4L1683.0 266.5L1683.4 400.3L1683.8 367.6L1684.2 371.5L1684.6 355.4L1685.0 463.0L1685.4 303.1L1685.8 361.3L1686.2 350.8L1686.7 364.3L1687.1 465.6L1687.5 287.7L1687.9 290.7L1688.3 284.8L1688.7 245.6L1689.1 394.9L1689.5 395.9L1689.9 242.5L1690.3 396.4L1690.7 419.5L1691.1 475.4L1691.6 480.7L1692.0 481.1L1692.4 381.4L1692.8 472.7L1693.2 448.8L1693.6 485.7L1694.0 487.8L1694.4 454.6L1694.8 468.8L1695.2 475.2L1695.6 481.0L1696.0 484.9L1696.5 484.3L1696.9 398.6L1697.3 399.0L1697.7 395.9L1698.1 355.6L1698.5 389.0L1698.9 370.7L1699.3 344.7L1699.7 348.0L1700.1 331.1L1700.5 320.1L1700.9 344.0L1701.4 334.6L1701.8 352.3L1702.2 408.7L1702.6 346.0L1703.0 412.2L1703.4 354.6L1703.8 370.9L1704.2 258.0L1704.6 382.8L1705.0 374.1L1705.4 381.3L1705.8 425.7L1706.3 377.5L1706.7 395.6L1707.1 398.9L1707.5 394.6L1707.9 393.2L1708.3 338.5L1708.7 317.5L1709.1 250.8L1709.5 425.7L1709.9 294.4L1710.3 318.7L1710.7 330.8L1711.2 293.3L1711.6 205.2L1712.0 257.8L1712.4 291.8L1712.8 308.7L1713.2 291.8L1713.6 316.3L1714.0 298.1L1714.4 397.8L1714.8 273.6L1715.2 280.7L1715.6 217.7L1716.1 343.4L1716.5 332.1L1716.9 335.9L1717.3 343.0L1717.7 329.5L1718.1 245.6L1718.5 359.3L1718.9 322.4L1719.3 307.0L1719.7 349.8L1720.1 413.1L1720.5 469.1L1721.0 441.3L1721.4 451.4L1721.8 452.2L1722.2 463.3L1722.6 452.8L1723.0 475.0L1723.4 477.4L1723.8 494.0L1724.2 471.5L1724.6 446.0L1725.0 439.2L1725.4 453.1L1725.9 487.5L1726.3 449.2L1726.7 459.5L1727.1 478.5L1727.5 443.9L1727.9 442.4L1728.3 488.7L1728.7 458.3L1729.1 461.9L1729.5 481.8L1729.9 473.0L1730.3 472.0L1730.8 465.4L1731.2 393.6L1731.6 473.4L1732.0 342.0L1732.4 347.1L1732.8 497.1L1733.2 374.4L1733.6 388.6L1734.0 382.0L1734.4 374.8L1734.8 333.4L1735.2 331.3L1735.7 345.3L1736.1 370.3L1736.5 347.2L1736.9 352.6L1737.3 392.0L1737.7 382.0L1738.1 394.7L1738.5 405.9L1738.9 248.7L1739.3 387.4L1739.7 406.5L1740.1 396.2L1740.6 405.2L1741.0 394.4L1741.4 389.6L1741.8 379.3L1742.2 314.0L1742.6 438.1L1743.0 290.5L1743.4 384.2L1743.8 409.0L1744.2 290.9L1744.6 399.2L1745.0 405.0L1745.5 377.3L1745.9 314.5L1746.3 343.1L1746.7 302.4L1747.1 312.1L1747.5 365.0L1747.9 366.9L1748.3 355.6L1748.7 352.0L1749.1 347.9L1749.5 331.2L1749.9 369.8L1750.4 260.1L1750.8 266.0L1751.2 364.5L1751.6 360.5L1752.0 353.0L1752.4 361.0L1752.8 396.5L1753.2 318.1L1753.6 217.7L1754.0 229.9L1754.4 404.0L1754.8 300.9L1755.3 302.6L1755.7 301.5L1756.1 320.4L1756.5 237.1L1756.9 337.1L1757.3 343.9L1757.7 261.9L1758.1 241.9L1758.5 300.5L1758.9 242.5L1759.3 341.7L1759.7 360.7L1760.2 369.1L1760.6 323.9L1761.0 337.3L1761.4 353.4L1761.8 315.2L1762.2 318.4L1762.6 336.0L1763.0 351.7L1763.4 357.7L1763.8 327.6L1764.2 242.5L1764.6 310.2L1765.1 335.8L1765.5 373.0L1765.9 336.4L1766.3 371.8L1766.7 365.9L1767.1 404.8L1767.5 333.5L1767.9 374.3L1768.3 313.5L1768.7 443.7L1769.1 334.9L1769.5 363.7L1770.0 380.6L1770.4 343.6L1770.8 372.3L1771.2 453.6L1771.6 322.6L1772.0 273.6L1772.4 402.6L1772.8 403.2L1773.2 402.2L1773.6 410.5L1774.0 425.5L1774.4 384.0L1774.9 469.2L1775.3 403.4L1775.7 362.0L1776.1 391.3L1776.5 393.9L1776.9 384.2L1777.3 459.6L1777.7 421.1L1778.1 423.0L1778.5 433.5L1778.9 307.9L1779.3 432.4L1779.8 455.2L1780.2 478.5L1780.6 414.9L1781.0 411.5L1781.4 465.8L1781.8 424.6L1782.2 323.2L1782.6 437.0L1783.0 431.4L1783.4 425.3L1783.8 431.4L1784.2 416.2L1784.7 379.1L1785.1 466.1L1785.5 375.5L1785.9 444.5L1786.3 424.9L1786.7 427.2L1787.1 418.9L1787.5 400.8L1787.9 403.0L1788.3 405.9L1788.7 411.2L1789.1 307.7L1789.6 463.8L1790.0 439.6L1790.4 385.6L1790.8 329.4L1791.2 436.1L1791.6 436.7L1792.0 419.5L1792.4 406.4L1792.8 420.0L1793.2 427.7L1793.6 413.1L1794.0 404.9L1794.5 369.3L1794.9 472.3L1795.3 394.7L1795.7 428.8L1796.1 399.8L1796.5 330.7L1796.9 390.4L1797.3 387.9L1797.7 407.9L1798.1 385.2L1798.5 416.0L1798.9 423.9L1799.4 403.4L1799.8 415.7L1800.2 450.5L1800.6 322.1L1801.0 383.0L1801.4 318.7L1801.8 327.9L1802.2 331.3L1802.6 332.7L1803.0 328.6L1803.4 385.3L1803.8 346.3L1804.3 349.7L1804.7 301.5L1805.1 359.7L1805.5 353.9L1805.9 340.7L1806.3 300.4L1806.7 345.4L1807.1 352.3L1807.5 322.6L1807.9 327.9L1808.3 341.2L1808.7 330.1L1809.2 369.4L1809.6 410.2L1810.0 318.5L1810.4 377.3L1810.8 323.4L1811.2 326.5L1811.6 352.4L1812.0 331.6L1812.4 341.1L1812.8 335.3L1813.2 295.3L1813.6 335.6L1814.1 331.2L1814.5 322.5L1814.9 327.4L1815.3 350.6L1815.7 337.7L1816.1 402.6L1816.5 321.0L1816.9 349.3L1817.3 342.6L1817.7 350.7L1818.1 322.8L1818.5 346.1L1819.0 347.5L1819.4 346.7L1819.8 428.8L1820.2 342.5L1820.6 335.7L1821.0 405.4L1821.4 325.4L1821.8 298.4L1822.2 338.4L1822.6 315.1L1823.0 331.6L1823.4 344.6L1823.9 315.6L1824.3 316.6L1824.7 316.3L1825.1 312.6L1825.5 342.1L1825.9 393.3L1826.3 387.1L1826.7 415.6L1827.1 358.7L1827.5 328.4L1827.9 309.4L1828.3 354.1L1828.8 348.6L1829.2 345.9L1829.6 358.8L1830.0 351.3L1830.4 336.3L1830.8 314.5L1831.2 242.5L1831.6 314.5L1832.0 314.8L1832.4 323.0L1832.8 431.9L1833.2 333.4L1833.7 339.1L1834.1 327.3L1834.5 347.6L1834.9 359.4L1835.3 353.9L1835.7 420.4L1836.1 410.2L1836.5 324.0L1836.9 327.4L1837.3 274.0L1837.7 315.4L1838.1 328.2L1838.6 318.6L1839.0 339.7L1839.4 348.9L1839.8 344.1L1840.2 353.8L1840.6 359.1" fill="none" stroke="#0072bd" stroke-width="2" stroke-linejoin="round"/>
</g>
<rect x="1095" y="50" width="746" height="621" fill="none" stroke="#262626" stroke-width="2"/>
<path d="M1095.0 671.0v-7M1095.0 50.0v7M1244.2 671.0v-7M1244.2 50.0v7M1393.4 671.0v-7M1393.4 50.0v7M1542.6 671.0v-7M1542.6 50.0v7M1691.8 671.0v-7M1691.8 50.0v7M1841.0 671.0v-7M1841.0 50.0v7M1095.0 671.0h7M1841.0 671.0h-7M1095.0 515.8h7M1841.0 515.8h-7M1095.0 360.5h7M1841.0 360.5h-7M1095.0 205.2h7M1841.0 205.2h-7M1095.0 50.0h7M1841.0 50.0h-7" stroke="#262626" stroke-width="2" fill="none"/>
<text x="1025.82" y="684.00" font-size="37.00" fill="#262626">-10</text>
<text x="1046.54" y="528.75" font-size="37.00" fill="#262626">-5</text>
<text x="1058.75" y="373.50" font-size="37.00" fill="#262626">0</text>
<text x="1058.85" y="218.25" font-size="37.00" fill="#262626">5</text>
<text x="1038.22" y="63.00" font-size="37.00" fill="#262626">10</text>
<text x="1053.15" y="722.00" font-size="37.00" fill="#262626">2020</text>
<text x="1202.54" y="722.00" font-size="37.00" fill="#262626">2021</text>
<text x="1351.78" y="722.00" font-size="37.00" fill="#262626">2022</text>
<text x="1500.85" y="722.00" font-size="37.00" fill="#262626">2023</text>
<text x="1649.77" y="722.00" font-size="37.00" fill="#262626">2024</text>
<text x="1799.20" y="722.00" font-size="37.00" fill="#262626">2025</text>
<text x="1424.63" y="766.50" font-size="43.50" fill="#262626" textLength="87.14" lengthAdjust="spacingAndGlyphs">Year</text>
<text transform="translate(1006.00,449.10) rotate(-90)" x="0" y="0" font-size="40.50" fill="#262626" textLength="177.88" lengthAdjust="spacingAndGlyphs">Amplitude</text>
<text x="1195.22" y="36.50" font-size="40.10" fill="#000" font-weight="bold">Time Evolution of EOF Mode</text>
</g>
</svg></body></html>
